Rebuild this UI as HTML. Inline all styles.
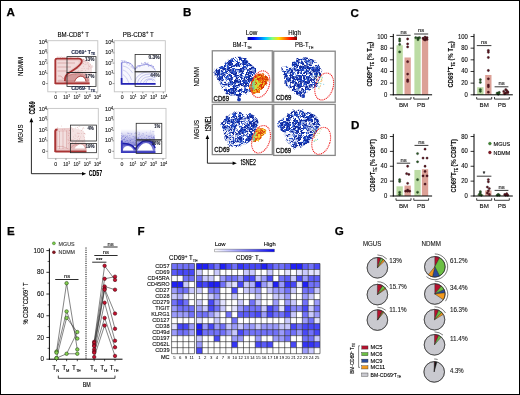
<!DOCTYPE html>
<html><head><meta charset="utf-8"><style>
html,body{margin:0;padding:0;background:#fff;}
svg{display:block;will-change:transform;}
text{font-family:"Liberation Sans", sans-serif;}
</style></head><body>
<svg width="520" height="395" viewBox="0 0 520 395" font-family='"Liberation Sans", sans-serif'>
<defs><linearGradient id="pbg" x1="0" x2="0" y1="0" y2="1"><stop offset="0" stop-color="#7070d0" stop-opacity="0"/><stop offset="1" stop-color="#6060c8" stop-opacity="0.75"/></linearGradient><linearGradient id="jet" x1="0" x2="1" y1="0" y2="0"><stop offset="0" stop-color="#000080"/><stop offset="0.12" stop-color="#0000ff"/><stop offset="0.37" stop-color="#00d0ff"/><stop offset="0.5" stop-color="#80ff80"/><stop offset="0.63" stop-color="#ffe000"/><stop offset="0.87" stop-color="#ff1000"/><stop offset="1" stop-color="#800000"/></linearGradient><filter id="fray1" x="-10%" y="-10%" width="120%" height="120%" color-interpolation-filters="sRGB">
  <feTurbulence type="fractalNoise" baseFrequency="0.25" numOctaves="2" seed="3" result="d"/>
  <feDisplacementMap in="SourceGraphic" in2="d" scale="4" xChannelSelector="R" yChannelSelector="G" result="dm"/><feGaussianBlur in="dm" stdDeviation="0.4"/></filter><filter id="fray2" x="-10%" y="-10%" width="120%" height="120%" color-interpolation-filters="sRGB">
  <feTurbulence type="fractalNoise" baseFrequency="0.25" numOctaves="2" seed="5" result="d"/>
  <feDisplacementMap in="SourceGraphic" in2="d" scale="4" xChannelSelector="R" yChannelSelector="G" result="dm"/><feGaussianBlur in="dm" stdDeviation="0.4"/></filter><filter id="fray3" x="-10%" y="-10%" width="120%" height="120%" color-interpolation-filters="sRGB">
  <feTurbulence type="fractalNoise" baseFrequency="0.25" numOctaves="2" seed="8" result="d"/>
  <feDisplacementMap in="SourceGraphic" in2="d" scale="4" xChannelSelector="R" yChannelSelector="G" result="dm"/><feGaussianBlur in="dm" stdDeviation="0.4"/></filter><filter id="fray4" x="-10%" y="-10%" width="120%" height="120%" color-interpolation-filters="sRGB">
  <feTurbulence type="fractalNoise" baseFrequency="0.25" numOctaves="2" seed="12" result="d"/>
  <feDisplacementMap in="SourceGraphic" in2="d" scale="4" xChannelSelector="R" yChannelSelector="G" result="dm"/><feGaussianBlur in="dm" stdDeviation="0.4"/></filter><filter id="h1" x="0" y="0" width="1" height="1" color-interpolation-filters="sRGB">
  <feTurbulence type="fractalNoise" baseFrequency="0.9" numOctaves="2" seed="4" result="t"/>
  <feColorMatrix in="t" type="matrix" values="0 0 0 0 0  0 0 0 0 0  0 0 0 0 0  10 0 0 0 -3.0" result="m"/>
  <feComposite in="SourceGraphic" in2="m" operator="in"/></filter>
<filter id="h2" x="0" y="0" width="1" height="1" color-interpolation-filters="sRGB">
  <feTurbulence type="fractalNoise" baseFrequency="0.4" numOctaves="2" seed="9" result="t"/>
  <feColorMatrix in="t" type="matrix" values="0 0 0 0 0  0 0 0 0 0  0 0 0 0 0  9 0 0 0 -3.9" result="m"/>
  <feComposite in="SourceGraphic" in2="m" operator="in"/></filter>
<filter id="h3" x="0" y="0" width="1" height="1" color-interpolation-filters="sRGB">
  <feTurbulence type="fractalNoise" baseFrequency="0.6" numOctaves="2" seed="13" result="t"/>
  <feColorMatrix in="t" type="matrix" values="0 0 0 0 0  0 0 0 0 0  0 0 0 0 0  12 0 0 0 -7.6" result="m"/>
  <feComposite in="SourceGraphic" in2="m" operator="in"/></filter>
<filter id="h5" x="0" y="0" width="1" height="1" color-interpolation-filters="sRGB">
  <feTurbulence type="fractalNoise" baseFrequency="0.55" numOctaves="2" seed="31" result="t"/>
  <feColorMatrix in="t" type="matrix" values="0 0 0 0 0  0 0 0 0 0  0 0 0 0 0  10 0 0 0 -4.9" result="m"/>
  <feComposite in="SourceGraphic" in2="m" operator="in"/></filter>
<filter id="h6" x="0" y="0" width="1" height="1" color-interpolation-filters="sRGB">
  <feTurbulence type="fractalNoise" baseFrequency="0.5" numOctaves="2" seed="41" result="t"/>
  <feColorMatrix in="t" type="matrix" values="0 0 0 0 0  0 0 0 0 0  0 0 0 0 0  12 0 0 0 -7.4" result="m"/>
  <feComposite in="SourceGraphic" in2="m" operator="in"/></filter>
<filter id="h7" x="0" y="0" width="1" height="1" color-interpolation-filters="sRGB">
  <feTurbulence type="fractalNoise" baseFrequency="0.3" numOctaves="3" seed="57" result="t"/>
  <feColorMatrix in="t" type="matrix" values="0 0 0 0 0  0 0 0 0 0  0 0 0 0 0  14 0 0 0 -8.1" result="m"/>
  <feComposite in="SourceGraphic" in2="m" operator="in"/></filter>
<filter id="h4" x="0" y="0" width="1" height="1" color-interpolation-filters="sRGB">
  <feTurbulence type="fractalNoise" baseFrequency="0.7" numOctaves="2" seed="21" result="t"/>
  <feColorMatrix in="t" type="matrix" values="0 0 0 0 0  0 0 0 0 0  0 0 0 0 0  10 0 0 0 -4.6" result="m"/>
  <feComposite in="SourceGraphic" in2="m" operator="in"/></filter><linearGradient id="wb" x1="0" x2="1"><stop offset="0" stop-color="#ffffff"/><stop offset="1" stop-color="#0505f2"/></linearGradient></defs>
<rect x="0" y="0" width="520" height="395" fill="#fff"/>
<text x="6.60" y="16.30" font-size="11.6" text-anchor="start" font-weight="bold" fill="#000" stroke="#000" stroke-width="0.25">A</text>
<text x="57.50" y="36.90" font-size="6.5" text-anchor="start" font-weight="normal" fill="#000" textLength="31.5" lengthAdjust="spacingAndGlyphs"  stroke="#000" stroke-width="0.12">BM-CD8<tspan dy="-2.7" font-size="5.0">+</tspan><tspan dy="2.7">​</tspan> T</text>
<text x="122.85" y="36.90" font-size="6.5" text-anchor="start" font-weight="normal" fill="#000" textLength="31" lengthAdjust="spacingAndGlyphs"  stroke="#000" stroke-width="0.12">PB-CD8<tspan dy="-2.7" font-size="5.0">+</tspan><tspan dy="2.7">​</tspan> T</text>
<text x="-9.50" y="0.00" font-size="6.4" text-anchor="start" font-weight="normal" fill="#000" transform="translate(23.1,66.4) rotate(-90)" textLength="19" lengthAdjust="spacingAndGlyphs"  stroke="#000" stroke-width="0.12">NDMM</text>
<text x="-9.10" y="0.00" font-size="6.4" text-anchor="start" font-weight="normal" fill="#000" transform="translate(23.3,133.6) rotate(-90)" textLength="18.2" lengthAdjust="spacingAndGlyphs"  stroke="#000" stroke-width="0.12">MGUS</text>
<rect x="47.80" y="40.70" width="50.00" height="51.10" fill="none" stroke="#c4c4c4" stroke-width="0.9" />
<rect x="114.30" y="40.70" width="51.00" height="51.10" fill="none" stroke="#c4c4c4" stroke-width="0.9" />
<rect x="47.80" y="108.40" width="50.50" height="50.00" fill="none" stroke="#c4c4c4" stroke-width="0.9" />
<rect x="114.00" y="108.40" width="52.00" height="50.00" fill="none" stroke="#c4c4c4" stroke-width="0.9" />
<path d="M78,58.5 Q90,60 92,66 L92,76 Q90,73 84,74 L72,73 Z" fill="#f3e0e0"/>
<path d="M55,58.2 L80,58.2 Q84,58.6 83.5,62 Q82,66 74,70.5 Q88,71.5 89.5,78 L90,84.8 L55,84.8 Z" fill="#ebcaca"/>
<path d="M57,61 L78,61 Q80,62 77,65 Q72,69 67,72 Q64.5,74 64.5,78 L57,80 Z" fill="#f2dada"/>
<path d="M65,76 Q70,73.2 78,73.4 Q86,74 88.6,79.5 L89,84 L64.6,84 Z" fill="#d49a9a"/>
<path d="M55.3,84 L55.3,59.8 Q55.5,58.7 57,58.7 L79,58.7 Q82.6,59.2 81.6,62.4 Q79.4,66.6 71.5,71.2 Q66,74.2 65.2,77.5 L64.9,81" fill="none" stroke="#a93434" stroke-width="1.8"/>
<path d="M55.4,83.3 L89.6,83.3" fill="none" stroke="#a93434" stroke-width="1.8"/>
<path d="M57.5,63 L75,63 M57.5,67 L71,67 M57.5,71 L67,71 M58,76 Q61,74.5 63.5,79 M66.5,77 Q72,73.2 80,73.6 Q87,74.3 88.8,81 M58,81 L88,81" fill="none" stroke="#a93434" stroke-width="0.5" opacity="0.55"/>
<path d="M74.8,81.6 Q76.5,77.2 80.5,76.7 Q84.8,76.6 85.6,81.6 Z" fill="#fff"/>
<path d="M74.6,81.4 Q76.5,76.6 80.5,76.1 Q85.2,76 86,81.4" fill="none" stroke="#a93434" stroke-width="0.9" opacity="0.9"/>
<circle cx="77.2" cy="68.5" r="0.4" fill="#a93434" opacity="0.4"/>
<circle cx="83.6" cy="59.6" r="0.4" fill="#a93434" opacity="0.4"/>
<circle cx="92.9" cy="66.3" r="0.4" fill="#a93434" opacity="0.4"/>
<circle cx="88.9" cy="66.4" r="0.4" fill="#a93434" opacity="0.4"/>
<circle cx="84.0" cy="61.0" r="0.4" fill="#a93434" opacity="0.4"/>
<circle cx="83.9" cy="72.8" r="0.4" fill="#a93434" opacity="0.4"/>
<circle cx="81.1" cy="70.7" r="0.4" fill="#a93434" opacity="0.4"/>
<circle cx="84.8" cy="59.6" r="0.4" fill="#a93434" opacity="0.4"/>
<circle cx="87.0" cy="68.3" r="0.4" fill="#a93434" opacity="0.4"/>
<circle cx="89.6" cy="66.3" r="0.4" fill="#a93434" opacity="0.4"/>
<circle cx="86.0" cy="73.0" r="0.4" fill="#a93434" opacity="0.4"/>
<circle cx="85.9" cy="73.7" r="0.4" fill="#a93434" opacity="0.4"/>
<circle cx="77.9" cy="71.7" r="0.4" fill="#a93434" opacity="0.4"/>
<circle cx="79.1" cy="73.9" r="0.4" fill="#a93434" opacity="0.4"/>
<circle cx="90.0" cy="60.1" r="0.4" fill="#a93434" opacity="0.4"/>
<circle cx="92.1" cy="65.7" r="0.4" fill="#a93434" opacity="0.4"/>
<circle cx="83.7" cy="63.5" r="0.4" fill="#a93434" opacity="0.4"/>
<circle cx="80.7" cy="64.9" r="0.4" fill="#a93434" opacity="0.4"/>
<circle cx="76.8" cy="68.2" r="0.4" fill="#a93434" opacity="0.4"/>
<circle cx="82.6" cy="73.4" r="0.4" fill="#a93434" opacity="0.4"/>
<circle cx="85.0" cy="73.8" r="0.4" fill="#a93434" opacity="0.4"/>
<circle cx="89.4" cy="74.9" r="0.4" fill="#a93434" opacity="0.4"/>
<circle cx="84.8" cy="61.2" r="0.4" fill="#a93434" opacity="0.4"/>
<circle cx="89.5" cy="74.4" r="0.4" fill="#a93434" opacity="0.4"/>
<circle cx="90.6" cy="67.9" r="0.4" fill="#a93434" opacity="0.4"/>
<circle cx="85.8" cy="62.0" r="0.4" fill="#a93434" opacity="0.4"/>
<circle cx="88.8" cy="68.0" r="0.4" fill="#a93434" opacity="0.4"/>
<circle cx="89.3" cy="74.8" r="0.4" fill="#a93434" opacity="0.4"/>
<circle cx="75.3" cy="71.2" r="0.4" fill="#a93434" opacity="0.4"/>
<circle cx="89.8" cy="59.2" r="0.4" fill="#a93434" opacity="0.4"/>
<circle cx="83.4" cy="59.2" r="0.4" fill="#a93434" opacity="0.4"/>
<circle cx="86.0" cy="64.0" r="0.4" fill="#a93434" opacity="0.4"/>
<circle cx="90.0" cy="74.7" r="0.4" fill="#a93434" opacity="0.4"/>
<circle cx="80.6" cy="75.0" r="0.4" fill="#a93434" opacity="0.4"/>
<circle cx="83.0" cy="59.0" r="0.4" fill="#a93434" opacity="0.4"/>
<circle cx="83.3" cy="61.1" r="0.4" fill="#a93434" opacity="0.4"/>
<circle cx="75.8" cy="74.3" r="0.4" fill="#a93434" opacity="0.4"/>
<circle cx="90.4" cy="64.7" r="0.4" fill="#a93434" opacity="0.4"/>
<circle cx="79.5" cy="67.1" r="0.4" fill="#a93434" opacity="0.4"/>
<circle cx="84.1" cy="68.3" r="0.4" fill="#a93434" opacity="0.4"/>
<circle cx="82.0" cy="68.7" r="0.4" fill="#a93434" opacity="0.4"/>
<circle cx="91.5" cy="66.9" r="0.4" fill="#a93434" opacity="0.4"/>
<circle cx="78.8" cy="70.4" r="0.4" fill="#a93434" opacity="0.4"/>
<circle cx="92.4" cy="67.1" r="0.4" fill="#a93434" opacity="0.4"/>
<circle cx="78.4" cy="68.1" r="0.4" fill="#a93434" opacity="0.4"/>
<circle cx="83.8" cy="59.5" r="0.4" fill="#a93434" opacity="0.4"/>
<circle cx="83.7" cy="66.2" r="0.4" fill="#a93434" opacity="0.4"/>
<circle cx="85.0" cy="64.3" r="0.4" fill="#a93434" opacity="0.4"/>
<circle cx="85.7" cy="70.7" r="0.4" fill="#a93434" opacity="0.4"/>
<circle cx="84.9" cy="74.4" r="0.4" fill="#a93434" opacity="0.4"/>
<circle cx="82.8" cy="63.8" r="0.4" fill="#a93434" opacity="0.4"/>
<circle cx="77.2" cy="68.3" r="0.4" fill="#a93434" opacity="0.4"/>
<circle cx="87.3" cy="58.9" r="0.4" fill="#a93434" opacity="0.4"/>
<circle cx="82.2" cy="70.6" r="0.4" fill="#a93434" opacity="0.4"/>
<circle cx="88.1" cy="62.4" r="0.4" fill="#a93434" opacity="0.4"/>
<circle cx="85.5" cy="60.2" r="0.4" fill="#a93434" opacity="0.4"/>
<circle cx="88.8" cy="65.7" r="0.4" fill="#a93434" opacity="0.4"/>
<circle cx="89.4" cy="61.3" r="0.4" fill="#a93434" opacity="0.4"/>
<circle cx="76.4" cy="69.2" r="0.4" fill="#a93434" opacity="0.4"/>
<circle cx="90.1" cy="65.9" r="0.4" fill="#a93434" opacity="0.4"/>
<circle cx="81.2" cy="61.6" r="0.4" fill="#a93434" opacity="0.4"/>
<circle cx="88.2" cy="72.3" r="0.4" fill="#a93434" opacity="0.4"/>
<circle cx="88.2" cy="69.1" r="0.4" fill="#a93434" opacity="0.4"/>
<circle cx="88.2" cy="64.2" r="0.4" fill="#a93434" opacity="0.4"/>
<circle cx="87.8" cy="63.0" r="0.4" fill="#a93434" opacity="0.4"/>
<circle cx="66.1" cy="57.3" r="0.35" fill="#a93434" opacity="0.35"/>
<circle cx="78.1" cy="56.8" r="0.35" fill="#a93434" opacity="0.35"/>
<circle cx="56.1" cy="58.4" r="0.35" fill="#a93434" opacity="0.35"/>
<circle cx="77.1" cy="58.5" r="0.35" fill="#a93434" opacity="0.35"/>
<circle cx="66.4" cy="58.4" r="0.35" fill="#a93434" opacity="0.35"/>
<circle cx="78.3" cy="56.9" r="0.35" fill="#a93434" opacity="0.35"/>
<circle cx="73.9" cy="58.2" r="0.35" fill="#a93434" opacity="0.35"/>
<circle cx="71.9" cy="57.5" r="0.35" fill="#a93434" opacity="0.35"/>
<circle cx="62.9" cy="57.2" r="0.35" fill="#a93434" opacity="0.35"/>
<circle cx="61.5" cy="56.6" r="0.35" fill="#a93434" opacity="0.35"/>
<circle cx="70.1" cy="57.1" r="0.35" fill="#a93434" opacity="0.35"/>
<circle cx="75.4" cy="56.6" r="0.35" fill="#a93434" opacity="0.35"/>
<circle cx="77.7" cy="57.9" r="0.35" fill="#a93434" opacity="0.35"/>
<circle cx="78.2" cy="58.3" r="0.35" fill="#a93434" opacity="0.35"/>
<circle cx="77.6" cy="57.7" r="0.35" fill="#a93434" opacity="0.35"/>
<circle cx="56.3" cy="58.0" r="0.35" fill="#a93434" opacity="0.35"/>
<circle cx="60.1" cy="57.1" r="0.35" fill="#a93434" opacity="0.35"/>
<circle cx="71.9" cy="57.5" r="0.35" fill="#a93434" opacity="0.35"/>
<circle cx="65.9" cy="58.4" r="0.35" fill="#a93434" opacity="0.35"/>
<circle cx="70.7" cy="57.2" r="0.35" fill="#a93434" opacity="0.35"/>
<circle cx="62.1" cy="58.2" r="0.35" fill="#a93434" opacity="0.35"/>
<circle cx="67.5" cy="58.1" r="0.35" fill="#a93434" opacity="0.35"/>
<circle cx="64.4" cy="56.9" r="0.35" fill="#a93434" opacity="0.35"/>
<circle cx="68.8" cy="58.1" r="0.35" fill="#a93434" opacity="0.35"/>
<circle cx="60.1" cy="58.1" r="0.35" fill="#a93434" opacity="0.35"/>
<circle cx="78.1" cy="58.1" r="0.35" fill="#a93434" opacity="0.35"/>
<circle cx="75.8" cy="56.5" r="0.35" fill="#a93434" opacity="0.35"/>
<circle cx="71.1" cy="58.2" r="0.35" fill="#a93434" opacity="0.35"/>
<circle cx="57.2" cy="57.0" r="0.35" fill="#a93434" opacity="0.35"/>
<circle cx="62.4" cy="57.6" r="0.35" fill="#a93434" opacity="0.35"/>
<circle cx="66.2" cy="57.4" r="0.35" fill="#a93434" opacity="0.35"/>
<circle cx="74.6" cy="56.5" r="0.35" fill="#a93434" opacity="0.35"/>
<circle cx="57.3" cy="56.8" r="0.35" fill="#a93434" opacity="0.35"/>
<circle cx="59.0" cy="56.6" r="0.35" fill="#a93434" opacity="0.35"/>
<circle cx="79.4" cy="58.2" r="0.35" fill="#a93434" opacity="0.35"/>
<circle cx="58.1" cy="57.5" r="0.35" fill="#a93434" opacity="0.35"/>
<circle cx="63.6" cy="57.1" r="0.35" fill="#a93434" opacity="0.35"/>
<circle cx="64.4" cy="57.8" r="0.35" fill="#a93434" opacity="0.35"/>
<circle cx="70.1" cy="57.2" r="0.35" fill="#a93434" opacity="0.35"/>
<circle cx="60.6" cy="57.2" r="0.35" fill="#a93434" opacity="0.35"/>
<path d="M69,127.5 Q78,128.5 84,131 L85.5,143 L69,143 Z" fill="#f4e2e2"/>
<path d="M54.5,130 Q55,128.5 58,128.3 L70,128 L70.5,152.6 L54.5,152.6 Z" fill="#ebcbcb"/>
<path d="M69.5,143 L86.4,143 L86.6,152.6 L69.5,152.6 Z" fill="#e4bcbc"/>
<path d="M58,132 L67,131.5 L67.5,148 L58,148 Z" fill="#f4e4e4" opacity="0.8"/>
<path d="M55.3,152 L55.3,131.2 Q55.5,129.6 57.5,129.6" fill="none" stroke="#a93434" stroke-width="2.0"/>
<path d="M55.3,151.5 L86.4,151.5" fill="none" stroke="#a93434" stroke-width="1.9"/>
<path d="M59.5,131 L59.5,149 M63,130.5 L63,149 M66.5,130.5 L66.5,148 M57.5,146.5 Q62,145 68.5,149 M69.5,149.5 Q73,144 79,143.6 Q85,143.8 86,149.5" fill="none" stroke="#a93434" stroke-width="0.5" opacity="0.45"/>
<path d="M74.6,148.4 Q77,144.6 80.6,144.6 Q84,144.8 84.8,148.4 Z" fill="#fff"/>
<circle cx="77.2" cy="133.3" r="0.4" fill="#a93434" opacity="0.38"/>
<circle cx="57.5" cy="129.2" r="0.4" fill="#a93434" opacity="0.38"/>
<circle cx="79.3" cy="133.3" r="0.4" fill="#a93434" opacity="0.38"/>
<circle cx="79.8" cy="138.3" r="0.4" fill="#a93434" opacity="0.38"/>
<circle cx="68.4" cy="133.1" r="0.4" fill="#a93434" opacity="0.38"/>
<circle cx="70.4" cy="139.9" r="0.4" fill="#a93434" opacity="0.38"/>
<circle cx="68.0" cy="139.7" r="0.4" fill="#a93434" opacity="0.38"/>
<circle cx="69.3" cy="130.5" r="0.4" fill="#a93434" opacity="0.38"/>
<circle cx="71.6" cy="139.8" r="0.4" fill="#a93434" opacity="0.38"/>
<circle cx="68.2" cy="143.5" r="0.4" fill="#a93434" opacity="0.38"/>
<circle cx="84.0" cy="133.2" r="0.4" fill="#a93434" opacity="0.38"/>
<circle cx="82.8" cy="141.7" r="0.4" fill="#a93434" opacity="0.38"/>
<circle cx="75.5" cy="143.7" r="0.4" fill="#a93434" opacity="0.38"/>
<circle cx="79.6" cy="139.2" r="0.4" fill="#a93434" opacity="0.38"/>
<circle cx="77.7" cy="137.1" r="0.4" fill="#a93434" opacity="0.38"/>
<circle cx="55.2" cy="128.4" r="0.4" fill="#a93434" opacity="0.38"/>
<circle cx="79.0" cy="126.4" r="0.4" fill="#a93434" opacity="0.38"/>
<circle cx="57.8" cy="127.5" r="0.4" fill="#a93434" opacity="0.38"/>
<circle cx="82.3" cy="129.2" r="0.4" fill="#a93434" opacity="0.38"/>
<circle cx="75.9" cy="142.6" r="0.4" fill="#a93434" opacity="0.38"/>
<circle cx="84.5" cy="137.4" r="0.4" fill="#a93434" opacity="0.38"/>
<circle cx="79.8" cy="126.2" r="0.4" fill="#a93434" opacity="0.38"/>
<circle cx="78.8" cy="136.0" r="0.4" fill="#a93434" opacity="0.38"/>
<circle cx="77.2" cy="127.7" r="0.4" fill="#a93434" opacity="0.38"/>
<circle cx="78.2" cy="144.7" r="0.4" fill="#a93434" opacity="0.38"/>
<circle cx="72.5" cy="142.5" r="0.4" fill="#a93434" opacity="0.38"/>
<circle cx="62.5" cy="129.2" r="0.4" fill="#a93434" opacity="0.38"/>
<circle cx="78.4" cy="133.6" r="0.4" fill="#a93434" opacity="0.38"/>
<circle cx="85.2" cy="134.0" r="0.4" fill="#a93434" opacity="0.38"/>
<circle cx="78.2" cy="128.8" r="0.4" fill="#a93434" opacity="0.38"/>
<circle cx="76.4" cy="141.0" r="0.4" fill="#a93434" opacity="0.38"/>
<circle cx="75.9" cy="136.1" r="0.4" fill="#a93434" opacity="0.38"/>
<circle cx="70.0" cy="138.7" r="0.4" fill="#a93434" opacity="0.38"/>
<circle cx="82.8" cy="128.6" r="0.4" fill="#a93434" opacity="0.38"/>
<circle cx="83.4" cy="136.1" r="0.4" fill="#a93434" opacity="0.38"/>
<circle cx="68.7" cy="140.2" r="0.4" fill="#a93434" opacity="0.38"/>
<circle cx="76.4" cy="145.0" r="0.4" fill="#a93434" opacity="0.38"/>
<circle cx="73.1" cy="131.0" r="0.4" fill="#a93434" opacity="0.38"/>
<circle cx="61.7" cy="126.0" r="0.4" fill="#a93434" opacity="0.38"/>
<circle cx="69.9" cy="133.3" r="0.4" fill="#a93434" opacity="0.38"/>
<circle cx="69.9" cy="137.8" r="0.4" fill="#a93434" opacity="0.38"/>
<circle cx="69.5" cy="142.6" r="0.4" fill="#a93434" opacity="0.38"/>
<circle cx="80.5" cy="136.9" r="0.4" fill="#a93434" opacity="0.38"/>
<circle cx="69.9" cy="140.3" r="0.4" fill="#a93434" opacity="0.38"/>
<circle cx="81.6" cy="133.7" r="0.4" fill="#a93434" opacity="0.38"/>
<circle cx="77.7" cy="145.2" r="0.4" fill="#a93434" opacity="0.38"/>
<circle cx="69.5" cy="130.2" r="0.4" fill="#a93434" opacity="0.38"/>
<circle cx="75.9" cy="145.2" r="0.4" fill="#a93434" opacity="0.38"/>
<circle cx="81.5" cy="130.5" r="0.4" fill="#a93434" opacity="0.38"/>
<circle cx="81.6" cy="143.9" r="0.4" fill="#a93434" opacity="0.38"/>
<circle cx="77.6" cy="127.3" r="0.4" fill="#a93434" opacity="0.38"/>
<circle cx="73.0" cy="139.3" r="0.4" fill="#a93434" opacity="0.38"/>
<circle cx="68.5" cy="135.5" r="0.4" fill="#a93434" opacity="0.38"/>
<circle cx="84.6" cy="133.5" r="0.4" fill="#a93434" opacity="0.38"/>
<circle cx="71.9" cy="127.9" r="0.4" fill="#a93434" opacity="0.38"/>
<circle cx="83.2" cy="127.5" r="0.4" fill="#a93434" opacity="0.38"/>
<circle cx="84.2" cy="133.2" r="0.4" fill="#a93434" opacity="0.38"/>
<circle cx="78.9" cy="141.0" r="0.4" fill="#a93434" opacity="0.38"/>
<circle cx="75.3" cy="142.0" r="0.4" fill="#a93434" opacity="0.38"/>
<circle cx="84.8" cy="139.3" r="0.4" fill="#a93434" opacity="0.38"/>
<circle cx="71.6" cy="127.8" r="0.4" fill="#a93434" opacity="0.38"/>
<circle cx="70.3" cy="132.7" r="0.4" fill="#a93434" opacity="0.38"/>
<circle cx="77.3" cy="139.4" r="0.4" fill="#a93434" opacity="0.38"/>
<circle cx="72.6" cy="129.2" r="0.4" fill="#a93434" opacity="0.38"/>
<circle cx="75.0" cy="138.4" r="0.4" fill="#a93434" opacity="0.38"/>
<circle cx="75.3" cy="128.0" r="0.4" fill="#a93434" opacity="0.38"/>
<circle cx="83.9" cy="128.4" r="0.4" fill="#a93434" opacity="0.38"/>
<circle cx="73.5" cy="136.9" r="0.4" fill="#a93434" opacity="0.38"/>
<circle cx="75.1" cy="134.9" r="0.4" fill="#a93434" opacity="0.38"/>
<circle cx="64.7" cy="129.1" r="0.4" fill="#a93434" opacity="0.38"/>
<circle cx="78.4" cy="136.6" r="0.4" fill="#a93434" opacity="0.38"/>
<circle cx="77.9" cy="132.9" r="0.4" fill="#a93434" opacity="0.38"/>
<path d="M121,62.4 Q127,61.4 131,63.6 Q133.5,66 134.6,69.2 Q138,65 145,64.3 Q152,64.3 155.4,70.4 L155.6,84.8 L121,84.8 Z" fill="#f7f7fd"/>
<circle cx="130.0" cy="64.5" r="0.4" fill="#5a5ad0" opacity="0.5"/>
<circle cx="151.1" cy="64.3" r="0.4" fill="#5a5ad0" opacity="0.5"/>
<circle cx="138.3" cy="65.4" r="0.4" fill="#5a5ad0" opacity="0.5"/>
<circle cx="147.5" cy="63.6" r="0.4" fill="#5a5ad0" opacity="0.5"/>
<circle cx="132.2" cy="66.3" r="0.4" fill="#5a5ad0" opacity="0.5"/>
<circle cx="139.6" cy="66.3" r="0.4" fill="#5a5ad0" opacity="0.5"/>
<circle cx="132.9" cy="68.4" r="0.4" fill="#5a5ad0" opacity="0.5"/>
<circle cx="124.8" cy="61.7" r="0.4" fill="#5a5ad0" opacity="0.5"/>
<circle cx="124.4" cy="61.0" r="0.4" fill="#5a5ad0" opacity="0.5"/>
<circle cx="147.9" cy="65.0" r="0.4" fill="#5a5ad0" opacity="0.5"/>
<circle cx="127.2" cy="62.3" r="0.4" fill="#5a5ad0" opacity="0.5"/>
<circle cx="135.2" cy="69.9" r="0.4" fill="#5a5ad0" opacity="0.5"/>
<circle cx="149.2" cy="65.6" r="0.4" fill="#5a5ad0" opacity="0.5"/>
<circle cx="141.3" cy="63.3" r="0.4" fill="#5a5ad0" opacity="0.5"/>
<circle cx="134.4" cy="67.6" r="0.4" fill="#5a5ad0" opacity="0.5"/>
<circle cx="139.1" cy="65.9" r="0.4" fill="#5a5ad0" opacity="0.5"/>
<circle cx="127.8" cy="62.8" r="0.4" fill="#5a5ad0" opacity="0.5"/>
<circle cx="148.0" cy="62.7" r="0.4" fill="#5a5ad0" opacity="0.5"/>
<circle cx="148.7" cy="65.9" r="0.4" fill="#5a5ad0" opacity="0.5"/>
<circle cx="153.8" cy="67.6" r="0.4" fill="#5a5ad0" opacity="0.5"/>
<circle cx="139.9" cy="65.5" r="0.4" fill="#5a5ad0" opacity="0.5"/>
<circle cx="142.8" cy="65.7" r="0.4" fill="#5a5ad0" opacity="0.5"/>
<circle cx="144.6" cy="63.1" r="0.4" fill="#5a5ad0" opacity="0.5"/>
<circle cx="150.7" cy="65.5" r="0.4" fill="#5a5ad0" opacity="0.5"/>
<circle cx="141.6" cy="65.2" r="0.4" fill="#5a5ad0" opacity="0.5"/>
<circle cx="121.1" cy="62.8" r="0.4" fill="#5a5ad0" opacity="0.5"/>
<circle cx="143.8" cy="63.9" r="0.4" fill="#5a5ad0" opacity="0.5"/>
<circle cx="138.9" cy="65.7" r="0.4" fill="#5a5ad0" opacity="0.5"/>
<circle cx="127.5" cy="63.6" r="0.4" fill="#5a5ad0" opacity="0.5"/>
<circle cx="122.3" cy="62.0" r="0.4" fill="#5a5ad0" opacity="0.5"/>
<circle cx="143.2" cy="63.8" r="0.4" fill="#5a5ad0" opacity="0.5"/>
<circle cx="140.4" cy="66.5" r="0.4" fill="#5a5ad0" opacity="0.5"/>
<circle cx="151.8" cy="65.1" r="0.4" fill="#5a5ad0" opacity="0.5"/>
<circle cx="148.3" cy="64.8" r="0.4" fill="#5a5ad0" opacity="0.5"/>
<circle cx="122.7" cy="61.5" r="0.4" fill="#5a5ad0" opacity="0.5"/>
<circle cx="128.9" cy="62.8" r="0.4" fill="#5a5ad0" opacity="0.5"/>
<circle cx="139.5" cy="66.9" r="0.4" fill="#5a5ad0" opacity="0.5"/>
<circle cx="131.9" cy="67.6" r="0.4" fill="#5a5ad0" opacity="0.5"/>
<circle cx="144.9" cy="62.6" r="0.4" fill="#5a5ad0" opacity="0.5"/>
<circle cx="150.6" cy="65.9" r="0.4" fill="#5a5ad0" opacity="0.5"/>
<circle cx="153.0" cy="68.1" r="0.4" fill="#5a5ad0" opacity="0.5"/>
<circle cx="146.5" cy="63.4" r="0.4" fill="#5a5ad0" opacity="0.5"/>
<circle cx="148.8" cy="66.1" r="0.4" fill="#5a5ad0" opacity="0.5"/>
<circle cx="150.8" cy="65.4" r="0.4" fill="#5a5ad0" opacity="0.5"/>
<circle cx="147.1" cy="64.0" r="0.4" fill="#5a5ad0" opacity="0.5"/>
<circle cx="124.7" cy="60.9" r="0.4" fill="#5a5ad0" opacity="0.5"/>
<circle cx="123.6" cy="61.1" r="0.4" fill="#5a5ad0" opacity="0.5"/>
<circle cx="126.4" cy="63.0" r="0.4" fill="#5a5ad0" opacity="0.5"/>
<circle cx="145.1" cy="63.9" r="0.4" fill="#5a5ad0" opacity="0.5"/>
<circle cx="135.4" cy="69.4" r="0.4" fill="#5a5ad0" opacity="0.5"/>
<circle cx="131.3" cy="65.7" r="0.4" fill="#5a5ad0" opacity="0.5"/>
<circle cx="147.1" cy="63.7" r="0.4" fill="#5a5ad0" opacity="0.5"/>
<circle cx="127.1" cy="64.6" r="0.4" fill="#5a5ad0" opacity="0.5"/>
<circle cx="145.8" cy="63.4" r="0.4" fill="#5a5ad0" opacity="0.5"/>
<circle cx="133.5" cy="67.9" r="0.4" fill="#5a5ad0" opacity="0.5"/>
<circle cx="141.5" cy="63.5" r="0.4" fill="#5a5ad0" opacity="0.5"/>
<circle cx="121.1" cy="60.9" r="0.4" fill="#5a5ad0" opacity="0.5"/>
<circle cx="148.0" cy="63.1" r="0.4" fill="#5a5ad0" opacity="0.5"/>
<circle cx="136.7" cy="66.5" r="0.4" fill="#5a5ad0" opacity="0.5"/>
<circle cx="128.1" cy="62.6" r="0.4" fill="#5a5ad0" opacity="0.5"/>
<circle cx="134.7" cy="68.4" r="0.4" fill="#5a5ad0" opacity="0.5"/>
<circle cx="121.9" cy="60.6" r="0.4" fill="#5a5ad0" opacity="0.5"/>
<circle cx="126.7" cy="63.1" r="0.4" fill="#5a5ad0" opacity="0.5"/>
<circle cx="123.0" cy="60.4" r="0.4" fill="#5a5ad0" opacity="0.5"/>
<circle cx="136.3" cy="67.6" r="0.4" fill="#5a5ad0" opacity="0.5"/>
<circle cx="145.2" cy="62.3" r="0.4" fill="#5a5ad0" opacity="0.5"/>
<circle cx="134.7" cy="69.2" r="0.4" fill="#5a5ad0" opacity="0.5"/>
<circle cx="121.9" cy="63.5" r="0.4" fill="#5a5ad0" opacity="0.5"/>
<circle cx="128.4" cy="62.6" r="0.4" fill="#5a5ad0" opacity="0.5"/>
<circle cx="137.2" cy="66.0" r="0.4" fill="#5a5ad0" opacity="0.5"/>
<circle cx="142.4" cy="63.6" r="0.4" fill="#5a5ad0" opacity="0.5"/>
<circle cx="125.2" cy="61.0" r="0.4" fill="#5a5ad0" opacity="0.5"/>
<circle cx="146.1" cy="63.1" r="0.4" fill="#5a5ad0" opacity="0.5"/>
<circle cx="148.2" cy="64.2" r="0.4" fill="#5a5ad0" opacity="0.5"/>
<circle cx="153.3" cy="66.8" r="0.4" fill="#5a5ad0" opacity="0.5"/>
<circle cx="129.4" cy="63.8" r="0.4" fill="#5a5ad0" opacity="0.5"/>
<circle cx="149.1" cy="65.2" r="0.4" fill="#5a5ad0" opacity="0.5"/>
<circle cx="132.6" cy="65.6" r="0.4" fill="#5a5ad0" opacity="0.5"/>
<circle cx="144.5" cy="65.4" r="0.4" fill="#5a5ad0" opacity="0.5"/>
<circle cx="141.3" cy="62.8" r="0.4" fill="#5a5ad0" opacity="0.5"/>
<circle cx="122.0" cy="60.5" r="0.4" fill="#5a5ad0" opacity="0.5"/>
<circle cx="126.7" cy="61.6" r="0.4" fill="#5a5ad0" opacity="0.5"/>
<circle cx="122.8" cy="62.5" r="0.4" fill="#5a5ad0" opacity="0.5"/>
<circle cx="152.1" cy="65.5" r="0.4" fill="#5a5ad0" opacity="0.5"/>
<circle cx="154.7" cy="68.8" r="0.4" fill="#5a5ad0" opacity="0.5"/>
<circle cx="148.7" cy="66.0" r="0.4" fill="#5a5ad0" opacity="0.5"/>
<circle cx="153.5" cy="66.2" r="0.4" fill="#5a5ad0" opacity="0.5"/>
<circle cx="131.3" cy="66.2" r="0.4" fill="#5a5ad0" opacity="0.5"/>
<circle cx="153.7" cy="66.5" r="0.4" fill="#5a5ad0" opacity="0.5"/>
<circle cx="130.9" cy="66.8" r="0.4" fill="#5a5ad0" opacity="0.5"/>
<circle cx="124.9" cy="62.1" r="0.4" fill="#5a5ad0" opacity="0.5"/>
<circle cx="132.3" cy="67.3" r="0.4" fill="#5a5ad0" opacity="0.5"/>
<circle cx="153.1" cy="66.3" r="0.4" fill="#5a5ad0" opacity="0.5"/>
<circle cx="146.5" cy="64.7" r="0.4" fill="#5a5ad0" opacity="0.5"/>
<circle cx="149.8" cy="65.3" r="0.4" fill="#5a5ad0" opacity="0.5"/>
<circle cx="152.9" cy="66.7" r="0.4" fill="#5a5ad0" opacity="0.5"/>
<circle cx="135.1" cy="68.2" r="0.4" fill="#5a5ad0" opacity="0.5"/>
<circle cx="147.9" cy="64.2" r="0.4" fill="#5a5ad0" opacity="0.5"/>
<circle cx="130.1" cy="63.9" r="0.4" fill="#5a5ad0" opacity="0.5"/>
<circle cx="145.8" cy="64.2" r="0.4" fill="#5a5ad0" opacity="0.5"/>
<circle cx="145.5" cy="63.4" r="0.4" fill="#5a5ad0" opacity="0.5"/>
<circle cx="137.6" cy="65.6" r="0.4" fill="#5a5ad0" opacity="0.5"/>
<circle cx="145.5" cy="62.2" r="0.4" fill="#5a5ad0" opacity="0.5"/>
<circle cx="136.9" cy="68.2" r="0.4" fill="#5a5ad0" opacity="0.5"/>
<circle cx="144.3" cy="62.5" r="0.4" fill="#5a5ad0" opacity="0.5"/>
<circle cx="129.0" cy="65.5" r="0.4" fill="#5a5ad0" opacity="0.5"/>
<circle cx="143.1" cy="65.3" r="0.4" fill="#5a5ad0" opacity="0.5"/>
<circle cx="151.1" cy="65.7" r="0.4" fill="#5a5ad0" opacity="0.5"/>
<circle cx="152.0" cy="67.3" r="0.4" fill="#5a5ad0" opacity="0.5"/>
<circle cx="132.3" cy="66.2" r="0.4" fill="#5a5ad0" opacity="0.5"/>
<path d="M121,62.4 Q127,61.4 131,63.6 Q133.5,66 134.6,69.2 Q138,65 145,64.3 Q152,64.3 155.4,70.4" fill="none" stroke="#7a7ad8" stroke-width="0.8" opacity="0.8"/>
<path d="M146.5,84 A3.5,2.8 0 0 1 153.5,81.2 M143.5,84 A6.5,5.2 0 0 1 155.5,81.2 M140.5,84 A9.5,7.6 0 0 1 155.5,77.8 M137.5,84 A12.5,10.0 0 0 1 155.5,75.0 M134.5,84 A15.5,12.4 0 0 1 155.5,72.4" fill="none" stroke="#9494e0" stroke-width="0.5"/>
<path d="M123,66 Q129,67 132.5,73 M123,70 Q129,72 131.5,80 M123,74.5 Q127,77 129,83" fill="none" stroke="#9494e0" stroke-width="0.5" opacity="0.8"/>
<path d="M121.6,63 L121.6,83.6" fill="none" stroke="#7070d4" stroke-width="1.4" opacity="0.85"/>
<path d="M121.6,78 L121.6,83.8 L155.6,83.8" fill="none" stroke="#2323b4" stroke-width="1.7"/>
<path d="M121,129 L154,129 L155,146 L121,146 Z" fill="url(#pbg)"/>
<circle cx="134.6" cy="133.3" r="0.4" fill="#3a3ac0" opacity="0.45"/>
<circle cx="124.6" cy="144.6" r="0.4" fill="#3a3ac0" opacity="0.45"/>
<circle cx="124.7" cy="141.1" r="0.4" fill="#3a3ac0" opacity="0.45"/>
<circle cx="143.1" cy="133.6" r="0.4" fill="#3a3ac0" opacity="0.45"/>
<circle cx="122.7" cy="136.8" r="0.4" fill="#3a3ac0" opacity="0.45"/>
<circle cx="142.9" cy="135.3" r="0.4" fill="#3a3ac0" opacity="0.45"/>
<circle cx="121.4" cy="141.2" r="0.4" fill="#3a3ac0" opacity="0.45"/>
<circle cx="153.9" cy="136.7" r="0.4" fill="#3a3ac0" opacity="0.45"/>
<circle cx="140.1" cy="136.5" r="0.4" fill="#3a3ac0" opacity="0.45"/>
<circle cx="147.6" cy="139.4" r="0.4" fill="#3a3ac0" opacity="0.45"/>
<circle cx="147.8" cy="141.4" r="0.4" fill="#3a3ac0" opacity="0.45"/>
<circle cx="127.4" cy="140.7" r="0.4" fill="#3a3ac0" opacity="0.45"/>
<circle cx="123.7" cy="135.7" r="0.4" fill="#3a3ac0" opacity="0.45"/>
<circle cx="124.8" cy="143.5" r="0.4" fill="#3a3ac0" opacity="0.45"/>
<circle cx="153.9" cy="131.5" r="0.4" fill="#3a3ac0" opacity="0.45"/>
<circle cx="151.4" cy="136.1" r="0.4" fill="#3a3ac0" opacity="0.45"/>
<circle cx="136.8" cy="133.7" r="0.4" fill="#3a3ac0" opacity="0.45"/>
<circle cx="149.2" cy="136.6" r="0.4" fill="#3a3ac0" opacity="0.45"/>
<circle cx="142.8" cy="141.6" r="0.4" fill="#3a3ac0" opacity="0.45"/>
<circle cx="150.6" cy="143.0" r="0.4" fill="#3a3ac0" opacity="0.45"/>
<circle cx="141.5" cy="138.4" r="0.4" fill="#3a3ac0" opacity="0.45"/>
<circle cx="124.8" cy="139.7" r="0.4" fill="#3a3ac0" opacity="0.45"/>
<circle cx="141.2" cy="143.6" r="0.4" fill="#3a3ac0" opacity="0.45"/>
<circle cx="128.0" cy="143.4" r="0.4" fill="#3a3ac0" opacity="0.45"/>
<circle cx="136.8" cy="140.7" r="0.4" fill="#3a3ac0" opacity="0.45"/>
<circle cx="123.6" cy="142.7" r="0.4" fill="#3a3ac0" opacity="0.45"/>
<circle cx="137.5" cy="138.4" r="0.4" fill="#3a3ac0" opacity="0.45"/>
<circle cx="139.8" cy="133.3" r="0.4" fill="#3a3ac0" opacity="0.45"/>
<circle cx="135.4" cy="142.7" r="0.4" fill="#3a3ac0" opacity="0.45"/>
<circle cx="141.6" cy="141.9" r="0.4" fill="#3a3ac0" opacity="0.45"/>
<circle cx="132.9" cy="136.4" r="0.4" fill="#3a3ac0" opacity="0.45"/>
<circle cx="132.4" cy="145.0" r="0.4" fill="#3a3ac0" opacity="0.45"/>
<circle cx="123.9" cy="139.5" r="0.4" fill="#3a3ac0" opacity="0.45"/>
<circle cx="126.6" cy="136.5" r="0.4" fill="#3a3ac0" opacity="0.45"/>
<circle cx="145.7" cy="144.4" r="0.4" fill="#3a3ac0" opacity="0.45"/>
<circle cx="154.5" cy="144.0" r="0.4" fill="#3a3ac0" opacity="0.45"/>
<circle cx="152.7" cy="141.5" r="0.4" fill="#3a3ac0" opacity="0.45"/>
<circle cx="135.2" cy="140.7" r="0.4" fill="#3a3ac0" opacity="0.45"/>
<circle cx="151.7" cy="144.6" r="0.4" fill="#3a3ac0" opacity="0.45"/>
<circle cx="137.5" cy="144.6" r="0.4" fill="#3a3ac0" opacity="0.45"/>
<circle cx="134.8" cy="143.1" r="0.4" fill="#3a3ac0" opacity="0.45"/>
<circle cx="152.3" cy="145.0" r="0.4" fill="#3a3ac0" opacity="0.45"/>
<circle cx="152.8" cy="137.6" r="0.4" fill="#3a3ac0" opacity="0.45"/>
<circle cx="124.3" cy="135.9" r="0.4" fill="#3a3ac0" opacity="0.45"/>
<circle cx="131.0" cy="142.6" r="0.4" fill="#3a3ac0" opacity="0.45"/>
<circle cx="142.7" cy="140.5" r="0.4" fill="#3a3ac0" opacity="0.45"/>
<circle cx="146.3" cy="132.2" r="0.4" fill="#3a3ac0" opacity="0.45"/>
<circle cx="135.7" cy="137.4" r="0.4" fill="#3a3ac0" opacity="0.45"/>
<circle cx="146.2" cy="138.4" r="0.4" fill="#3a3ac0" opacity="0.45"/>
<circle cx="130.8" cy="142.8" r="0.4" fill="#3a3ac0" opacity="0.45"/>
<circle cx="131.2" cy="134.1" r="0.4" fill="#3a3ac0" opacity="0.45"/>
<circle cx="123.6" cy="139.3" r="0.4" fill="#3a3ac0" opacity="0.45"/>
<circle cx="146.9" cy="135.3" r="0.4" fill="#3a3ac0" opacity="0.45"/>
<circle cx="154.2" cy="142.4" r="0.4" fill="#3a3ac0" opacity="0.45"/>
<circle cx="150.8" cy="144.8" r="0.4" fill="#3a3ac0" opacity="0.45"/>
<circle cx="126.5" cy="138.8" r="0.4" fill="#3a3ac0" opacity="0.45"/>
<circle cx="136.7" cy="137.9" r="0.4" fill="#3a3ac0" opacity="0.45"/>
<circle cx="139.4" cy="140.6" r="0.4" fill="#3a3ac0" opacity="0.45"/>
<circle cx="150.0" cy="138.6" r="0.4" fill="#3a3ac0" opacity="0.45"/>
<circle cx="136.7" cy="137.5" r="0.4" fill="#3a3ac0" opacity="0.45"/>
<circle cx="148.4" cy="144.1" r="0.4" fill="#3a3ac0" opacity="0.45"/>
<circle cx="129.2" cy="137.7" r="0.4" fill="#3a3ac0" opacity="0.45"/>
<circle cx="121.3" cy="143.4" r="0.4" fill="#3a3ac0" opacity="0.45"/>
<circle cx="139.0" cy="134.8" r="0.4" fill="#3a3ac0" opacity="0.45"/>
<circle cx="126.6" cy="140.7" r="0.4" fill="#3a3ac0" opacity="0.45"/>
<circle cx="127.9" cy="132.6" r="0.4" fill="#3a3ac0" opacity="0.45"/>
<circle cx="136.8" cy="143.0" r="0.4" fill="#3a3ac0" opacity="0.45"/>
<circle cx="147.7" cy="144.8" r="0.4" fill="#3a3ac0" opacity="0.45"/>
<circle cx="122.2" cy="144.8" r="0.4" fill="#3a3ac0" opacity="0.45"/>
<circle cx="121.4" cy="135.9" r="0.4" fill="#3a3ac0" opacity="0.45"/>
<circle cx="132.5" cy="139.5" r="0.4" fill="#3a3ac0" opacity="0.45"/>
<circle cx="139.6" cy="132.6" r="0.4" fill="#3a3ac0" opacity="0.45"/>
<circle cx="131.6" cy="133.9" r="0.4" fill="#3a3ac0" opacity="0.45"/>
<circle cx="148.3" cy="137.0" r="0.4" fill="#3a3ac0" opacity="0.45"/>
<circle cx="129.9" cy="139.3" r="0.4" fill="#3a3ac0" opacity="0.45"/>
<circle cx="135.6" cy="132.4" r="0.4" fill="#3a3ac0" opacity="0.45"/>
<circle cx="144.0" cy="141.7" r="0.4" fill="#3a3ac0" opacity="0.45"/>
<circle cx="148.5" cy="144.3" r="0.4" fill="#3a3ac0" opacity="0.45"/>
<circle cx="125.6" cy="137.0" r="0.4" fill="#3a3ac0" opacity="0.45"/>
<circle cx="147.8" cy="142.9" r="0.4" fill="#3a3ac0" opacity="0.45"/>
<circle cx="149.3" cy="140.4" r="0.4" fill="#3a3ac0" opacity="0.45"/>
<circle cx="130.5" cy="140.9" r="0.4" fill="#3a3ac0" opacity="0.45"/>
<circle cx="121.6" cy="135.6" r="0.4" fill="#3a3ac0" opacity="0.45"/>
<circle cx="151.5" cy="141.8" r="0.4" fill="#3a3ac0" opacity="0.45"/>
<circle cx="136.9" cy="144.2" r="0.4" fill="#3a3ac0" opacity="0.45"/>
<circle cx="152.6" cy="142.1" r="0.4" fill="#3a3ac0" opacity="0.45"/>
<circle cx="141.5" cy="143.4" r="0.4" fill="#3a3ac0" opacity="0.45"/>
<circle cx="138.6" cy="139.3" r="0.4" fill="#3a3ac0" opacity="0.45"/>
<circle cx="127.2" cy="135.6" r="0.4" fill="#3a3ac0" opacity="0.45"/>
<circle cx="154.7" cy="142.2" r="0.4" fill="#3a3ac0" opacity="0.45"/>
<circle cx="134.9" cy="140.8" r="0.4" fill="#3a3ac0" opacity="0.45"/>
<circle cx="136.5" cy="138.5" r="0.4" fill="#3a3ac0" opacity="0.45"/>
<circle cx="136.4" cy="143.3" r="0.4" fill="#3a3ac0" opacity="0.45"/>
<circle cx="126.3" cy="144.7" r="0.4" fill="#3a3ac0" opacity="0.45"/>
<circle cx="138.7" cy="138.0" r="0.4" fill="#3a3ac0" opacity="0.45"/>
<circle cx="149.9" cy="139.3" r="0.4" fill="#3a3ac0" opacity="0.45"/>
<circle cx="152.7" cy="143.6" r="0.4" fill="#3a3ac0" opacity="0.45"/>
<circle cx="122.0" cy="141.5" r="0.4" fill="#3a3ac0" opacity="0.45"/>
<circle cx="139.7" cy="141.1" r="0.4" fill="#3a3ac0" opacity="0.45"/>
<circle cx="130.5" cy="140.2" r="0.4" fill="#3a3ac0" opacity="0.45"/>
<circle cx="152.0" cy="142.5" r="0.4" fill="#3a3ac0" opacity="0.45"/>
<circle cx="143.7" cy="134.1" r="0.4" fill="#3a3ac0" opacity="0.45"/>
<circle cx="138.5" cy="138.7" r="0.4" fill="#3a3ac0" opacity="0.45"/>
<circle cx="153.7" cy="144.1" r="0.4" fill="#3a3ac0" opacity="0.45"/>
<circle cx="127.6" cy="141.8" r="0.4" fill="#3a3ac0" opacity="0.45"/>
<circle cx="127.2" cy="144.4" r="0.4" fill="#3a3ac0" opacity="0.45"/>
<circle cx="149.2" cy="138.9" r="0.4" fill="#3a3ac0" opacity="0.45"/>
<circle cx="130.2" cy="138.0" r="0.4" fill="#3a3ac0" opacity="0.45"/>
<circle cx="153.1" cy="144.6" r="0.4" fill="#3a3ac0" opacity="0.45"/>
<circle cx="134.3" cy="138.0" r="0.4" fill="#3a3ac0" opacity="0.45"/>
<circle cx="125.5" cy="137.5" r="0.4" fill="#3a3ac0" opacity="0.45"/>
<circle cx="154.3" cy="137.0" r="0.4" fill="#3a3ac0" opacity="0.45"/>
<circle cx="128.8" cy="133.5" r="0.4" fill="#3a3ac0" opacity="0.45"/>
<circle cx="123.7" cy="136.2" r="0.4" fill="#3a3ac0" opacity="0.45"/>
<circle cx="146.3" cy="140.6" r="0.4" fill="#3a3ac0" opacity="0.45"/>
<circle cx="142.5" cy="143.6" r="0.4" fill="#3a3ac0" opacity="0.45"/>
<circle cx="121.2" cy="143.5" r="0.4" fill="#3a3ac0" opacity="0.45"/>
<circle cx="153.7" cy="137.5" r="0.4" fill="#3a3ac0" opacity="0.45"/>
<circle cx="130.1" cy="133.2" r="0.4" fill="#3a3ac0" opacity="0.45"/>
<circle cx="130.1" cy="140.1" r="0.4" fill="#3a3ac0" opacity="0.45"/>
<circle cx="122.6" cy="140.8" r="0.4" fill="#3a3ac0" opacity="0.45"/>
<circle cx="153.6" cy="136.8" r="0.4" fill="#3a3ac0" opacity="0.45"/>
<circle cx="151.8" cy="135.1" r="0.4" fill="#3a3ac0" opacity="0.45"/>
<circle cx="154.8" cy="135.7" r="0.4" fill="#3a3ac0" opacity="0.45"/>
<circle cx="143.0" cy="142.1" r="0.4" fill="#3a3ac0" opacity="0.45"/>
<circle cx="122.9" cy="135.0" r="0.4" fill="#3a3ac0" opacity="0.45"/>
<circle cx="127.0" cy="142.9" r="0.4" fill="#3a3ac0" opacity="0.45"/>
<circle cx="149.0" cy="136.0" r="0.4" fill="#3a3ac0" opacity="0.45"/>
<circle cx="122.7" cy="144.0" r="0.4" fill="#3a3ac0" opacity="0.45"/>
<circle cx="139.2" cy="144.7" r="0.4" fill="#3a3ac0" opacity="0.45"/>
<circle cx="124.6" cy="138.9" r="0.4" fill="#3a3ac0" opacity="0.45"/>
<circle cx="154.6" cy="139.0" r="0.4" fill="#3a3ac0" opacity="0.45"/>
<circle cx="125.5" cy="137.5" r="0.4" fill="#3a3ac0" opacity="0.45"/>
<circle cx="125.3" cy="135.1" r="0.4" fill="#3a3ac0" opacity="0.45"/>
<circle cx="152.1" cy="138.5" r="0.4" fill="#3a3ac0" opacity="0.45"/>
<circle cx="127.5" cy="133.4" r="0.4" fill="#3a3ac0" opacity="0.45"/>
<circle cx="154.9" cy="144.5" r="0.4" fill="#3a3ac0" opacity="0.45"/>
<circle cx="129.4" cy="144.8" r="0.4" fill="#3a3ac0" opacity="0.45"/>
<circle cx="153.3" cy="138.5" r="0.4" fill="#3a3ac0" opacity="0.45"/>
<circle cx="144.9" cy="140.1" r="0.4" fill="#3a3ac0" opacity="0.45"/>
<circle cx="121.7" cy="138.0" r="0.4" fill="#3a3ac0" opacity="0.45"/>
<circle cx="146.4" cy="138.4" r="0.4" fill="#3a3ac0" opacity="0.45"/>
<circle cx="140.3" cy="143.1" r="0.4" fill="#3a3ac0" opacity="0.45"/>
<circle cx="139.3" cy="139.9" r="0.4" fill="#3a3ac0" opacity="0.45"/>
<circle cx="139.2" cy="139.6" r="0.4" fill="#3a3ac0" opacity="0.45"/>
<circle cx="127.8" cy="143.6" r="0.4" fill="#3a3ac0" opacity="0.45"/>
<circle cx="152.7" cy="141.3" r="0.4" fill="#3a3ac0" opacity="0.45"/>
<circle cx="127.1" cy="143.7" r="0.4" fill="#3a3ac0" opacity="0.45"/>
<circle cx="149.6" cy="144.7" r="0.4" fill="#3a3ac0" opacity="0.45"/>
<circle cx="130.0" cy="135.6" r="0.4" fill="#3a3ac0" opacity="0.45"/>
<circle cx="122.8" cy="136.2" r="0.4" fill="#3a3ac0" opacity="0.45"/>
<circle cx="134.9" cy="144.8" r="0.4" fill="#3a3ac0" opacity="0.45"/>
<circle cx="124.9" cy="143.9" r="0.4" fill="#3a3ac0" opacity="0.45"/>
<circle cx="150.6" cy="130.9" r="0.4" fill="#3a3ac0" opacity="0.45"/>
<circle cx="154.7" cy="143.3" r="0.4" fill="#3a3ac0" opacity="0.45"/>
<circle cx="138.9" cy="142.2" r="0.4" fill="#3a3ac0" opacity="0.45"/>
<circle cx="124.1" cy="143.0" r="0.4" fill="#3a3ac0" opacity="0.45"/>
<circle cx="136.0" cy="140.8" r="0.4" fill="#3a3ac0" opacity="0.45"/>
<circle cx="141.4" cy="135.1" r="0.4" fill="#3a3ac0" opacity="0.45"/>
<circle cx="138.2" cy="138.1" r="0.4" fill="#3a3ac0" opacity="0.45"/>
<circle cx="131.8" cy="138.8" r="0.4" fill="#3a3ac0" opacity="0.45"/>
<circle cx="141.4" cy="138.6" r="0.4" fill="#3a3ac0" opacity="0.45"/>
<circle cx="152.8" cy="144.8" r="0.4" fill="#3a3ac0" opacity="0.45"/>
<circle cx="149.4" cy="143.9" r="0.4" fill="#3a3ac0" opacity="0.45"/>
<circle cx="154.2" cy="137.6" r="0.4" fill="#3a3ac0" opacity="0.45"/>
<circle cx="125.2" cy="137.3" r="0.4" fill="#3a3ac0" opacity="0.45"/>
<circle cx="145.9" cy="140.3" r="0.4" fill="#3a3ac0" opacity="0.45"/>
<circle cx="142.9" cy="138.3" r="0.4" fill="#3a3ac0" opacity="0.45"/>
<circle cx="153.9" cy="137.5" r="0.4" fill="#3a3ac0" opacity="0.45"/>
<circle cx="137.2" cy="139.8" r="0.4" fill="#3a3ac0" opacity="0.45"/>
<circle cx="150.7" cy="140.7" r="0.4" fill="#3a3ac0" opacity="0.45"/>
<circle cx="139.0" cy="144.9" r="0.4" fill="#3a3ac0" opacity="0.45"/>
<circle cx="142.0" cy="139.6" r="0.4" fill="#3a3ac0" opacity="0.45"/>
<circle cx="135.5" cy="133.2" r="0.4" fill="#3a3ac0" opacity="0.45"/>
<circle cx="147.4" cy="143.7" r="0.4" fill="#3a3ac0" opacity="0.45"/>
<circle cx="150.1" cy="132.9" r="0.4" fill="#3a3ac0" opacity="0.45"/>
<circle cx="154.4" cy="138.9" r="0.4" fill="#3a3ac0" opacity="0.45"/>
<circle cx="128.3" cy="138.7" r="0.4" fill="#3a3ac0" opacity="0.45"/>
<circle cx="151.1" cy="140.9" r="0.4" fill="#3a3ac0" opacity="0.45"/>
<circle cx="150.5" cy="139.5" r="0.4" fill="#3a3ac0" opacity="0.45"/>
<circle cx="133.3" cy="142.5" r="0.4" fill="#3a3ac0" opacity="0.45"/>
<circle cx="138.2" cy="137.8" r="0.4" fill="#3a3ac0" opacity="0.45"/>
<circle cx="133.7" cy="139.1" r="0.4" fill="#3a3ac0" opacity="0.45"/>
<circle cx="150.8" cy="141.9" r="0.4" fill="#3a3ac0" opacity="0.45"/>
<circle cx="126.0" cy="141.2" r="0.4" fill="#3a3ac0" opacity="0.45"/>
<circle cx="133.6" cy="136.5" r="0.4" fill="#3a3ac0" opacity="0.45"/>
<circle cx="125.7" cy="141.5" r="0.4" fill="#3a3ac0" opacity="0.45"/>
<circle cx="131.9" cy="133.6" r="0.4" fill="#3a3ac0" opacity="0.45"/>
<circle cx="122.0" cy="137.5" r="0.4" fill="#3a3ac0" opacity="0.45"/>
<circle cx="152.3" cy="140.7" r="0.4" fill="#3a3ac0" opacity="0.45"/>
<circle cx="146.1" cy="140.7" r="0.4" fill="#3a3ac0" opacity="0.45"/>
<circle cx="149.5" cy="143.6" r="0.4" fill="#3a3ac0" opacity="0.45"/>
<circle cx="136.0" cy="144.3" r="0.4" fill="#3a3ac0" opacity="0.45"/>
<circle cx="125.1" cy="142.2" r="0.4" fill="#3a3ac0" opacity="0.45"/>
<circle cx="133.9" cy="144.0" r="0.4" fill="#3a3ac0" opacity="0.45"/>
<circle cx="151.3" cy="140.0" r="0.4" fill="#3a3ac0" opacity="0.45"/>
<circle cx="127.5" cy="137.6" r="0.4" fill="#3a3ac0" opacity="0.45"/>
<circle cx="141.4" cy="143.5" r="0.4" fill="#3a3ac0" opacity="0.45"/>
<circle cx="122.0" cy="133.7" r="0.4" fill="#3a3ac0" opacity="0.45"/>
<circle cx="121.3" cy="138.5" r="0.4" fill="#3a3ac0" opacity="0.45"/>
<circle cx="127.2" cy="143.6" r="0.4" fill="#3a3ac0" opacity="0.45"/>
<circle cx="134.2" cy="137.4" r="0.4" fill="#3a3ac0" opacity="0.45"/>
<circle cx="135.7" cy="140.4" r="0.4" fill="#3a3ac0" opacity="0.45"/>
<circle cx="143.4" cy="141.7" r="0.4" fill="#3a3ac0" opacity="0.45"/>
<circle cx="124.3" cy="139.6" r="0.4" fill="#3a3ac0" opacity="0.45"/>
<circle cx="144.5" cy="144.8" r="0.4" fill="#3a3ac0" opacity="0.45"/>
<circle cx="136.0" cy="133.6" r="0.4" fill="#3a3ac0" opacity="0.45"/>
<circle cx="154.7" cy="142.9" r="0.4" fill="#3a3ac0" opacity="0.45"/>
<circle cx="121.3" cy="133.1" r="0.4" fill="#3a3ac0" opacity="0.45"/>
<circle cx="135.4" cy="140.1" r="0.4" fill="#3a3ac0" opacity="0.45"/>
<circle cx="149.1" cy="144.1" r="0.4" fill="#3a3ac0" opacity="0.45"/>
<circle cx="135.2" cy="138.2" r="0.4" fill="#3a3ac0" opacity="0.45"/>
<circle cx="151.1" cy="141.2" r="0.4" fill="#3a3ac0" opacity="0.45"/>
<circle cx="134.3" cy="136.2" r="0.4" fill="#3a3ac0" opacity="0.45"/>
<circle cx="142.8" cy="133.8" r="0.4" fill="#3a3ac0" opacity="0.45"/>
<circle cx="152.8" cy="131.6" r="0.4" fill="#3a3ac0" opacity="0.45"/>
<circle cx="140.5" cy="140.6" r="0.4" fill="#3a3ac0" opacity="0.45"/>
<circle cx="128.9" cy="133.7" r="0.4" fill="#3a3ac0" opacity="0.45"/>
<circle cx="150.2" cy="140.0" r="0.4" fill="#3a3ac0" opacity="0.45"/>
<circle cx="130.7" cy="140.7" r="0.4" fill="#3a3ac0" opacity="0.45"/>
<circle cx="143.5" cy="144.9" r="0.4" fill="#3a3ac0" opacity="0.45"/>
<circle cx="127.9" cy="140.6" r="0.4" fill="#3a3ac0" opacity="0.45"/>
<circle cx="151.6" cy="137.7" r="0.4" fill="#3a3ac0" opacity="0.45"/>
<circle cx="139.1" cy="134.8" r="0.4" fill="#3a3ac0" opacity="0.45"/>
<circle cx="133.1" cy="141.6" r="0.4" fill="#3a3ac0" opacity="0.45"/>
<circle cx="151.9" cy="143.0" r="0.4" fill="#3a3ac0" opacity="0.45"/>
<circle cx="146.1" cy="143.8" r="0.4" fill="#3a3ac0" opacity="0.45"/>
<circle cx="123.0" cy="136.2" r="0.4" fill="#3a3ac0" opacity="0.45"/>
<circle cx="131.6" cy="139.5" r="0.4" fill="#3a3ac0" opacity="0.45"/>
<circle cx="150.6" cy="136.0" r="0.4" fill="#3a3ac0" opacity="0.45"/>
<circle cx="149.0" cy="136.4" r="0.4" fill="#3a3ac0" opacity="0.45"/>
<circle cx="125.1" cy="144.5" r="0.4" fill="#3a3ac0" opacity="0.45"/>
<circle cx="134.5" cy="144.3" r="0.4" fill="#3a3ac0" opacity="0.45"/>
<circle cx="127.3" cy="136.4" r="0.4" fill="#3a3ac0" opacity="0.45"/>
<circle cx="138.0" cy="132.1" r="0.4" fill="#3a3ac0" opacity="0.45"/>
<circle cx="149.9" cy="138.9" r="0.4" fill="#3a3ac0" opacity="0.45"/>
<circle cx="122.9" cy="143.6" r="0.4" fill="#3a3ac0" opacity="0.45"/>
<circle cx="134.2" cy="139.1" r="0.4" fill="#3a3ac0" opacity="0.45"/>
<circle cx="129.5" cy="135.7" r="0.4" fill="#3a3ac0" opacity="0.45"/>
<circle cx="144.6" cy="137.2" r="0.4" fill="#3a3ac0" opacity="0.45"/>
<circle cx="124.8" cy="138.3" r="0.4" fill="#3a3ac0" opacity="0.45"/>
<circle cx="136.0" cy="136.5" r="0.4" fill="#3a3ac0" opacity="0.45"/>
<circle cx="129.3" cy="141.0" r="0.4" fill="#3a3ac0" opacity="0.45"/>
<circle cx="128.3" cy="142.4" r="0.4" fill="#3a3ac0" opacity="0.45"/>
<circle cx="141.7" cy="142.1" r="0.4" fill="#3a3ac0" opacity="0.45"/>
<circle cx="146.5" cy="135.7" r="0.4" fill="#3a3ac0" opacity="0.45"/>
<circle cx="139.3" cy="139.0" r="0.4" fill="#3a3ac0" opacity="0.45"/>
<circle cx="142.4" cy="141.4" r="0.4" fill="#3a3ac0" opacity="0.45"/>
<circle cx="122.9" cy="139.6" r="0.4" fill="#3a3ac0" opacity="0.45"/>
<circle cx="150.2" cy="143.2" r="0.4" fill="#3a3ac0" opacity="0.45"/>
<circle cx="140.7" cy="140.2" r="0.4" fill="#3a3ac0" opacity="0.45"/>
<circle cx="151.6" cy="137.3" r="0.4" fill="#3a3ac0" opacity="0.45"/>
<circle cx="128.5" cy="142.2" r="0.4" fill="#3a3ac0" opacity="0.45"/>
<circle cx="154.5" cy="143.5" r="0.4" fill="#3a3ac0" opacity="0.45"/>
<circle cx="154.8" cy="138.4" r="0.4" fill="#3a3ac0" opacity="0.45"/>
<circle cx="127.1" cy="140.1" r="0.4" fill="#3a3ac0" opacity="0.45"/>
<circle cx="132.5" cy="142.5" r="0.4" fill="#3a3ac0" opacity="0.45"/>
<circle cx="140.8" cy="142.7" r="0.4" fill="#3a3ac0" opacity="0.45"/>
<circle cx="139.0" cy="134.2" r="0.4" fill="#3a3ac0" opacity="0.45"/>
<circle cx="137.2" cy="143.8" r="0.4" fill="#3a3ac0" opacity="0.45"/>
<path d="M121,143.5 Q129,143 133,146 L135.2,148.8 Q138,144 143,141 Q149,139.8 152.5,142.5 L155.3,148 L155.3,153 L121,153 Z" fill="#5656c6" opacity="0.8"/>
<path d="M122.8,150.6 Q123.5,146 128,146 Q132,146.5 133.6,150.6 Z M137.4,150.6 Q141,143.2 146,143 Q151.5,143.4 153,150.6 Z" fill="#fff"/>
<path d="M121.4,143.6 Q129,143 133,146.4 L135.2,149 Q138,144 143,141.2 Q149,140 152.5,142.6 L155.2,148" fill="none" stroke="#1e1eaa" stroke-width="1.5"/>
<path d="M121.8,140.5 L121.8,152.2 L155.4,152.2" fill="none" stroke="#3a3abc" stroke-width="1.8"/>
<line x1="46.0" y1="42.6" x2="47.8" y2="42.6" stroke="#444" stroke-width="0.55" />
<text x="38.70" y="44.20" font-size="5.5" text-anchor="start" font-weight="normal" fill="#222" textLength="8.2" lengthAdjust="spacingAndGlyphs"  stroke="#222" stroke-width="0.12">10<tspan dy="-2.2" font-size="3.7">4</tspan><tspan dy="2.2">​</tspan></text>
<line x1="46.0" y1="52.85" x2="47.8" y2="52.85" stroke="#444" stroke-width="0.55" />
<text x="38.70" y="54.45" font-size="5.5" text-anchor="start" font-weight="normal" fill="#222" textLength="8.2" lengthAdjust="spacingAndGlyphs"  stroke="#222" stroke-width="0.12">10<tspan dy="-2.2" font-size="3.7">3</tspan><tspan dy="2.2">​</tspan></text>
<line x1="46.0" y1="63.1" x2="47.8" y2="63.1" stroke="#444" stroke-width="0.55" />
<text x="38.70" y="64.70" font-size="5.5" text-anchor="start" font-weight="normal" fill="#222" textLength="8.2" lengthAdjust="spacingAndGlyphs"  stroke="#222" stroke-width="0.12">10<tspan dy="-2.2" font-size="3.7">2</tspan><tspan dy="2.2">​</tspan></text>
<line x1="46.0" y1="73.35" x2="47.8" y2="73.35" stroke="#444" stroke-width="0.55" />
<text x="38.70" y="74.95" font-size="5.5" text-anchor="start" font-weight="normal" fill="#222" textLength="8.2" lengthAdjust="spacingAndGlyphs"  stroke="#222" stroke-width="0.12">10<tspan dy="-2.2" font-size="3.7">1</tspan><tspan dy="2.2">​</tspan></text>
<line x1="46.0" y1="83.6" x2="47.8" y2="83.6" stroke="#444" stroke-width="0.55" />
<text x="45.20" y="85.20" font-size="5.5" text-anchor="end" font-weight="normal" fill="#222"  stroke="#222" stroke-width="0.12">0</text>
<line x1="55.8" y1="91.8" x2="55.8" y2="93.39999999999999" stroke="#444" stroke-width="0.55" />
<text x="55.80" y="99.40" font-size="5.2" text-anchor="middle" font-weight="normal" fill="#222"  stroke="#222" stroke-width="0.12">0</text>
<line x1="66.05" y1="91.8" x2="66.05" y2="93.39999999999999" stroke="#444" stroke-width="0.55" />
<text x="63.30" y="99.40" font-size="5.2" text-anchor="start" font-weight="normal" fill="#222" textLength="6.9" lengthAdjust="spacingAndGlyphs"  stroke="#222" stroke-width="0.12">10<tspan dy="-2.1" font-size="3.9">1</tspan><tspan dy="2.1">​</tspan></text>
<line x1="76.3" y1="91.8" x2="76.3" y2="93.39999999999999" stroke="#444" stroke-width="0.55" />
<text x="73.55" y="99.40" font-size="5.2" text-anchor="start" font-weight="normal" fill="#222" textLength="6.9" lengthAdjust="spacingAndGlyphs"  stroke="#222" stroke-width="0.12">10<tspan dy="-2.1" font-size="3.9">2</tspan><tspan dy="2.1">​</tspan></text>
<line x1="86.55" y1="91.8" x2="86.55" y2="93.39999999999999" stroke="#444" stroke-width="0.55" />
<text x="83.80" y="99.40" font-size="5.2" text-anchor="start" font-weight="normal" fill="#222" textLength="6.9" lengthAdjust="spacingAndGlyphs"  stroke="#222" stroke-width="0.12">10<tspan dy="-2.1" font-size="3.9">3</tspan><tspan dy="2.1">​</tspan></text>
<line x1="96.8" y1="91.8" x2="96.8" y2="93.39999999999999" stroke="#444" stroke-width="0.55" />
<text x="94.05" y="99.40" font-size="5.2" text-anchor="start" font-weight="normal" fill="#222" textLength="6.9" lengthAdjust="spacingAndGlyphs"  stroke="#222" stroke-width="0.12">10<tspan dy="-2.1" font-size="3.9">4</tspan><tspan dy="2.1">​</tspan></text>
<line x1="112.5" y1="42.6" x2="114.3" y2="42.6" stroke="#444" stroke-width="0.55" />
<text x="105.20" y="44.20" font-size="5.5" text-anchor="start" font-weight="normal" fill="#222" textLength="8.2" lengthAdjust="spacingAndGlyphs"  stroke="#222" stroke-width="0.12">10<tspan dy="-2.2" font-size="3.7">4</tspan><tspan dy="2.2">​</tspan></text>
<line x1="112.5" y1="52.85" x2="114.3" y2="52.85" stroke="#444" stroke-width="0.55" />
<text x="105.20" y="54.45" font-size="5.5" text-anchor="start" font-weight="normal" fill="#222" textLength="8.2" lengthAdjust="spacingAndGlyphs"  stroke="#222" stroke-width="0.12">10<tspan dy="-2.2" font-size="3.7">3</tspan><tspan dy="2.2">​</tspan></text>
<line x1="112.5" y1="63.1" x2="114.3" y2="63.1" stroke="#444" stroke-width="0.55" />
<text x="105.20" y="64.70" font-size="5.5" text-anchor="start" font-weight="normal" fill="#222" textLength="8.2" lengthAdjust="spacingAndGlyphs"  stroke="#222" stroke-width="0.12">10<tspan dy="-2.2" font-size="3.7">2</tspan><tspan dy="2.2">​</tspan></text>
<line x1="112.5" y1="73.35" x2="114.3" y2="73.35" stroke="#444" stroke-width="0.55" />
<text x="105.20" y="74.95" font-size="5.5" text-anchor="start" font-weight="normal" fill="#222" textLength="8.2" lengthAdjust="spacingAndGlyphs"  stroke="#222" stroke-width="0.12">10<tspan dy="-2.2" font-size="3.7">1</tspan><tspan dy="2.2">​</tspan></text>
<line x1="112.5" y1="83.6" x2="114.3" y2="83.6" stroke="#444" stroke-width="0.55" />
<text x="111.70" y="85.20" font-size="5.5" text-anchor="end" font-weight="normal" fill="#222"  stroke="#222" stroke-width="0.12">0</text>
<line x1="122.3" y1="91.8" x2="122.3" y2="93.39999999999999" stroke="#444" stroke-width="0.55" />
<text x="122.30" y="99.40" font-size="5.2" text-anchor="middle" font-weight="normal" fill="#222"  stroke="#222" stroke-width="0.12">0</text>
<line x1="132.55" y1="91.8" x2="132.55" y2="93.39999999999999" stroke="#444" stroke-width="0.55" />
<text x="129.80" y="99.40" font-size="5.2" text-anchor="start" font-weight="normal" fill="#222" textLength="6.9" lengthAdjust="spacingAndGlyphs"  stroke="#222" stroke-width="0.12">10<tspan dy="-2.1" font-size="3.9">1</tspan><tspan dy="2.1">​</tspan></text>
<line x1="142.8" y1="91.8" x2="142.8" y2="93.39999999999999" stroke="#444" stroke-width="0.55" />
<text x="140.05" y="99.40" font-size="5.2" text-anchor="start" font-weight="normal" fill="#222" textLength="6.9" lengthAdjust="spacingAndGlyphs"  stroke="#222" stroke-width="0.12">10<tspan dy="-2.1" font-size="3.9">2</tspan><tspan dy="2.1">​</tspan></text>
<line x1="153.05" y1="91.8" x2="153.05" y2="93.39999999999999" stroke="#444" stroke-width="0.55" />
<text x="150.30" y="99.40" font-size="5.2" text-anchor="start" font-weight="normal" fill="#222" textLength="6.9" lengthAdjust="spacingAndGlyphs"  stroke="#222" stroke-width="0.12">10<tspan dy="-2.1" font-size="3.9">3</tspan><tspan dy="2.1">​</tspan></text>
<line x1="163.3" y1="91.8" x2="163.3" y2="93.39999999999999" stroke="#444" stroke-width="0.55" />
<text x="160.55" y="99.40" font-size="5.2" text-anchor="start" font-weight="normal" fill="#222" textLength="6.9" lengthAdjust="spacingAndGlyphs"  stroke="#222" stroke-width="0.12">10<tspan dy="-2.1" font-size="3.9">4</tspan><tspan dy="2.1">​</tspan></text>
<line x1="46.0" y1="109.3" x2="47.8" y2="109.3" stroke="#444" stroke-width="0.55" />
<text x="38.70" y="110.90" font-size="5.5" text-anchor="start" font-weight="normal" fill="#222" textLength="8.2" lengthAdjust="spacingAndGlyphs"  stroke="#222" stroke-width="0.12">10<tspan dy="-2.2" font-size="3.7">4</tspan><tspan dy="2.2">​</tspan></text>
<line x1="46.0" y1="119.8" x2="47.8" y2="119.8" stroke="#444" stroke-width="0.55" />
<text x="38.70" y="121.40" font-size="5.5" text-anchor="start" font-weight="normal" fill="#222" textLength="8.2" lengthAdjust="spacingAndGlyphs"  stroke="#222" stroke-width="0.12">10<tspan dy="-2.2" font-size="3.7">3</tspan><tspan dy="2.2">​</tspan></text>
<line x1="46.0" y1="130.3" x2="47.8" y2="130.3" stroke="#444" stroke-width="0.55" />
<text x="38.70" y="131.90" font-size="5.5" text-anchor="start" font-weight="normal" fill="#222" textLength="8.2" lengthAdjust="spacingAndGlyphs"  stroke="#222" stroke-width="0.12">10<tspan dy="-2.2" font-size="3.7">2</tspan><tspan dy="2.2">​</tspan></text>
<line x1="46.0" y1="140.8" x2="47.8" y2="140.8" stroke="#444" stroke-width="0.55" />
<text x="38.70" y="142.40" font-size="5.5" text-anchor="start" font-weight="normal" fill="#222" textLength="8.2" lengthAdjust="spacingAndGlyphs"  stroke="#222" stroke-width="0.12">10<tspan dy="-2.2" font-size="3.7">1</tspan><tspan dy="2.2">​</tspan></text>
<line x1="46.0" y1="151.3" x2="47.8" y2="151.3" stroke="#444" stroke-width="0.55" />
<text x="45.20" y="152.90" font-size="5.5" text-anchor="end" font-weight="normal" fill="#222"  stroke="#222" stroke-width="0.12">0</text>
<line x1="55.8" y1="158.4" x2="55.8" y2="160.0" stroke="#444" stroke-width="0.55" />
<text x="55.80" y="166.00" font-size="5.2" text-anchor="middle" font-weight="normal" fill="#222"  stroke="#222" stroke-width="0.12">0</text>
<line x1="66.05" y1="158.4" x2="66.05" y2="160.0" stroke="#444" stroke-width="0.55" />
<text x="63.30" y="166.00" font-size="5.2" text-anchor="start" font-weight="normal" fill="#222" textLength="6.9" lengthAdjust="spacingAndGlyphs"  stroke="#222" stroke-width="0.12">10<tspan dy="-2.1" font-size="3.9">1</tspan><tspan dy="2.1">​</tspan></text>
<line x1="76.3" y1="158.4" x2="76.3" y2="160.0" stroke="#444" stroke-width="0.55" />
<text x="73.55" y="166.00" font-size="5.2" text-anchor="start" font-weight="normal" fill="#222" textLength="6.9" lengthAdjust="spacingAndGlyphs"  stroke="#222" stroke-width="0.12">10<tspan dy="-2.1" font-size="3.9">2</tspan><tspan dy="2.1">​</tspan></text>
<line x1="86.55" y1="158.4" x2="86.55" y2="160.0" stroke="#444" stroke-width="0.55" />
<text x="83.80" y="166.00" font-size="5.2" text-anchor="start" font-weight="normal" fill="#222" textLength="6.9" lengthAdjust="spacingAndGlyphs"  stroke="#222" stroke-width="0.12">10<tspan dy="-2.1" font-size="3.9">3</tspan><tspan dy="2.1">​</tspan></text>
<line x1="96.8" y1="158.4" x2="96.8" y2="160.0" stroke="#444" stroke-width="0.55" />
<text x="94.05" y="166.00" font-size="5.2" text-anchor="start" font-weight="normal" fill="#222" textLength="6.9" lengthAdjust="spacingAndGlyphs"  stroke="#222" stroke-width="0.12">10<tspan dy="-2.1" font-size="3.9">4</tspan><tspan dy="2.1">​</tspan></text>
<line x1="112.2" y1="109.3" x2="114" y2="109.3" stroke="#444" stroke-width="0.55" />
<text x="104.90" y="110.90" font-size="5.5" text-anchor="start" font-weight="normal" fill="#222" textLength="8.2" lengthAdjust="spacingAndGlyphs"  stroke="#222" stroke-width="0.12">10<tspan dy="-2.2" font-size="3.7">4</tspan><tspan dy="2.2">​</tspan></text>
<line x1="112.2" y1="119.8" x2="114" y2="119.8" stroke="#444" stroke-width="0.55" />
<text x="104.90" y="121.40" font-size="5.5" text-anchor="start" font-weight="normal" fill="#222" textLength="8.2" lengthAdjust="spacingAndGlyphs"  stroke="#222" stroke-width="0.12">10<tspan dy="-2.2" font-size="3.7">3</tspan><tspan dy="2.2">​</tspan></text>
<line x1="112.2" y1="130.3" x2="114" y2="130.3" stroke="#444" stroke-width="0.55" />
<text x="104.90" y="131.90" font-size="5.5" text-anchor="start" font-weight="normal" fill="#222" textLength="8.2" lengthAdjust="spacingAndGlyphs"  stroke="#222" stroke-width="0.12">10<tspan dy="-2.2" font-size="3.7">2</tspan><tspan dy="2.2">​</tspan></text>
<line x1="112.2" y1="140.8" x2="114" y2="140.8" stroke="#444" stroke-width="0.55" />
<text x="104.90" y="142.40" font-size="5.5" text-anchor="start" font-weight="normal" fill="#222" textLength="8.2" lengthAdjust="spacingAndGlyphs"  stroke="#222" stroke-width="0.12">10<tspan dy="-2.2" font-size="3.7">1</tspan><tspan dy="2.2">​</tspan></text>
<line x1="112.2" y1="151.3" x2="114" y2="151.3" stroke="#444" stroke-width="0.55" />
<text x="111.40" y="152.90" font-size="5.5" text-anchor="end" font-weight="normal" fill="#222"  stroke="#222" stroke-width="0.12">0</text>
<line x1="122.0" y1="158.4" x2="122.0" y2="160.0" stroke="#444" stroke-width="0.55" />
<text x="122.00" y="166.00" font-size="5.2" text-anchor="middle" font-weight="normal" fill="#222"  stroke="#222" stroke-width="0.12">0</text>
<line x1="132.25" y1="158.4" x2="132.25" y2="160.0" stroke="#444" stroke-width="0.55" />
<text x="129.50" y="166.00" font-size="5.2" text-anchor="start" font-weight="normal" fill="#222" textLength="6.9" lengthAdjust="spacingAndGlyphs"  stroke="#222" stroke-width="0.12">10<tspan dy="-2.1" font-size="3.9">1</tspan><tspan dy="2.1">​</tspan></text>
<line x1="142.5" y1="158.4" x2="142.5" y2="160.0" stroke="#444" stroke-width="0.55" />
<text x="139.75" y="166.00" font-size="5.2" text-anchor="start" font-weight="normal" fill="#222" textLength="6.9" lengthAdjust="spacingAndGlyphs"  stroke="#222" stroke-width="0.12">10<tspan dy="-2.1" font-size="3.9">2</tspan><tspan dy="2.1">​</tspan></text>
<line x1="152.75" y1="158.4" x2="152.75" y2="160.0" stroke="#444" stroke-width="0.55" />
<text x="150.00" y="166.00" font-size="5.2" text-anchor="start" font-weight="normal" fill="#222" textLength="6.9" lengthAdjust="spacingAndGlyphs"  stroke="#222" stroke-width="0.12">10<tspan dy="-2.1" font-size="3.9">3</tspan><tspan dy="2.1">​</tspan></text>
<line x1="163.0" y1="158.4" x2="163.0" y2="160.0" stroke="#444" stroke-width="0.55" />
<text x="160.25" y="166.00" font-size="5.2" text-anchor="start" font-weight="normal" fill="#222" textLength="6.9" lengthAdjust="spacingAndGlyphs"  stroke="#222" stroke-width="0.12">10<tspan dy="-2.1" font-size="3.9">4</tspan><tspan dy="2.1">​</tspan></text>
<rect x="67.00" y="56.60" width="29.00" height="16.00" fill="none" stroke="#2a2a2a" stroke-width="0.8" />
<rect x="67.00" y="72.60" width="29.00" height="13.80" fill="none" stroke="#2a2a2a" stroke-width="0.8" />
<rect x="135.10" y="54.40" width="25.50" height="17.40" fill="none" stroke="#2a2a2a" stroke-width="0.8" />
<rect x="135.10" y="71.80" width="25.50" height="14.60" fill="none" stroke="#2a2a2a" stroke-width="0.8" />
<rect x="70.40" y="125.10" width="26.00" height="15.90" fill="none" stroke="#2a2a2a" stroke-width="0.8" />
<rect x="70.40" y="143.40" width="26.00" height="9.30" fill="none" stroke="#2a2a2a" stroke-width="0.8" />
<rect x="136.20" y="123.30" width="25.60" height="16.10" fill="none" stroke="#2a2a2a" stroke-width="0.8" />
<rect x="136.20" y="140.80" width="25.60" height="12.70" fill="none" stroke="#2a2a2a" stroke-width="0.8" />
<text x="71.20" y="54.20" font-size="5.7" text-anchor="start" font-weight="bold" fill="#1d2748" textLength="24" lengthAdjust="spacingAndGlyphs"  stroke="#1d2748" stroke-width="0.12">CD69<tspan dy="-1.9" font-size="3.8">+</tspan><tspan dy="1.9">​</tspan> T<tspan dy="1.2" font-size="3.6">TE</tspan><tspan dy="-1.2">​</tspan></text>
<text x="71.20" y="90.40" font-size="5.7" text-anchor="start" font-weight="bold" fill="#1d2748" textLength="24" lengthAdjust="spacingAndGlyphs"  stroke="#1d2748" stroke-width="0.12">CD69<tspan dy="-1.9" font-size="3.8">-</tspan><tspan dy="1.9">​</tspan> T<tspan dy="1.2" font-size="3.6">TE</tspan><tspan dy="-1.2">​</tspan></text>
<text x="85.00" y="60.90" font-size="5.6" text-anchor="start" font-weight="bold" fill="#262a3a" textLength="9.4" lengthAdjust="spacingAndGlyphs"  stroke="#262a3a" stroke-width="0.12">13%</text>
<text x="85.00" y="77.50" font-size="5.6" text-anchor="start" font-weight="bold" fill="#262a3a" textLength="9.4" lengthAdjust="spacingAndGlyphs"  stroke="#262a3a" stroke-width="0.12">17%</text>
<text x="148.50" y="59.20" font-size="5.6" text-anchor="start" font-weight="bold" fill="#262a3a" textLength="11.2" lengthAdjust="spacingAndGlyphs"  stroke="#262a3a" stroke-width="0.12">0.3%</text>
<text x="150.30" y="76.90" font-size="5.6" text-anchor="start" font-weight="bold" fill="#262a3a" textLength="9.4" lengthAdjust="spacingAndGlyphs"  stroke="#262a3a" stroke-width="0.12">44%</text>
<text x="87.40" y="130.40" font-size="5.6" text-anchor="start" font-weight="bold" fill="#262a3a" textLength="6.4" lengthAdjust="spacingAndGlyphs"  stroke="#262a3a" stroke-width="0.12">4%</text>
<text x="85.60" y="148.30" font-size="5.6" text-anchor="start" font-weight="bold" fill="#262a3a" textLength="9" lengthAdjust="spacingAndGlyphs"  stroke="#262a3a" stroke-width="0.12">19%</text>
<text x="154.20" y="127.50" font-size="5.6" text-anchor="start" font-weight="bold" fill="#262a3a" textLength="6" lengthAdjust="spacingAndGlyphs"  stroke="#262a3a" stroke-width="0.12">1%</text>
<text x="151.70" y="145.40" font-size="5.6" text-anchor="start" font-weight="bold" fill="#262a3a" textLength="8.5" lengthAdjust="spacingAndGlyphs"  stroke="#262a3a" stroke-width="0.12">36%</text>
<text x="-6.50" y="0.00" font-size="8.4" text-anchor="start" font-weight="bold" fill="#000" transform="translate(34.8,108.0) rotate(-90)" textLength="13.0" lengthAdjust="spacingAndGlyphs"  stroke="#000" stroke-width="0.12">CD69</text>
<line x1="31.4" y1="121" x2="31.4" y2="173.7" stroke="#000" stroke-width="0.85" />
<line x1="31.4" y1="173.7" x2="83.5" y2="173.7" stroke="#000" stroke-width="0.85" />
<path d="M31.4,117.8 L29.5,122.3 L33.3,122.3 Z" fill="#000"/>
<path d="M86.2,173.7 L82,171.9 L82,175.5 Z" fill="#000"/>
<text x="88.80" y="176.40" font-size="8.4" text-anchor="start" font-weight="bold" fill="#000" textLength="13.4" lengthAdjust="spacingAndGlyphs"  stroke="#000" stroke-width="0.12">CD57</text>
<text x="182.90" y="16.10" font-size="11.6" text-anchor="start" font-weight="bold" fill="#000" stroke="#000" stroke-width="0.25">B</text>
<text x="245.80" y="34.80" font-size="6.3" text-anchor="start" font-weight="normal" fill="#000" textLength="11.6" lengthAdjust="spacingAndGlyphs"  stroke="#000" stroke-width="0.12">Low</text>
<text x="288.35" y="34.80" font-size="6.3" text-anchor="start" font-weight="normal" fill="#000" textLength="12.5" lengthAdjust="spacingAndGlyphs"  stroke="#000" stroke-width="0.12">High</text>
<rect x="247.60" y="37.00" width="49.40" height="3.00" fill="url(#jet)" stroke="none" stroke-width="0.8" />
<text x="232.70" y="46.90" font-size="6.6" text-anchor="start" font-weight="normal" fill="#000" textLength="19.2" lengthAdjust="spacingAndGlyphs"  stroke="#000" stroke-width="0.12">BM-T<tspan dy="1.9" font-size="4.3">TE</tspan><tspan dy="-1.9">​</tspan></text>
<text x="295.10" y="46.70" font-size="6.6" text-anchor="start" font-weight="normal" fill="#000" textLength="18.4" lengthAdjust="spacingAndGlyphs"  stroke="#000" stroke-width="0.12">PB-T<tspan dy="1.9" font-size="4.3">TE</tspan><tspan dy="-1.9">​</tspan></text>
<text x="-9.80" y="0.00" font-size="6.4" text-anchor="start" font-weight="normal" fill="#000" transform="translate(199.2,76.8) rotate(-90)" textLength="19.6" lengthAdjust="spacingAndGlyphs"  stroke="#000" stroke-width="0.12">NDMM</text>
<text x="-9.50" y="0.00" font-size="6.4" text-anchor="start" font-weight="normal" fill="#000" transform="translate(199.4,129.5) rotate(-90)" textLength="19" lengthAdjust="spacingAndGlyphs"  stroke="#000" stroke-width="0.12">MGUS</text>
<rect x="212.30" y="50.80" width="60.00" height="51.40" fill="#fff" stroke="#888" stroke-width="1.3" />
<rect x="273.70" y="51.20" width="61.50" height="51.00" fill="#fff" stroke="#888" stroke-width="1.3" />
<rect x="212.30" y="104.40" width="60.00" height="50.20" fill="#fff" stroke="#888" stroke-width="1.3" />
<rect x="273.70" y="104.40" width="61.50" height="51.00" fill="#fff" stroke="#888" stroke-width="1.3" />
<g filter="url(#fray1)">
<g filter="url(#h1)"><path d="M237.80,56.80 C240.60,56.48 242.58,57.35 244.30,58.10 C246.02,58.85 246.38,59.68 248.10,61.30 C249.82,62.92 253.28,66.02 254.60,67.80 C255.92,69.58 256.43,70.07 256.00,72.00 C255.57,73.93 252.67,76.45 252.00,79.40 C251.33,82.35 252.65,87.55 252.00,89.70 C251.35,91.85 249.77,91.42 248.10,92.30 C246.43,93.18 243.50,93.88 242.00,95.00 C240.50,96.12 239.80,98.80 239.10,99.00 C238.40,99.20 239.52,96.88 237.80,96.20 C236.08,95.52 231.17,95.98 228.80,94.90 C226.43,93.82 225.12,91.63 223.60,89.70 C222.08,87.77 220.77,85.45 219.70,83.30 C218.63,81.15 218.05,78.32 217.20,76.80 C216.35,75.28 214.82,75.48 214.60,74.20 C214.38,72.92 214.50,70.60 215.90,69.10 C217.30,67.60 221.07,66.72 223.00,65.20 C224.93,63.68 225.03,61.40 227.50,60.00 C229.97,58.60 235.00,57.12 237.80,56.80 Z" fill="#10289c"/></g>
<g filter="url(#h5)"><path d="M237.80,56.80 C240.60,56.48 242.58,57.35 244.30,58.10 C246.02,58.85 246.38,59.68 248.10,61.30 C249.82,62.92 253.28,66.02 254.60,67.80 C255.92,69.58 256.43,70.07 256.00,72.00 C255.57,73.93 252.67,76.45 252.00,79.40 C251.33,82.35 252.65,87.55 252.00,89.70 C251.35,91.85 249.77,91.42 248.10,92.30 C246.43,93.18 243.50,93.88 242.00,95.00 C240.50,96.12 239.80,98.80 239.10,99.00 C238.40,99.20 239.52,96.88 237.80,96.20 C236.08,95.52 231.17,95.98 228.80,94.90 C226.43,93.82 225.12,91.63 223.60,89.70 C222.08,87.77 220.77,85.45 219.70,83.30 C218.63,81.15 218.05,78.32 217.20,76.80 C216.35,75.28 214.82,75.48 214.60,74.20 C214.38,72.92 214.50,70.60 215.90,69.10 C217.30,67.60 221.07,66.72 223.00,65.20 C224.93,63.68 225.03,61.40 227.50,60.00 C229.97,58.60 235.00,57.12 237.80,56.80 Z" fill="#2450cc" transform="translate(235.9,77.9) scale(0.97) translate(-235.9,-77.9)"/></g>
<g filter="url(#h6)"><path d="M237.80,56.80 C240.60,56.48 242.58,57.35 244.30,58.10 C246.02,58.85 246.38,59.68 248.10,61.30 C249.82,62.92 253.28,66.02 254.60,67.80 C255.92,69.58 256.43,70.07 256.00,72.00 C255.57,73.93 252.67,76.45 252.00,79.40 C251.33,82.35 252.65,87.55 252.00,89.70 C251.35,91.85 249.77,91.42 248.10,92.30 C246.43,93.18 243.50,93.88 242.00,95.00 C240.50,96.12 239.80,98.80 239.10,99.00 C238.40,99.20 239.52,96.88 237.80,96.20 C236.08,95.52 231.17,95.98 228.80,94.90 C226.43,93.82 225.12,91.63 223.60,89.70 C222.08,87.77 220.77,85.45 219.70,83.30 C218.63,81.15 218.05,78.32 217.20,76.80 C216.35,75.28 214.82,75.48 214.60,74.20 C214.38,72.92 214.50,70.60 215.90,69.10 C217.30,67.60 221.07,66.72 223.00,65.20 C224.93,63.68 225.03,61.40 227.50,60.00 C229.97,58.60 235.00,57.12 237.80,56.80 Z" fill="#8aa6e6"/></g>
<g filter="url(#h7)"><path d="M237.80,56.80 C240.60,56.48 242.58,57.35 244.30,58.10 C246.02,58.85 246.38,59.68 248.10,61.30 C249.82,62.92 253.28,66.02 254.60,67.80 C255.92,69.58 256.43,70.07 256.00,72.00 C255.57,73.93 252.67,76.45 252.00,79.40 C251.33,82.35 252.65,87.55 252.00,89.70 C251.35,91.85 249.77,91.42 248.10,92.30 C246.43,93.18 243.50,93.88 242.00,95.00 C240.50,96.12 239.80,98.80 239.10,99.00 C238.40,99.20 239.52,96.88 237.80,96.20 C236.08,95.52 231.17,95.98 228.80,94.90 C226.43,93.82 225.12,91.63 223.60,89.70 C222.08,87.77 220.77,85.45 219.70,83.30 C218.63,81.15 218.05,78.32 217.20,76.80 C216.35,75.28 214.82,75.48 214.60,74.20 C214.38,72.92 214.50,70.60 215.90,69.10 C217.30,67.60 221.07,66.72 223.00,65.20 C224.93,63.68 225.03,61.40 227.50,60.00 C229.97,58.60 235.00,57.12 237.80,56.80 Z" fill="#ffffff"/></g>
<g filter="url(#h3)"><path d="M237.80,56.80 C240.60,56.48 242.58,57.35 244.30,58.10 C246.02,58.85 246.38,59.68 248.10,61.30 C249.82,62.92 253.28,66.02 254.60,67.80 C255.92,69.58 256.43,70.07 256.00,72.00 C255.57,73.93 252.67,76.45 252.00,79.40 C251.33,82.35 252.65,87.55 252.00,89.70 C251.35,91.85 249.77,91.42 248.10,92.30 C246.43,93.18 243.50,93.88 242.00,95.00 C240.50,96.12 239.80,98.80 239.10,99.00 C238.40,99.20 239.52,96.88 237.80,96.20 C236.08,95.52 231.17,95.98 228.80,94.90 C226.43,93.82 225.12,91.63 223.60,89.70 C222.08,87.77 220.77,85.45 219.70,83.30 C218.63,81.15 218.05,78.32 217.20,76.80 C216.35,75.28 214.82,75.48 214.60,74.20 C214.38,72.92 214.50,70.60 215.90,69.10 C217.30,67.60 221.07,66.72 223.00,65.20 C224.93,63.68 225.03,61.40 227.50,60.00 C229.97,58.60 235.00,57.12 237.80,56.80 Z" fill="#ffffff" opacity="0.85"/></g>
</g>
<g filter="url(#fray2)">
<g filter="url(#h1)"><path d="M302.40,57.50 C304.97,56.97 306.65,57.47 308.80,58.10 C310.95,58.73 313.35,59.68 315.30,61.30 C317.25,62.92 319.43,65.65 320.50,67.80 C321.57,69.95 322.35,71.42 321.70,74.20 C321.05,76.98 318.10,81.92 316.60,84.50 C315.10,87.08 314.63,88.18 312.70,89.70 C310.77,91.22 306.62,92.48 305.00,93.60 C303.38,94.72 304.73,96.40 303.00,96.40 C301.27,96.40 296.85,94.93 294.60,93.60 C292.35,92.27 291.22,90.33 289.50,88.40 C287.78,86.47 285.17,84.37 284.30,82.00 C283.43,79.63 284.73,75.93 284.30,74.20 C283.87,72.47 281.92,72.78 281.70,71.60 C281.48,70.42 281.48,67.95 283.00,67.10 C284.52,66.25 289.07,67.47 290.80,66.50 C292.53,65.53 291.47,62.80 293.40,61.30 C295.33,59.80 299.83,58.03 302.40,57.50 Z" fill="#10289c"/></g>
<g filter="url(#h5)"><path d="M302.40,57.50 C304.97,56.97 306.65,57.47 308.80,58.10 C310.95,58.73 313.35,59.68 315.30,61.30 C317.25,62.92 319.43,65.65 320.50,67.80 C321.57,69.95 322.35,71.42 321.70,74.20 C321.05,76.98 318.10,81.92 316.60,84.50 C315.10,87.08 314.63,88.18 312.70,89.70 C310.77,91.22 306.62,92.48 305.00,93.60 C303.38,94.72 304.73,96.40 303.00,96.40 C301.27,96.40 296.85,94.93 294.60,93.60 C292.35,92.27 291.22,90.33 289.50,88.40 C287.78,86.47 285.17,84.37 284.30,82.00 C283.43,79.63 284.73,75.93 284.30,74.20 C283.87,72.47 281.92,72.78 281.70,71.60 C281.48,70.42 281.48,67.95 283.00,67.10 C284.52,66.25 289.07,67.47 290.80,66.50 C292.53,65.53 291.47,62.80 293.40,61.30 C295.33,59.80 299.83,58.03 302.40,57.50 Z" fill="#2450cc" transform="translate(300.4,75.8) scale(0.97) translate(-300.4,-75.8)"/></g>
<g filter="url(#h6)"><path d="M302.40,57.50 C304.97,56.97 306.65,57.47 308.80,58.10 C310.95,58.73 313.35,59.68 315.30,61.30 C317.25,62.92 319.43,65.65 320.50,67.80 C321.57,69.95 322.35,71.42 321.70,74.20 C321.05,76.98 318.10,81.92 316.60,84.50 C315.10,87.08 314.63,88.18 312.70,89.70 C310.77,91.22 306.62,92.48 305.00,93.60 C303.38,94.72 304.73,96.40 303.00,96.40 C301.27,96.40 296.85,94.93 294.60,93.60 C292.35,92.27 291.22,90.33 289.50,88.40 C287.78,86.47 285.17,84.37 284.30,82.00 C283.43,79.63 284.73,75.93 284.30,74.20 C283.87,72.47 281.92,72.78 281.70,71.60 C281.48,70.42 281.48,67.95 283.00,67.10 C284.52,66.25 289.07,67.47 290.80,66.50 C292.53,65.53 291.47,62.80 293.40,61.30 C295.33,59.80 299.83,58.03 302.40,57.50 Z" fill="#8aa6e6"/></g>
<g filter="url(#h7)"><path d="M302.40,57.50 C304.97,56.97 306.65,57.47 308.80,58.10 C310.95,58.73 313.35,59.68 315.30,61.30 C317.25,62.92 319.43,65.65 320.50,67.80 C321.57,69.95 322.35,71.42 321.70,74.20 C321.05,76.98 318.10,81.92 316.60,84.50 C315.10,87.08 314.63,88.18 312.70,89.70 C310.77,91.22 306.62,92.48 305.00,93.60 C303.38,94.72 304.73,96.40 303.00,96.40 C301.27,96.40 296.85,94.93 294.60,93.60 C292.35,92.27 291.22,90.33 289.50,88.40 C287.78,86.47 285.17,84.37 284.30,82.00 C283.43,79.63 284.73,75.93 284.30,74.20 C283.87,72.47 281.92,72.78 281.70,71.60 C281.48,70.42 281.48,67.95 283.00,67.10 C284.52,66.25 289.07,67.47 290.80,66.50 C292.53,65.53 291.47,62.80 293.40,61.30 C295.33,59.80 299.83,58.03 302.40,57.50 Z" fill="#ffffff"/></g>
<g filter="url(#h3)"><path d="M302.40,57.50 C304.97,56.97 306.65,57.47 308.80,58.10 C310.95,58.73 313.35,59.68 315.30,61.30 C317.25,62.92 319.43,65.65 320.50,67.80 C321.57,69.95 322.35,71.42 321.70,74.20 C321.05,76.98 318.10,81.92 316.60,84.50 C315.10,87.08 314.63,88.18 312.70,89.70 C310.77,91.22 306.62,92.48 305.00,93.60 C303.38,94.72 304.73,96.40 303.00,96.40 C301.27,96.40 296.85,94.93 294.60,93.60 C292.35,92.27 291.22,90.33 289.50,88.40 C287.78,86.47 285.17,84.37 284.30,82.00 C283.43,79.63 284.73,75.93 284.30,74.20 C283.87,72.47 281.92,72.78 281.70,71.60 C281.48,70.42 281.48,67.95 283.00,67.10 C284.52,66.25 289.07,67.47 290.80,66.50 C292.53,65.53 291.47,62.80 293.40,61.30 C295.33,59.80 299.83,58.03 302.40,57.50 Z" fill="#ffffff" opacity="0.85"/></g>
</g>
<g filter="url(#fray3)">
<g filter="url(#h1)"><path d="M237.80,111.70 C240.38,111.70 243.35,113.87 245.50,114.30 C247.65,114.73 248.97,113.87 250.70,114.30 C252.43,114.73 254.60,115.38 255.90,116.90 C257.20,118.42 258.57,121.05 258.50,123.40 C258.43,125.75 256.37,128.65 255.50,131.00 C254.63,133.35 254.53,135.55 253.30,137.50 C252.07,139.45 250.03,141.40 248.10,142.70 C246.17,144.00 243.85,144.55 241.70,145.30 C239.55,146.05 237.15,147.20 235.20,147.20 C233.25,147.20 231.72,146.92 230.00,145.30 C228.28,143.68 226.18,140.08 224.90,137.50 C223.62,134.92 223.05,131.95 222.30,129.80 C221.55,127.65 220.40,126.10 220.40,124.60 C220.40,123.10 220.70,122.52 222.30,120.80 C223.90,119.08 227.42,115.82 230.00,114.30 C232.58,112.78 235.22,111.70 237.80,111.70 Z" fill="#10289c"/></g>
<g filter="url(#h5)"><path d="M237.80,111.70 C240.38,111.70 243.35,113.87 245.50,114.30 C247.65,114.73 248.97,113.87 250.70,114.30 C252.43,114.73 254.60,115.38 255.90,116.90 C257.20,118.42 258.57,121.05 258.50,123.40 C258.43,125.75 256.37,128.65 255.50,131.00 C254.63,133.35 254.53,135.55 253.30,137.50 C252.07,139.45 250.03,141.40 248.10,142.70 C246.17,144.00 243.85,144.55 241.70,145.30 C239.55,146.05 237.15,147.20 235.20,147.20 C233.25,147.20 231.72,146.92 230.00,145.30 C228.28,143.68 226.18,140.08 224.90,137.50 C223.62,134.92 223.05,131.95 222.30,129.80 C221.55,127.65 220.40,126.10 220.40,124.60 C220.40,123.10 220.70,122.52 222.30,120.80 C223.90,119.08 227.42,115.82 230.00,114.30 C232.58,112.78 235.22,111.70 237.80,111.70 Z" fill="#2450cc" transform="translate(239.5,128.5) scale(0.97) translate(-239.5,-128.5)"/></g>
<g filter="url(#h6)"><path d="M237.80,111.70 C240.38,111.70 243.35,113.87 245.50,114.30 C247.65,114.73 248.97,113.87 250.70,114.30 C252.43,114.73 254.60,115.38 255.90,116.90 C257.20,118.42 258.57,121.05 258.50,123.40 C258.43,125.75 256.37,128.65 255.50,131.00 C254.63,133.35 254.53,135.55 253.30,137.50 C252.07,139.45 250.03,141.40 248.10,142.70 C246.17,144.00 243.85,144.55 241.70,145.30 C239.55,146.05 237.15,147.20 235.20,147.20 C233.25,147.20 231.72,146.92 230.00,145.30 C228.28,143.68 226.18,140.08 224.90,137.50 C223.62,134.92 223.05,131.95 222.30,129.80 C221.55,127.65 220.40,126.10 220.40,124.60 C220.40,123.10 220.70,122.52 222.30,120.80 C223.90,119.08 227.42,115.82 230.00,114.30 C232.58,112.78 235.22,111.70 237.80,111.70 Z" fill="#8aa6e6"/></g>
<g filter="url(#h7)"><path d="M237.80,111.70 C240.38,111.70 243.35,113.87 245.50,114.30 C247.65,114.73 248.97,113.87 250.70,114.30 C252.43,114.73 254.60,115.38 255.90,116.90 C257.20,118.42 258.57,121.05 258.50,123.40 C258.43,125.75 256.37,128.65 255.50,131.00 C254.63,133.35 254.53,135.55 253.30,137.50 C252.07,139.45 250.03,141.40 248.10,142.70 C246.17,144.00 243.85,144.55 241.70,145.30 C239.55,146.05 237.15,147.20 235.20,147.20 C233.25,147.20 231.72,146.92 230.00,145.30 C228.28,143.68 226.18,140.08 224.90,137.50 C223.62,134.92 223.05,131.95 222.30,129.80 C221.55,127.65 220.40,126.10 220.40,124.60 C220.40,123.10 220.70,122.52 222.30,120.80 C223.90,119.08 227.42,115.82 230.00,114.30 C232.58,112.78 235.22,111.70 237.80,111.70 Z" fill="#ffffff"/></g>
<g filter="url(#h3)"><path d="M237.80,111.70 C240.38,111.70 243.35,113.87 245.50,114.30 C247.65,114.73 248.97,113.87 250.70,114.30 C252.43,114.73 254.60,115.38 255.90,116.90 C257.20,118.42 258.57,121.05 258.50,123.40 C258.43,125.75 256.37,128.65 255.50,131.00 C254.63,133.35 254.53,135.55 253.30,137.50 C252.07,139.45 250.03,141.40 248.10,142.70 C246.17,144.00 243.85,144.55 241.70,145.30 C239.55,146.05 237.15,147.20 235.20,147.20 C233.25,147.20 231.72,146.92 230.00,145.30 C228.28,143.68 226.18,140.08 224.90,137.50 C223.62,134.92 223.05,131.95 222.30,129.80 C221.55,127.65 220.40,126.10 220.40,124.60 C220.40,123.10 220.70,122.52 222.30,120.80 C223.90,119.08 227.42,115.82 230.00,114.30 C232.58,112.78 235.22,111.70 237.80,111.70 Z" fill="#ffffff" opacity="0.85"/></g>
<g filter="url(#h4)"><ellipse cx="230" cy="136" rx="9" ry="9" fill="#ffffff" opacity="0.8"/><ellipse cx="246" cy="120" rx="5" ry="4" fill="#ffffff" opacity="0.6"/></g>
</g>
<g filter="url(#fray4)">
<g filter="url(#h1)"><path d="M297.20,109.80 C299.78,109.58 302.85,111.27 305.00,111.70 C307.15,112.13 308.38,111.75 310.10,112.40 C311.82,113.05 313.78,113.98 315.30,115.60 C316.82,117.22 318.77,119.73 319.20,122.10 C319.63,124.47 318.98,127.23 317.90,129.80 C316.82,132.37 314.63,135.13 312.70,137.50 C310.77,139.87 308.45,142.48 306.30,144.00 C304.15,145.52 301.95,145.95 299.80,146.60 C297.65,147.25 295.55,148.77 293.40,147.90 C291.25,147.03 288.63,143.98 286.90,141.40 C285.17,138.82 284.28,134.77 283.00,132.40 C281.72,130.03 280.05,128.70 279.20,127.20 C278.35,125.70 277.48,124.68 277.90,123.40 C278.32,122.12 279.77,121.23 281.70,119.50 C283.63,117.77 286.92,114.62 289.50,113.00 C292.08,111.38 294.62,110.02 297.20,109.80 Z" fill="#10289c"/></g>
<g filter="url(#h5)"><path d="M297.20,109.80 C299.78,109.58 302.85,111.27 305.00,111.70 C307.15,112.13 308.38,111.75 310.10,112.40 C311.82,113.05 313.78,113.98 315.30,115.60 C316.82,117.22 318.77,119.73 319.20,122.10 C319.63,124.47 318.98,127.23 317.90,129.80 C316.82,132.37 314.63,135.13 312.70,137.50 C310.77,139.87 308.45,142.48 306.30,144.00 C304.15,145.52 301.95,145.95 299.80,146.60 C297.65,147.25 295.55,148.77 293.40,147.90 C291.25,147.03 288.63,143.98 286.90,141.40 C285.17,138.82 284.28,134.77 283.00,132.40 C281.72,130.03 280.05,128.70 279.20,127.20 C278.35,125.70 277.48,124.68 277.90,123.40 C278.32,122.12 279.77,121.23 281.70,119.50 C283.63,117.77 286.92,114.62 289.50,113.00 C292.08,111.38 294.62,110.02 297.20,109.80 Z" fill="#2450cc" transform="translate(298.4,127.1) scale(0.97) translate(-298.4,-127.1)"/></g>
<g filter="url(#h6)"><path d="M297.20,109.80 C299.78,109.58 302.85,111.27 305.00,111.70 C307.15,112.13 308.38,111.75 310.10,112.40 C311.82,113.05 313.78,113.98 315.30,115.60 C316.82,117.22 318.77,119.73 319.20,122.10 C319.63,124.47 318.98,127.23 317.90,129.80 C316.82,132.37 314.63,135.13 312.70,137.50 C310.77,139.87 308.45,142.48 306.30,144.00 C304.15,145.52 301.95,145.95 299.80,146.60 C297.65,147.25 295.55,148.77 293.40,147.90 C291.25,147.03 288.63,143.98 286.90,141.40 C285.17,138.82 284.28,134.77 283.00,132.40 C281.72,130.03 280.05,128.70 279.20,127.20 C278.35,125.70 277.48,124.68 277.90,123.40 C278.32,122.12 279.77,121.23 281.70,119.50 C283.63,117.77 286.92,114.62 289.50,113.00 C292.08,111.38 294.62,110.02 297.20,109.80 Z" fill="#8aa6e6"/></g>
<g filter="url(#h7)"><path d="M297.20,109.80 C299.78,109.58 302.85,111.27 305.00,111.70 C307.15,112.13 308.38,111.75 310.10,112.40 C311.82,113.05 313.78,113.98 315.30,115.60 C316.82,117.22 318.77,119.73 319.20,122.10 C319.63,124.47 318.98,127.23 317.90,129.80 C316.82,132.37 314.63,135.13 312.70,137.50 C310.77,139.87 308.45,142.48 306.30,144.00 C304.15,145.52 301.95,145.95 299.80,146.60 C297.65,147.25 295.55,148.77 293.40,147.90 C291.25,147.03 288.63,143.98 286.90,141.40 C285.17,138.82 284.28,134.77 283.00,132.40 C281.72,130.03 280.05,128.70 279.20,127.20 C278.35,125.70 277.48,124.68 277.90,123.40 C278.32,122.12 279.77,121.23 281.70,119.50 C283.63,117.77 286.92,114.62 289.50,113.00 C292.08,111.38 294.62,110.02 297.20,109.80 Z" fill="#ffffff"/></g>
<g filter="url(#h3)"><path d="M297.20,109.80 C299.78,109.58 302.85,111.27 305.00,111.70 C307.15,112.13 308.38,111.75 310.10,112.40 C311.82,113.05 313.78,113.98 315.30,115.60 C316.82,117.22 318.77,119.73 319.20,122.10 C319.63,124.47 318.98,127.23 317.90,129.80 C316.82,132.37 314.63,135.13 312.70,137.50 C310.77,139.87 308.45,142.48 306.30,144.00 C304.15,145.52 301.95,145.95 299.80,146.60 C297.65,147.25 295.55,148.77 293.40,147.90 C291.25,147.03 288.63,143.98 286.90,141.40 C285.17,138.82 284.28,134.77 283.00,132.40 C281.72,130.03 280.05,128.70 279.20,127.20 C278.35,125.70 277.48,124.68 277.90,123.40 C278.32,122.12 279.77,121.23 281.70,119.50 C283.63,117.77 286.92,114.62 289.50,113.00 C292.08,111.38 294.62,110.02 297.20,109.80 Z" fill="#ffffff" opacity="0.85"/></g>
<g filter="url(#h4)"><ellipse cx="290" cy="138" rx="8" ry="8" fill="#ffffff" opacity="0.8"/><ellipse cx="310" cy="128" rx="5" ry="6" fill="#ffffff" opacity="0.6"/></g>
</g>
<g filter="url(#h1)"><circle cx="239" cy="99.5" r="1.9" fill="#1a3ab0"/><circle cx="303.2" cy="96" r="1.9" fill="#1a3ab0"/></g>
<g filter="url(#fray1)"><path d="M258.60,73.80 C260.00,73.73 262.17,74.33 263.60,74.80 C265.03,75.27 266.37,75.60 267.20,76.60 C268.03,77.60 268.72,79.50 268.60,80.80 C268.48,82.10 267.43,83.03 266.50,84.40 C265.57,85.77 264.25,87.63 263.00,89.00 C261.75,90.37 260.27,91.73 259.00,92.60 C257.73,93.47 256.60,94.20 255.40,94.20 C254.20,94.20 252.67,93.63 251.80,92.60 C250.93,91.57 250.33,89.60 250.20,88.00 C250.07,86.40 250.63,84.57 251.00,83.00 C251.37,81.43 251.70,79.90 252.40,78.60 C253.10,77.30 254.17,76.00 255.20,75.20 C256.23,74.40 257.20,73.87 258.60,73.80 Z" fill="#ee7414"/>
<g filter="url(#h2)"><path d="M258.60,73.80 C260.00,73.73 262.17,74.33 263.60,74.80 C265.03,75.27 266.37,75.60 267.20,76.60 C268.03,77.60 268.72,79.50 268.60,80.80 C268.48,82.10 267.43,83.03 266.50,84.40 C265.57,85.77 264.25,87.63 263.00,89.00 C261.75,90.37 260.27,91.73 259.00,92.60 C257.73,93.47 256.60,94.20 255.40,94.20 C254.20,94.20 252.67,93.63 251.80,92.60 C250.93,91.57 250.33,89.60 250.20,88.00 C250.07,86.40 250.63,84.57 251.00,83.00 C251.37,81.43 251.70,79.90 252.40,78.60 C253.10,77.30 254.17,76.00 255.20,75.20 C256.23,74.40 257.20,73.87 258.60,73.80 Z" fill="#d83208"/></g>
<g filter="url(#h5)"><path d="M258.60,73.80 C260.00,73.73 262.17,74.33 263.60,74.80 C265.03,75.27 266.37,75.60 267.20,76.60 C268.03,77.60 268.72,79.50 268.60,80.80 C268.48,82.10 267.43,83.03 266.50,84.40 C265.57,85.77 264.25,87.63 263.00,89.00 C261.75,90.37 260.27,91.73 259.00,92.60 C257.73,93.47 256.60,94.20 255.40,94.20 C254.20,94.20 252.67,93.63 251.80,92.60 C250.93,91.57 250.33,89.60 250.20,88.00 C250.07,86.40 250.63,84.57 251.00,83.00 C251.37,81.43 251.70,79.90 252.40,78.60 C253.10,77.30 254.17,76.00 255.20,75.20 C256.23,74.40 257.20,73.87 258.60,73.80 Z" fill="#f6c41c" transform="translate(258,85) scale(0.85) translate(-258,-85)"/></g>
<g filter="url(#h4)"><path d="M253.00,80.00 C253.83,78.17 256.83,77.33 258.00,78.00 C259.17,78.67 260.17,82.00 260.00,84.00 C259.83,86.00 258.17,89.17 257.00,90.00 C255.83,90.83 253.67,90.67 253.00,89.00 C252.33,87.33 252.17,81.83 253.00,80.00 Z" fill="#c8e040"/></g>
<path d="M252.60,80.50 C252.97,78.90 254.17,77.98 254.60,78.40 C255.03,78.82 255.27,81.32 255.20,83.00 C255.13,84.68 254.67,87.67 254.20,88.50 C253.73,89.33 252.67,89.33 252.40,88.00 C252.13,86.67 252.23,82.10 252.60,80.50 Z" fill="#8cd878" opacity="0.85"/>
<path d="M251.40,85.00 C251.53,83.67 252.33,81.50 252.60,82.00 C252.87,82.50 253.13,86.67 253.00,88.00 C252.87,89.33 252.07,90.50 251.80,90.00 C251.53,89.50 251.27,86.33 251.40,85.00 Z" fill="#48c8d8" opacity="0.8"/>
</g>
<g filter="url(#fray3)"><path d="M260.20,128.30 C261.33,128.12 262.90,128.32 263.90,128.70 C264.90,129.08 266.07,129.78 266.20,130.60 C266.33,131.42 265.45,132.47 264.70,133.60 C263.95,134.73 262.58,136.38 261.70,137.40 C260.82,138.42 260.28,138.93 259.40,139.70 C258.52,140.47 257.42,141.75 256.40,142.00 C255.38,142.25 253.93,141.83 253.30,141.20 C252.67,140.57 252.47,139.47 252.60,138.20 C252.73,136.93 253.35,135.00 254.10,133.60 C254.85,132.20 256.08,130.68 257.10,129.80 C258.12,128.92 259.07,128.48 260.20,128.30 Z" fill="#f08020"/>
<g filter="url(#h2)"><path d="M260.20,128.30 C261.33,128.12 262.90,128.32 263.90,128.70 C264.90,129.08 266.07,129.78 266.20,130.60 C266.33,131.42 265.45,132.47 264.70,133.60 C263.95,134.73 262.58,136.38 261.70,137.40 C260.82,138.42 260.28,138.93 259.40,139.70 C258.52,140.47 257.42,141.75 256.40,142.00 C255.38,142.25 253.93,141.83 253.30,141.20 C252.67,140.57 252.47,139.47 252.60,138.20 C252.73,136.93 253.35,135.00 254.10,133.60 C254.85,132.20 256.08,130.68 257.10,129.80 C258.12,128.92 259.07,128.48 260.20,128.30 Z" fill="#dc4a10"/></g>
<g filter="url(#h5)"><path d="M260.20,128.30 C261.33,128.12 262.90,128.32 263.90,128.70 C264.90,129.08 266.07,129.78 266.20,130.60 C266.33,131.42 265.45,132.47 264.70,133.60 C263.95,134.73 262.58,136.38 261.70,137.40 C260.82,138.42 260.28,138.93 259.40,139.70 C258.52,140.47 257.42,141.75 256.40,142.00 C255.38,142.25 253.93,141.83 253.30,141.20 C252.67,140.57 252.47,139.47 252.60,138.20 C252.73,136.93 253.35,135.00 254.10,133.60 C254.85,132.20 256.08,130.68 257.10,129.80 C258.12,128.92 259.07,128.48 260.20,128.30 Z" fill="#f6d030"/></g>
<path d="M253.00,139.00 C252.97,138.00 253.70,135.75 254.20,134.50 C254.70,133.25 255.77,131.33 256.00,131.50 C256.23,131.67 255.87,134.00 255.60,135.50 C255.33,137.00 254.83,139.92 254.40,140.50 C253.97,141.08 253.03,140.00 253.00,139.00 Z" fill="#70d4b0" opacity="0.85"/>
</g>
<circle cx="319.1" cy="82.8" r="0.55" fill="#c0e080" opacity="0.9"/>
<circle cx="319.1" cy="87.0" r="0.55" fill="#8ad0a0" opacity="0.9"/>
<circle cx="316.7" cy="82.2" r="0.55" fill="#f0d890" opacity="0.9"/>
<circle cx="320.5" cy="77.6" r="0.55" fill="#c0e080" opacity="0.9"/>
<circle cx="317.7" cy="76.3" r="0.55" fill="#f0d890" opacity="0.9"/>
<circle cx="320.7" cy="83.3" r="0.55" fill="#c0e080" opacity="0.9"/>
<circle cx="323.7" cy="84.2" r="0.55" fill="#60c0e0" opacity="0.9"/>
<circle cx="320.9" cy="83.7" r="0.55" fill="#60c0e0" opacity="0.9"/>
<circle cx="315.6" cy="75.5" r="0.55" fill="#8ad0a0" opacity="0.9"/>
<circle cx="320.4" cy="85.9" r="0.55" fill="#f0a030" opacity="0.9"/>
<circle cx="319.0" cy="86.8" r="0.55" fill="#60c0e0" opacity="0.9"/>
<circle cx="317.1" cy="79.1" r="0.55" fill="#e8c840" opacity="0.9"/>
<circle cx="321.0" cy="81.4" r="0.55" fill="#f0a030" opacity="0.9"/>
<circle cx="318.7" cy="82.7" r="0.55" fill="#e8c840" opacity="0.9"/>
<circle cx="321.4" cy="79.4" r="0.55" fill="#8ad0a0" opacity="0.9"/>
<circle cx="319.6" cy="75.4" r="0.55" fill="#60c0e0" opacity="0.9"/>
<circle cx="321.9" cy="80.6" r="0.55" fill="#f0a030" opacity="0.9"/>
<circle cx="318.5" cy="88.4" r="0.55" fill="#f0d890" opacity="0.9"/>
<circle cx="315.0" cy="77.9" r="0.55" fill="#e8c840" opacity="0.9"/>
<circle cx="319.2" cy="88.7" r="0.55" fill="#c0e080" opacity="0.9"/>
<circle cx="318.8" cy="82.9" r="0.55" fill="#8ad0a0" opacity="0.9"/>
<circle cx="322.0" cy="78.8" r="0.55" fill="#e8c840" opacity="0.9"/>
<circle cx="317.8" cy="75.2" r="0.55" fill="#c0e080" opacity="0.9"/>
<circle cx="321.8" cy="76.7" r="0.55" fill="#8ad0a0" opacity="0.9"/>
<circle cx="321.4" cy="75.2" r="0.55" fill="#c0e080" opacity="0.9"/>
<circle cx="322.2" cy="77.5" r="0.55" fill="#60c0e0" opacity="0.9"/>
<circle cx="314.2" cy="134.6" r="0.55" fill="#f0d890" opacity="0.9"/>
<circle cx="319.4" cy="133.4" r="0.55" fill="#c0e080" opacity="0.9"/>
<circle cx="313.5" cy="133.4" r="0.55" fill="#8ad0a0" opacity="0.9"/>
<circle cx="312.5" cy="139.6" r="0.55" fill="#60c0e0" opacity="0.9"/>
<circle cx="315.2" cy="139.9" r="0.55" fill="#8ad0a0" opacity="0.9"/>
<circle cx="314.2" cy="141.4" r="0.55" fill="#60c0e0" opacity="0.9"/>
<circle cx="318.3" cy="128.9" r="0.55" fill="#8ad0a0" opacity="0.9"/>
<circle cx="314.4" cy="131.1" r="0.55" fill="#60c0e0" opacity="0.9"/>
<circle cx="315.5" cy="131.6" r="0.55" fill="#e8c840" opacity="0.9"/>
<circle cx="313.2" cy="130.4" r="0.55" fill="#f0d890" opacity="0.9"/>
<circle cx="314.7" cy="135.9" r="0.55" fill="#f0a030" opacity="0.9"/>
<circle cx="318.1" cy="129.3" r="0.55" fill="#60c0e0" opacity="0.9"/>
<circle cx="316.9" cy="135.5" r="0.55" fill="#c0e080" opacity="0.9"/>
<circle cx="314.1" cy="129.7" r="0.55" fill="#8ad0a0" opacity="0.9"/>
<circle cx="319.9" cy="131.0" r="0.55" fill="#8ad0a0" opacity="0.9"/>
<circle cx="313.9" cy="136.3" r="0.55" fill="#60c0e0" opacity="0.9"/>
<circle cx="314.3" cy="140.8" r="0.55" fill="#c0e080" opacity="0.9"/>
<circle cx="317.9" cy="133.4" r="0.55" fill="#e8c840" opacity="0.9"/>
<circle cx="313.5" cy="134.7" r="0.55" fill="#f0a030" opacity="0.9"/>
<circle cx="314.6" cy="137.4" r="0.55" fill="#f0a030" opacity="0.9"/>
<circle cx="316.3" cy="140.2" r="0.55" fill="#c0e080" opacity="0.9"/>
<circle cx="315.1" cy="130.0" r="0.55" fill="#f0d890" opacity="0.9"/>
<circle cx="321.3" cy="129.3" r="0.55" fill="#c0e080" opacity="0.9"/>
<circle cx="317.5" cy="139.4" r="0.55" fill="#60c0e0" opacity="0.9"/>
<circle cx="313.2" cy="130.5" r="0.55" fill="#8ad0a0" opacity="0.9"/>
<circle cx="319.2" cy="128.5" r="0.55" fill="#c0e080" opacity="0.9"/>
<text x="213.60" y="101.20" font-size="6.8" text-anchor="start" font-weight="normal" fill="#111" textLength="15.4" lengthAdjust="spacingAndGlyphs" stroke="#111" stroke-width="0.3">CD69</text>
<text x="276.00" y="100.40" font-size="6.8" text-anchor="start" font-weight="normal" fill="#111" textLength="15.4" lengthAdjust="spacingAndGlyphs" stroke="#111" stroke-width="0.3">CD69</text>
<text x="214.20" y="152.20" font-size="6.8" text-anchor="start" font-weight="normal" fill="#111" textLength="15.4" lengthAdjust="spacingAndGlyphs" stroke="#111" stroke-width="0.3">CD69</text>
<text x="275.80" y="152.80" font-size="6.8" text-anchor="start" font-weight="normal" fill="#111" textLength="15.4" lengthAdjust="spacingAndGlyphs" stroke="#111" stroke-width="0.3">CD69</text>
<ellipse cx="260.5" cy="84.1" rx="8.8" ry="13.7" transform="rotate(18 260.5 84.1)" fill="none" stroke="#f02828" stroke-width="1.25" stroke-dasharray="0.01,1.85" stroke-linecap="round"/>
<ellipse cx="324.2" cy="86.5" rx="8.8" ry="13.9" transform="rotate(18 324.2 86.5)" fill="none" stroke="#f02828" stroke-width="1.25" stroke-dasharray="0.01,1.85" stroke-linecap="round"/>
<ellipse cx="261" cy="139.3" rx="8.8" ry="14.2" transform="rotate(18 261 139.3)" fill="none" stroke="#f02828" stroke-width="1.25" stroke-dasharray="0.01,1.85" stroke-linecap="round"/>
<ellipse cx="321.2" cy="140.8" rx="8.8" ry="13.9" transform="rotate(18 321.2 140.8)" fill="none" stroke="#f02828" stroke-width="1.25" stroke-dasharray="0.01,1.85" stroke-linecap="round"/>
<text x="-7.50" y="0.00" font-size="8.3" text-anchor="start" font-weight="normal" fill="#000" transform="translate(210.6,123.5) rotate(-90)" textLength="15.0" lengthAdjust="spacingAndGlyphs" stroke="#000" stroke-width="0.25">tSNE1</text>
<line x1="207.4" y1="138.5" x2="207.4" y2="163.2" stroke="#000" stroke-width="0.85" />
<line x1="207.4" y1="163.2" x2="233.4" y2="163.2" stroke="#000" stroke-width="0.85" />
<path d="M207.4,134.8 L205.6,139 L209.2,139 Z" fill="#000"/>
<path d="M236.8,163.2 L232.6,161.4 L232.6,165 Z" fill="#000"/>
<text x="240.80" y="165.30" font-size="8.3" text-anchor="start" font-weight="normal" fill="#000" textLength="15.0" lengthAdjust="spacingAndGlyphs" stroke="#000" stroke-width="0.25">tSNE2</text>
<text x="350.50" y="16.60" font-size="11.6" text-anchor="start" font-weight="bold" fill="#000" stroke="#000" stroke-width="0.25">C</text>
<rect x="396.50" y="45.24" width="6.30" height="49.55" fill="#bcdca4" stroke="none" stroke-width="0.8" />
<rect x="404.50" y="57.49" width="6.30" height="37.31" fill="#dca096" stroke="none" stroke-width="0.8" />
<rect x="414.40" y="37.67" width="6.30" height="57.13" fill="#bcdca4" stroke="none" stroke-width="0.8" />
<rect x="421.90" y="38.83" width="6.30" height="55.97" fill="#dca096" stroke="none" stroke-width="0.8" />
<circle cx="399.65" cy="39.01" r="1.15" fill="#235a1f" stroke="#111" stroke-width="0.3"/>
<circle cx="399.65" cy="40.99" r="1.15" fill="#235a1f" stroke="#111" stroke-width="0.3"/>
<circle cx="399.65" cy="44.43" r="1.15" fill="#235a1f" stroke="#111" stroke-width="0.3"/>
<circle cx="399.65" cy="51.95" r="1.15" fill="#235a1f" stroke="#111" stroke-width="0.3"/>
<circle cx="407.65" cy="39.01" r="1.15" fill="#5e0f1c" stroke="#111" stroke-width="0.3"/>
<circle cx="407.65" cy="43.90" r="1.15" fill="#5e0f1c" stroke="#111" stroke-width="0.3"/>
<circle cx="407.65" cy="46.94" r="1.15" fill="#5e0f1c" stroke="#111" stroke-width="0.3"/>
<circle cx="407.65" cy="61.69" r="1.15" fill="#5e0f1c" stroke="#111" stroke-width="0.3"/>
<circle cx="407.65" cy="74.10" r="1.15" fill="#5e0f1c" stroke="#111" stroke-width="0.3"/>
<circle cx="407.65" cy="79.93" r="1.15" fill="#5e0f1c" stroke="#111" stroke-width="0.3"/>
<circle cx="407.65" cy="81.45" r="1.15" fill="#5e0f1c" stroke="#111" stroke-width="0.3"/>
<circle cx="415.75" cy="37.67" r="1.15" fill="#235a1f" stroke="#111" stroke-width="0.3"/>
<circle cx="418.05" cy="37.96" r="1.15" fill="#235a1f" stroke="#111" stroke-width="0.3"/>
<circle cx="419.55" cy="37.67" r="1.15" fill="#235a1f" stroke="#111" stroke-width="0.3"/>
<circle cx="417.95" cy="39.65" r="1.15" fill="#235a1f" stroke="#111" stroke-width="0.3"/>
<circle cx="423.05" cy="38.25" r="1.15" fill="#5e0f1c" stroke="#111" stroke-width="0.3"/>
<circle cx="425.05" cy="37.08" r="1.15" fill="#5e0f1c" stroke="#111" stroke-width="0.3"/>
<circle cx="427.05" cy="37.67" r="1.15" fill="#5e0f1c" stroke="#111" stroke-width="0.3"/>
<circle cx="424.05" cy="39.41" r="1.15" fill="#5e0f1c" stroke="#111" stroke-width="0.3"/>
<circle cx="426.05" cy="38.83" r="1.15" fill="#5e0f1c" stroke="#111" stroke-width="0.3"/>
<circle cx="425.05" cy="40.00" r="1.15" fill="#5e0f1c" stroke="#111" stroke-width="0.3"/>
<circle cx="427.05" cy="39.41" r="1.15" fill="#5e0f1c" stroke="#111" stroke-width="0.3"/>
<line x1="393.3" y1="33.9" x2="393.3" y2="95.25" stroke="#000" stroke-width="1.0" />
<line x1="392.8" y1="94.8" x2="432.1" y2="94.8" stroke="#000" stroke-width="1.0" />
<line x1="389.90000000000003" y1="94.8" x2="393.3" y2="94.8" stroke="#000" stroke-width="0.8" />
<text x="383.90" y="96.80" font-size="6.5" text-anchor="start" font-weight="normal" fill="#111" textLength="3.3" lengthAdjust="spacingAndGlyphs"  stroke="#111" stroke-width="0.12">0</text>
<line x1="389.90000000000003" y1="83.14" x2="393.3" y2="83.14" stroke="#000" stroke-width="0.8" />
<text x="380.60" y="85.14" font-size="6.5" text-anchor="start" font-weight="normal" fill="#111" textLength="6.6" lengthAdjust="spacingAndGlyphs"  stroke="#111" stroke-width="0.12">20</text>
<line x1="389.90000000000003" y1="71.47999999999999" x2="393.3" y2="71.47999999999999" stroke="#000" stroke-width="0.8" />
<text x="380.60" y="73.48" font-size="6.5" text-anchor="start" font-weight="normal" fill="#111" textLength="6.6" lengthAdjust="spacingAndGlyphs"  stroke="#111" stroke-width="0.12">40</text>
<line x1="389.90000000000003" y1="59.82" x2="393.3" y2="59.82" stroke="#000" stroke-width="0.8" />
<text x="380.60" y="61.82" font-size="6.5" text-anchor="start" font-weight="normal" fill="#111" textLength="6.6" lengthAdjust="spacingAndGlyphs"  stroke="#111" stroke-width="0.12">60</text>
<line x1="389.90000000000003" y1="48.16" x2="393.3" y2="48.16" stroke="#000" stroke-width="0.8" />
<text x="380.60" y="50.16" font-size="6.5" text-anchor="start" font-weight="normal" fill="#111" textLength="6.6" lengthAdjust="spacingAndGlyphs"  stroke="#111" stroke-width="0.12">80</text>
<line x1="389.90000000000003" y1="36.5" x2="393.3" y2="36.5" stroke="#000" stroke-width="0.8" />
<text x="377.30" y="38.50" font-size="6.5" text-anchor="start" font-weight="normal" fill="#111" textLength="9.899999999999999" lengthAdjust="spacingAndGlyphs"  stroke="#111" stroke-width="0.12">100</text>
<path d="M396.00,97.0 L396.00,99.1 L411.00,99.1 L411.00,97.0" fill="none" stroke="#000" stroke-width="0.75"/>
<text x="398.90" y="107.10" font-size="6.0" text-anchor="start" font-weight="normal" fill="#111" textLength="9.2" lengthAdjust="spacingAndGlyphs"  stroke="#111" stroke-width="0.12">BM</text>
<path d="M413.80,97.0 L413.80,99.1 L428.60,99.1 L428.60,97.0" fill="none" stroke="#000" stroke-width="0.75"/>
<text x="417.10" y="107.10" font-size="6.0" text-anchor="start" font-weight="normal" fill="#111" textLength="8.2" lengthAdjust="spacingAndGlyphs"  stroke="#111" stroke-width="0.12">PB</text>
<line x1="396.4" y1="35.3" x2="410.6" y2="35.3" stroke="#222" stroke-width="0.9" />
<text x="400.40" y="33.70" font-size="5.8" text-anchor="start" font-weight="normal" fill="#333" textLength="6.2" lengthAdjust="spacingAndGlyphs" stroke="#333" stroke-width="0.2">ns</text>
<line x1="414.2" y1="34.0" x2="428.2" y2="34.0" stroke="#222" stroke-width="0.9" />
<text x="418.10" y="32.40" font-size="5.8" text-anchor="start" font-weight="normal" fill="#333" textLength="6.2" lengthAdjust="spacingAndGlyphs" stroke="#333" stroke-width="0.2">ns</text>
<text x="-22.40" y="0.00" font-size="7.6" text-anchor="start" font-weight="bold" fill="#111" transform="translate(371.9,64.2) rotate(-90)" textLength="44.8" lengthAdjust="spacingAndGlyphs"  stroke="#111" stroke-width="0.12">CD69<tspan dy="-2.4" font-size="4.6">+</tspan><tspan dy="2.4">​</tspan>T<tspan dy="2.0" font-size="4.7">TE</tspan><tspan dy="-2.0">​</tspan> (% T<tspan dy="2.0" font-size="4.7">TE</tspan><tspan dy="-2.0">​</tspan>)</text>
<rect x="477.20" y="87.22" width="6.30" height="7.58" fill="#bcdca4" stroke="none" stroke-width="0.8" />
<rect x="485.20" y="74.98" width="6.30" height="19.82" fill="#dca096" stroke="none" stroke-width="0.8" />
<rect x="495.10" y="93.63" width="6.30" height="1.17" fill="#bcdca4" stroke="none" stroke-width="0.8" />
<rect x="502.60" y="91.88" width="6.30" height="2.92" fill="#dca096" stroke="none" stroke-width="0.8" />
<circle cx="480.35" cy="79.76" r="1.15" fill="#235a1f" stroke="#111" stroke-width="0.3"/>
<circle cx="480.35" cy="82.38" r="1.15" fill="#235a1f" stroke="#111" stroke-width="0.3"/>
<circle cx="480.35" cy="89.55" r="1.15" fill="#235a1f" stroke="#111" stroke-width="0.3"/>
<circle cx="480.35" cy="91.30" r="1.15" fill="#235a1f" stroke="#111" stroke-width="0.3"/>
<circle cx="488.35" cy="50.49" r="1.15" fill="#5e0f1c" stroke="#111" stroke-width="0.3"/>
<circle cx="488.35" cy="52.24" r="1.15" fill="#5e0f1c" stroke="#111" stroke-width="0.3"/>
<circle cx="488.35" cy="57.49" r="1.15" fill="#5e0f1c" stroke="#111" stroke-width="0.3"/>
<circle cx="488.35" cy="70.49" r="1.15" fill="#5e0f1c" stroke="#111" stroke-width="0.3"/>
<circle cx="488.35" cy="78.83" r="1.15" fill="#5e0f1c" stroke="#111" stroke-width="0.3"/>
<circle cx="488.35" cy="85.06" r="1.15" fill="#5e0f1c" stroke="#111" stroke-width="0.3"/>
<circle cx="488.35" cy="86.75" r="1.15" fill="#5e0f1c" stroke="#111" stroke-width="0.3"/>
<circle cx="488.35" cy="92.18" r="1.15" fill="#5e0f1c" stroke="#111" stroke-width="0.3"/>
<circle cx="497.25" cy="93.05" r="1.15" fill="#235a1f" stroke="#111" stroke-width="0.3"/>
<circle cx="498.25" cy="94.22" r="1.15" fill="#235a1f" stroke="#111" stroke-width="0.3"/>
<circle cx="499.25" cy="92.47" r="1.15" fill="#235a1f" stroke="#111" stroke-width="0.3"/>
<circle cx="498.25" cy="93.63" r="1.15" fill="#235a1f" stroke="#111" stroke-width="0.3"/>
<circle cx="503.75" cy="91.30" r="1.15" fill="#5e0f1c" stroke="#111" stroke-width="0.3"/>
<circle cx="505.75" cy="89.55" r="1.15" fill="#5e0f1c" stroke="#111" stroke-width="0.3"/>
<circle cx="507.75" cy="92.47" r="1.15" fill="#5e0f1c" stroke="#111" stroke-width="0.3"/>
<circle cx="504.75" cy="93.63" r="1.15" fill="#5e0f1c" stroke="#111" stroke-width="0.3"/>
<circle cx="506.75" cy="90.72" r="1.15" fill="#5e0f1c" stroke="#111" stroke-width="0.3"/>
<circle cx="505.75" cy="93.05" r="1.15" fill="#5e0f1c" stroke="#111" stroke-width="0.3"/>
<circle cx="507.75" cy="91.88" r="1.15" fill="#5e0f1c" stroke="#111" stroke-width="0.3"/>
<line x1="474.0" y1="33.9" x2="474.0" y2="95.25" stroke="#000" stroke-width="1.0" />
<line x1="473.5" y1="94.8" x2="512.8" y2="94.8" stroke="#000" stroke-width="1.0" />
<line x1="470.6" y1="94.8" x2="474.0" y2="94.8" stroke="#000" stroke-width="0.8" />
<text x="464.60" y="96.80" font-size="6.5" text-anchor="start" font-weight="normal" fill="#111" textLength="3.3" lengthAdjust="spacingAndGlyphs"  stroke="#111" stroke-width="0.12">0</text>
<line x1="470.6" y1="83.14" x2="474.0" y2="83.14" stroke="#000" stroke-width="0.8" />
<text x="461.30" y="85.14" font-size="6.5" text-anchor="start" font-weight="normal" fill="#111" textLength="6.6" lengthAdjust="spacingAndGlyphs"  stroke="#111" stroke-width="0.12">20</text>
<line x1="470.6" y1="71.47999999999999" x2="474.0" y2="71.47999999999999" stroke="#000" stroke-width="0.8" />
<text x="461.30" y="73.48" font-size="6.5" text-anchor="start" font-weight="normal" fill="#111" textLength="6.6" lengthAdjust="spacingAndGlyphs"  stroke="#111" stroke-width="0.12">40</text>
<line x1="470.6" y1="59.82" x2="474.0" y2="59.82" stroke="#000" stroke-width="0.8" />
<text x="461.30" y="61.82" font-size="6.5" text-anchor="start" font-weight="normal" fill="#111" textLength="6.6" lengthAdjust="spacingAndGlyphs"  stroke="#111" stroke-width="0.12">60</text>
<line x1="470.6" y1="48.16" x2="474.0" y2="48.16" stroke="#000" stroke-width="0.8" />
<text x="461.30" y="50.16" font-size="6.5" text-anchor="start" font-weight="normal" fill="#111" textLength="6.6" lengthAdjust="spacingAndGlyphs"  stroke="#111" stroke-width="0.12">80</text>
<line x1="470.6" y1="36.5" x2="474.0" y2="36.5" stroke="#000" stroke-width="0.8" />
<text x="458.00" y="38.50" font-size="6.5" text-anchor="start" font-weight="normal" fill="#111" textLength="9.899999999999999" lengthAdjust="spacingAndGlyphs"  stroke="#111" stroke-width="0.12">100</text>
<path d="M476.70,97.0 L476.70,99.1 L491.70,99.1 L491.70,97.0" fill="none" stroke="#000" stroke-width="0.75"/>
<text x="479.60" y="107.10" font-size="6.0" text-anchor="start" font-weight="normal" fill="#111" textLength="9.2" lengthAdjust="spacingAndGlyphs"  stroke="#111" stroke-width="0.12">BM</text>
<path d="M494.50,97.0 L494.50,99.1 L509.30,99.1 L509.30,97.0" fill="none" stroke="#000" stroke-width="0.75"/>
<text x="497.80" y="107.10" font-size="6.0" text-anchor="start" font-weight="normal" fill="#111" textLength="8.2" lengthAdjust="spacingAndGlyphs"  stroke="#111" stroke-width="0.12">PB</text>
<line x1="476.8" y1="45.6" x2="491.4" y2="45.6" stroke="#222" stroke-width="0.9" />
<text x="481.00" y="44.00" font-size="5.8" text-anchor="start" font-weight="normal" fill="#333" textLength="6.2" lengthAdjust="spacingAndGlyphs" stroke="#333" stroke-width="0.2">ns</text>
<line x1="494.6" y1="86.8" x2="508.4" y2="86.8" stroke="#222" stroke-width="0.9" />
<text x="498.40" y="85.20" font-size="5.8" text-anchor="start" font-weight="normal" fill="#333" textLength="6.2" lengthAdjust="spacingAndGlyphs" stroke="#333" stroke-width="0.2">ns</text>
<text x="-23.00" y="0.00" font-size="7.6" text-anchor="start" font-weight="bold" fill="#111" transform="translate(452.6,64.4) rotate(-90)" textLength="46" lengthAdjust="spacingAndGlyphs"  stroke="#111" stroke-width="0.12">CD69<tspan dy="-2.4" font-size="4.6">+</tspan><tspan dy="2.4">​</tspan>T<tspan dy="2.0" font-size="4.7">TE</tspan><tspan dy="-2.0">​</tspan> (% T<tspan dy="2.0" font-size="4.7">TE</tspan><tspan dy="-2.0">​</tspan>)</text>
<text x="350.90" y="128.70" font-size="11.6" text-anchor="start" font-weight="bold" fill="#000" stroke="#000" stroke-width="0.25">D</text>
<rect x="396.50" y="186.33" width="6.30" height="9.67" fill="#bcdca4" stroke="none" stroke-width="0.8" />
<rect x="404.50" y="185.59" width="6.30" height="10.41" fill="#dca096" stroke="none" stroke-width="0.8" />
<rect x="414.40" y="169.97" width="6.30" height="26.03" fill="#bcdca4" stroke="none" stroke-width="0.8" />
<rect x="421.90" y="169.22" width="6.30" height="26.78" fill="#dca096" stroke="none" stroke-width="0.8" />
<circle cx="399.65" cy="179.64" r="1.15" fill="#235a1f" stroke="#111" stroke-width="0.3"/>
<circle cx="399.65" cy="181.50" r="1.15" fill="#235a1f" stroke="#111" stroke-width="0.3"/>
<circle cx="399.65" cy="192.28" r="1.15" fill="#235a1f" stroke="#111" stroke-width="0.3"/>
<circle cx="399.65" cy="194.51" r="1.15" fill="#235a1f" stroke="#111" stroke-width="0.3"/>
<circle cx="407.65" cy="166.25" r="1.15" fill="#5e0f1c" stroke="#111" stroke-width="0.3"/>
<circle cx="406.65" cy="173.69" r="1.15" fill="#5e0f1c" stroke="#111" stroke-width="0.3"/>
<circle cx="408.85" cy="174.43" r="1.15" fill="#5e0f1c" stroke="#111" stroke-width="0.3"/>
<circle cx="407.65" cy="183.36" r="1.15" fill="#5e0f1c" stroke="#111" stroke-width="0.3"/>
<circle cx="407.65" cy="190.05" r="1.15" fill="#5e0f1c" stroke="#111" stroke-width="0.3"/>
<circle cx="405.65" cy="191.17" r="1.15" fill="#5e0f1c" stroke="#111" stroke-width="0.3"/>
<circle cx="407.65" cy="191.17" r="1.15" fill="#5e0f1c" stroke="#111" stroke-width="0.3"/>
<circle cx="409.65" cy="191.17" r="1.15" fill="#5e0f1c" stroke="#111" stroke-width="0.3"/>
<circle cx="417.55" cy="153.61" r="1.15" fill="#235a1f" stroke="#111" stroke-width="0.3"/>
<circle cx="417.55" cy="161.79" r="1.15" fill="#235a1f" stroke="#111" stroke-width="0.3"/>
<circle cx="417.55" cy="179.64" r="1.15" fill="#235a1f" stroke="#111" stroke-width="0.3"/>
<circle cx="417.55" cy="192.28" r="1.15" fill="#235a1f" stroke="#111" stroke-width="0.3"/>
<circle cx="425.05" cy="149.14" r="1.15" fill="#5e0f1c" stroke="#111" stroke-width="0.3"/>
<circle cx="423.05" cy="158.07" r="1.15" fill="#5e0f1c" stroke="#111" stroke-width="0.3"/>
<circle cx="427.05" cy="158.07" r="1.15" fill="#5e0f1c" stroke="#111" stroke-width="0.3"/>
<circle cx="425.05" cy="166.25" r="1.15" fill="#5e0f1c" stroke="#111" stroke-width="0.3"/>
<circle cx="425.05" cy="171.46" r="1.15" fill="#5e0f1c" stroke="#111" stroke-width="0.3"/>
<circle cx="423.05" cy="175.92" r="1.15" fill="#5e0f1c" stroke="#111" stroke-width="0.3"/>
<circle cx="427.05" cy="175.92" r="1.15" fill="#5e0f1c" stroke="#111" stroke-width="0.3"/>
<circle cx="425.05" cy="184.10" r="1.15" fill="#5e0f1c" stroke="#111" stroke-width="0.3"/>
<line x1="393.3" y1="133.9" x2="393.3" y2="196.45" stroke="#000" stroke-width="1.0" />
<line x1="392.8" y1="196" x2="432.1" y2="196" stroke="#000" stroke-width="1.0" />
<line x1="389.90000000000003" y1="196.0" x2="393.3" y2="196.0" stroke="#000" stroke-width="0.8" />
<text x="383.90" y="198.00" font-size="6.5" text-anchor="start" font-weight="normal" fill="#111" textLength="3.3" lengthAdjust="spacingAndGlyphs"  stroke="#111" stroke-width="0.12">0</text>
<line x1="389.90000000000003" y1="181.125" x2="393.3" y2="181.125" stroke="#000" stroke-width="0.8" />
<text x="380.60" y="183.12" font-size="6.5" text-anchor="start" font-weight="normal" fill="#111" textLength="6.6" lengthAdjust="spacingAndGlyphs"  stroke="#111" stroke-width="0.12">20</text>
<line x1="389.90000000000003" y1="166.25" x2="393.3" y2="166.25" stroke="#000" stroke-width="0.8" />
<text x="380.60" y="168.25" font-size="6.5" text-anchor="start" font-weight="normal" fill="#111" textLength="6.6" lengthAdjust="spacingAndGlyphs"  stroke="#111" stroke-width="0.12">40</text>
<line x1="389.90000000000003" y1="151.375" x2="393.3" y2="151.375" stroke="#000" stroke-width="0.8" />
<text x="380.60" y="153.38" font-size="6.5" text-anchor="start" font-weight="normal" fill="#111" textLength="6.6" lengthAdjust="spacingAndGlyphs"  stroke="#111" stroke-width="0.12">60</text>
<line x1="389.90000000000003" y1="136.5" x2="393.3" y2="136.5" stroke="#000" stroke-width="0.8" />
<text x="380.60" y="138.50" font-size="6.5" text-anchor="start" font-weight="normal" fill="#111" textLength="6.6" lengthAdjust="spacingAndGlyphs"  stroke="#111" stroke-width="0.12">80</text>
<path d="M396.00,198.2 L396.00,200.3 L411.00,200.3 L411.00,198.2" fill="none" stroke="#000" stroke-width="0.75"/>
<text x="398.90" y="208.30" font-size="6.0" text-anchor="start" font-weight="normal" fill="#111" textLength="9.2" lengthAdjust="spacingAndGlyphs"  stroke="#111" stroke-width="0.12">BM</text>
<path d="M413.80,198.2 L413.80,200.3 L428.60,200.3 L428.60,198.2" fill="none" stroke="#000" stroke-width="0.75"/>
<text x="417.10" y="208.30" font-size="6.0" text-anchor="start" font-weight="normal" fill="#111" textLength="8.2" lengthAdjust="spacingAndGlyphs"  stroke="#111" stroke-width="0.12">PB</text>
<line x1="396.8" y1="163.2" x2="410.2" y2="163.2" stroke="#222" stroke-width="0.9" />
<text x="400.40" y="161.60" font-size="5.8" text-anchor="start" font-weight="normal" fill="#333" textLength="6.2" lengthAdjust="spacingAndGlyphs" stroke="#333" stroke-width="0.2">ns</text>
<line x1="414.5" y1="145.4" x2="428.4" y2="145.4" stroke="#222" stroke-width="0.9" />
<text x="418.35" y="143.80" font-size="5.8" text-anchor="start" font-weight="normal" fill="#333" textLength="6.2" lengthAdjust="spacingAndGlyphs" stroke="#333" stroke-width="0.2">ns</text>
<text x="-26.25" y="0.00" font-size="7.6" text-anchor="start" font-weight="bold" fill="#111" transform="translate(375.1,165.4) rotate(-90)" textLength="52.5" lengthAdjust="spacingAndGlyphs"  stroke="#111" stroke-width="0.12">CD69<tspan dy="-2.4" font-size="4.6">+</tspan><tspan dy="2.4">​</tspan>T<tspan dy="2.0" font-size="4.7">TE</tspan><tspan dy="-2.0">​</tspan> (% CD8<tspan dy="-2.4" font-size="4.6">+</tspan><tspan dy="2.4">​</tspan>T)</text>
<rect x="477.20" y="194.51" width="6.30" height="1.49" fill="#bcdca4" stroke="none" stroke-width="0.8" />
<rect x="485.20" y="190.42" width="6.30" height="5.58" fill="#dca096" stroke="none" stroke-width="0.8" />
<rect x="495.10" y="195.26" width="6.30" height="0.74" fill="#bcdca4" stroke="none" stroke-width="0.8" />
<rect x="502.60" y="195.26" width="6.30" height="0.74" fill="#dca096" stroke="none" stroke-width="0.8" />
<circle cx="479.35" cy="194.51" r="1.15" fill="#235a1f" stroke="#111" stroke-width="0.3"/>
<circle cx="480.35" cy="193.03" r="1.15" fill="#235a1f" stroke="#111" stroke-width="0.3"/>
<circle cx="481.35" cy="195.26" r="1.15" fill="#235a1f" stroke="#111" stroke-width="0.3"/>
<circle cx="480.35" cy="191.54" r="1.15" fill="#235a1f" stroke="#111" stroke-width="0.3"/>
<circle cx="488.35" cy="179.64" r="1.15" fill="#5e0f1c" stroke="#111" stroke-width="0.3"/>
<circle cx="488.35" cy="181.87" r="1.15" fill="#5e0f1c" stroke="#111" stroke-width="0.3"/>
<circle cx="487.35" cy="187.07" r="1.15" fill="#5e0f1c" stroke="#111" stroke-width="0.3"/>
<circle cx="489.35" cy="188.56" r="1.15" fill="#5e0f1c" stroke="#111" stroke-width="0.3"/>
<circle cx="488.35" cy="190.79" r="1.15" fill="#5e0f1c" stroke="#111" stroke-width="0.3"/>
<circle cx="487.35" cy="193.03" r="1.15" fill="#5e0f1c" stroke="#111" stroke-width="0.3"/>
<circle cx="489.35" cy="194.51" r="1.15" fill="#5e0f1c" stroke="#111" stroke-width="0.3"/>
<circle cx="497.25" cy="195.26" r="1.15" fill="#235a1f" stroke="#111" stroke-width="0.3"/>
<circle cx="498.25" cy="194.51" r="1.15" fill="#235a1f" stroke="#111" stroke-width="0.3"/>
<circle cx="499.25" cy="195.26" r="1.15" fill="#235a1f" stroke="#111" stroke-width="0.3"/>
<circle cx="504.75" cy="194.51" r="1.15" fill="#5e0f1c" stroke="#111" stroke-width="0.3"/>
<circle cx="505.75" cy="195.26" r="1.15" fill="#5e0f1c" stroke="#111" stroke-width="0.3"/>
<circle cx="506.75" cy="193.77" r="1.15" fill="#5e0f1c" stroke="#111" stroke-width="0.3"/>
<circle cx="507.75" cy="195.26" r="1.15" fill="#5e0f1c" stroke="#111" stroke-width="0.3"/>
<line x1="474.0" y1="133.9" x2="474.0" y2="196.45" stroke="#000" stroke-width="1.0" />
<line x1="473.5" y1="196" x2="512.8" y2="196" stroke="#000" stroke-width="1.0" />
<line x1="470.6" y1="196.0" x2="474.0" y2="196.0" stroke="#000" stroke-width="0.8" />
<text x="464.60" y="198.00" font-size="6.5" text-anchor="start" font-weight="normal" fill="#111" textLength="3.3" lengthAdjust="spacingAndGlyphs"  stroke="#111" stroke-width="0.12">0</text>
<line x1="470.6" y1="181.125" x2="474.0" y2="181.125" stroke="#000" stroke-width="0.8" />
<text x="461.30" y="183.12" font-size="6.5" text-anchor="start" font-weight="normal" fill="#111" textLength="6.6" lengthAdjust="spacingAndGlyphs"  stroke="#111" stroke-width="0.12">20</text>
<line x1="470.6" y1="166.25" x2="474.0" y2="166.25" stroke="#000" stroke-width="0.8" />
<text x="461.30" y="168.25" font-size="6.5" text-anchor="start" font-weight="normal" fill="#111" textLength="6.6" lengthAdjust="spacingAndGlyphs"  stroke="#111" stroke-width="0.12">40</text>
<line x1="470.6" y1="151.375" x2="474.0" y2="151.375" stroke="#000" stroke-width="0.8" />
<text x="461.30" y="153.38" font-size="6.5" text-anchor="start" font-weight="normal" fill="#111" textLength="6.6" lengthAdjust="spacingAndGlyphs"  stroke="#111" stroke-width="0.12">60</text>
<line x1="470.6" y1="136.5" x2="474.0" y2="136.5" stroke="#000" stroke-width="0.8" />
<text x="461.30" y="138.50" font-size="6.5" text-anchor="start" font-weight="normal" fill="#111" textLength="6.6" lengthAdjust="spacingAndGlyphs"  stroke="#111" stroke-width="0.12">80</text>
<path d="M476.70,198.2 L476.70,200.3 L491.70,200.3 L491.70,198.2" fill="none" stroke="#000" stroke-width="0.75"/>
<text x="479.60" y="208.30" font-size="6.0" text-anchor="start" font-weight="normal" fill="#111" textLength="9.2" lengthAdjust="spacingAndGlyphs"  stroke="#111" stroke-width="0.12">BM</text>
<path d="M494.50,198.2 L494.50,200.3 L509.30,200.3 L509.30,198.2" fill="none" stroke="#000" stroke-width="0.75"/>
<text x="497.80" y="208.30" font-size="6.0" text-anchor="start" font-weight="normal" fill="#111" textLength="8.2" lengthAdjust="spacingAndGlyphs"  stroke="#111" stroke-width="0.12">PB</text>
<line x1="476.8" y1="176.2" x2="491.4" y2="176.2" stroke="#222" stroke-width="0.9" />
<text x="484.10" y="176.00" font-size="6.5" text-anchor="middle" font-weight="normal" fill="#000"  stroke="#000" stroke-width="0.12">*</text>
<line x1="494.6" y1="190.4" x2="508.4" y2="190.4" stroke="#222" stroke-width="0.9" />
<text x="498.40" y="188.80" font-size="5.8" text-anchor="start" font-weight="normal" fill="#333" textLength="6.2" lengthAdjust="spacingAndGlyphs" stroke="#333" stroke-width="0.2">ns</text>
<text x="-26.65" y="0.00" font-size="7.6" text-anchor="start" font-weight="bold" fill="#111" transform="translate(455.6,165.8) rotate(-90)" textLength="53.3" lengthAdjust="spacingAndGlyphs"  stroke="#111" stroke-width="0.12">CD69<tspan dy="-2.4" font-size="4.6">+</tspan><tspan dy="2.4">​</tspan>T<tspan dy="2.0" font-size="4.7">TE</tspan><tspan dy="-2.0">​</tspan> (% CD8<tspan dy="-2.4" font-size="4.6">+</tspan><tspan dy="2.4">​</tspan>T)</text>
<circle cx="489.90" cy="143.60" r="1.4" fill="#3d8a2e" stroke="#1e4d16" stroke-width="0.4"/>
<circle cx="489.90" cy="152.50" r="1.4" fill="#8a1420" stroke="#4a0a10" stroke-width="0.4"/>
<text x="493.60" y="145.60" font-size="5.6" text-anchor="start" font-weight="normal" fill="#000" textLength="16.6" lengthAdjust="spacingAndGlyphs"  stroke="#000" stroke-width="0.12">MGUS</text>
<text x="493.60" y="154.50" font-size="5.6" text-anchor="start" font-weight="normal" fill="#000" textLength="16.6" lengthAdjust="spacingAndGlyphs"  stroke="#000" stroke-width="0.12">NDMM</text>
<text x="6.90" y="234.70" font-size="11.6" text-anchor="start" font-weight="bold" fill="#000" stroke="#000" stroke-width="0.25">E</text>
<line x1="49.4" y1="248.4" x2="49.4" y2="359.65" stroke="#000" stroke-width="1.0" />
<line x1="48.9" y1="359.2" x2="122.5" y2="359.2" stroke="#000" stroke-width="1.0" />
<line x1="46.4" y1="359.2" x2="49.4" y2="359.2" stroke="#000" stroke-width="0.8" />
<text x="40.60" y="361.30" font-size="6.4" text-anchor="start" font-weight="normal" fill="#111" textLength="3.5" lengthAdjust="spacingAndGlyphs"  stroke="#111" stroke-width="0.12">0</text>
<line x1="46.4" y1="337.48" x2="49.4" y2="337.48" stroke="#000" stroke-width="0.8" />
<text x="37.10" y="339.58" font-size="6.4" text-anchor="start" font-weight="normal" fill="#111" textLength="7.0" lengthAdjust="spacingAndGlyphs"  stroke="#111" stroke-width="0.12">20</text>
<line x1="46.4" y1="315.76" x2="49.4" y2="315.76" stroke="#000" stroke-width="0.8" />
<text x="37.10" y="317.86" font-size="6.4" text-anchor="start" font-weight="normal" fill="#111" textLength="7.0" lengthAdjust="spacingAndGlyphs"  stroke="#111" stroke-width="0.12">40</text>
<line x1="46.4" y1="294.03999999999996" x2="49.4" y2="294.03999999999996" stroke="#000" stroke-width="0.8" />
<text x="37.10" y="296.14" font-size="6.4" text-anchor="start" font-weight="normal" fill="#111" textLength="7.0" lengthAdjust="spacingAndGlyphs"  stroke="#111" stroke-width="0.12">60</text>
<line x1="46.4" y1="272.32" x2="49.4" y2="272.32" stroke="#000" stroke-width="0.8" />
<text x="37.10" y="274.42" font-size="6.4" text-anchor="start" font-weight="normal" fill="#111" textLength="7.0" lengthAdjust="spacingAndGlyphs"  stroke="#111" stroke-width="0.12">80</text>
<line x1="46.4" y1="250.60000000000002" x2="49.4" y2="250.60000000000002" stroke="#000" stroke-width="0.8" />
<text x="33.60" y="252.70" font-size="6.4" text-anchor="start" font-weight="normal" fill="#111" textLength="10.5" lengthAdjust="spacingAndGlyphs"  stroke="#111" stroke-width="0.12">100</text>
<line x1="47.6" y1="348.34" x2="49.4" y2="348.34" stroke="#000" stroke-width="0.6" />
<line x1="47.6" y1="326.62" x2="49.4" y2="326.62" stroke="#000" stroke-width="0.6" />
<line x1="47.6" y1="304.9" x2="49.4" y2="304.9" stroke="#000" stroke-width="0.6" />
<line x1="47.6" y1="283.18" x2="49.4" y2="283.18" stroke="#000" stroke-width="0.6" />
<line x1="47.6" y1="261.46000000000004" x2="49.4" y2="261.46000000000004" stroke="#000" stroke-width="0.6" />
<line x1="56.5" y1="359.2" x2="56.5" y2="361.2" stroke="#000" stroke-width="0.7" />
<line x1="66.6" y1="359.2" x2="66.6" y2="361.2" stroke="#000" stroke-width="0.7" />
<line x1="77.3" y1="359.2" x2="77.3" y2="361.2" stroke="#000" stroke-width="0.7" />
<line x1="94.2" y1="359.2" x2="94.2" y2="361.2" stroke="#000" stroke-width="0.7" />
<line x1="104.6" y1="359.2" x2="104.6" y2="361.2" stroke="#000" stroke-width="0.7" />
<line x1="115" y1="359.2" x2="115" y2="361.2" stroke="#000" stroke-width="0.7" />
<text x="55.70" y="370.40" font-size="6.4" text-anchor="middle" font-weight="normal" fill="#000"  stroke="#000" stroke-width="0.12">T<tspan dy="1.6" font-size="4.0">N</tspan><tspan dy="-1.6">​</tspan></text>
<text x="65.80" y="370.40" font-size="6.4" text-anchor="middle" font-weight="normal" fill="#000"  stroke="#000" stroke-width="0.12">T<tspan dy="1.6" font-size="4.0">M</tspan><tspan dy="-1.6">​</tspan></text>
<text x="76.50" y="370.40" font-size="6.4" text-anchor="middle" font-weight="normal" fill="#000"  stroke="#000" stroke-width="0.12">T<tspan dy="1.6" font-size="4.0">TE</tspan><tspan dy="-1.6">​</tspan></text>
<text x="93.40" y="370.40" font-size="6.4" text-anchor="middle" font-weight="normal" fill="#000"  stroke="#000" stroke-width="0.12">T<tspan dy="1.6" font-size="4.0">N</tspan><tspan dy="-1.6">​</tspan></text>
<text x="103.80" y="370.40" font-size="6.4" text-anchor="middle" font-weight="normal" fill="#000"  stroke="#000" stroke-width="0.12">T<tspan dy="1.6" font-size="4.0">M</tspan><tspan dy="-1.6">​</tspan></text>
<text x="114.20" y="370.40" font-size="6.4" text-anchor="middle" font-weight="normal" fill="#000"  stroke="#000" stroke-width="0.12">T<tspan dy="1.6" font-size="4.0">TE</tspan><tspan dy="-1.6">​</tspan></text>
<path d="M58.3,375.6 L58.3,378.3 L115,378.3 L115,375.6" fill="none" stroke="#000" stroke-width="0.75"/>
<text x="82.70" y="387.00" font-size="6.3" text-anchor="start" font-weight="normal" fill="#000" textLength="8" lengthAdjust="spacingAndGlyphs"  stroke="#000" stroke-width="0.12">BM</text>
<text x="-21.00" y="0.00" font-size="7.0" text-anchor="start" font-weight="normal" fill="#000" transform="translate(27.5,303.6) rotate(-90)" textLength="42" lengthAdjust="spacingAndGlyphs" stroke="#000" stroke-width="0.12">% CD8<tspan dy="-2.3" font-size="4.6">+</tspan><tspan dy="2.3">​</tspan>CD69<tspan dy="-2.3" font-size="4.6">+</tspan><tspan dy="2.3">​</tspan> T</text>
<line x1="86" y1="247.5" x2="86" y2="359" stroke="#000" stroke-width="1.0" stroke-dasharray="1.1,1.1"/>
<polyline points="56.5,351.60 66.6,283.18 77.3,349.43" fill="none" stroke="#333" stroke-width="0.6"/>
<polyline points="56.5,352.68 66.6,311.42 77.3,338.57" fill="none" stroke="#333" stroke-width="0.6"/>
<polyline points="56.5,358.11 66.6,317.93 77.3,332.05" fill="none" stroke="#333" stroke-width="0.6"/>
<polyline points="56.5,358.11 66.6,353.77 77.3,353.77" fill="none" stroke="#333" stroke-width="0.6"/>
<polyline points="66.6,353.77 77.3,332.05" fill="none" stroke="#333" stroke-width="0.6"/>
<circle cx="56.50" cy="351.60" r="1.75" fill="#86d050" stroke="#1e3d12" stroke-width="0.55"/>
<circle cx="66.60" cy="283.18" r="1.75" fill="#86d050" stroke="#1e3d12" stroke-width="0.55"/>
<circle cx="77.30" cy="349.43" r="1.75" fill="#86d050" stroke="#1e3d12" stroke-width="0.55"/>
<circle cx="56.50" cy="352.68" r="1.75" fill="#86d050" stroke="#1e3d12" stroke-width="0.55"/>
<circle cx="66.60" cy="311.42" r="1.75" fill="#86d050" stroke="#1e3d12" stroke-width="0.55"/>
<circle cx="77.30" cy="338.57" r="1.75" fill="#86d050" stroke="#1e3d12" stroke-width="0.55"/>
<circle cx="56.50" cy="358.11" r="1.75" fill="#86d050" stroke="#1e3d12" stroke-width="0.55"/>
<circle cx="66.60" cy="317.93" r="1.75" fill="#86d050" stroke="#1e3d12" stroke-width="0.55"/>
<circle cx="77.30" cy="332.05" r="1.75" fill="#86d050" stroke="#1e3d12" stroke-width="0.55"/>
<circle cx="56.50" cy="358.11" r="1.75" fill="#86d050" stroke="#1e3d12" stroke-width="0.55"/>
<circle cx="66.60" cy="353.77" r="1.75" fill="#86d050" stroke="#1e3d12" stroke-width="0.55"/>
<circle cx="77.30" cy="353.77" r="1.75" fill="#86d050" stroke="#1e3d12" stroke-width="0.55"/>
<polyline points="94.2,341.82 104.6,265.80 115,279.92" fill="none" stroke="#333" stroke-width="0.6"/>
<polyline points="94.2,342.91 104.6,278.84 115,276.66" fill="none" stroke="#333" stroke-width="0.6"/>
<polyline points="94.2,345.08 104.6,286.44 115,289.70" fill="none" stroke="#333" stroke-width="0.6"/>
<polyline points="94.2,346.17 104.6,288.61 115,313.59" fill="none" stroke="#333" stroke-width="0.6"/>
<polyline points="94.2,349.43 104.6,289.70 115,328.79" fill="none" stroke="#333" stroke-width="0.6"/>
<polyline points="94.2,351.60 104.6,302.73 115,340.74" fill="none" stroke="#333" stroke-width="0.6"/>
<polyline points="94.2,352.68 104.6,317.93 115,347.25" fill="none" stroke="#333" stroke-width="0.6"/>
<polyline points="94.2,357.03 104.6,325.53 115,355.94" fill="none" stroke="#333" stroke-width="0.6"/>
<circle cx="94.20" cy="341.82" r="1.75" fill="#c8102e" stroke="#3a060c" stroke-width="0.55"/>
<circle cx="104.60" cy="265.80" r="1.75" fill="#c8102e" stroke="#3a060c" stroke-width="0.55"/>
<circle cx="115.00" cy="279.92" r="1.75" fill="#c8102e" stroke="#3a060c" stroke-width="0.55"/>
<circle cx="94.20" cy="342.91" r="1.75" fill="#c8102e" stroke="#3a060c" stroke-width="0.55"/>
<circle cx="104.60" cy="278.84" r="1.75" fill="#c8102e" stroke="#3a060c" stroke-width="0.55"/>
<circle cx="115.00" cy="276.66" r="1.75" fill="#c8102e" stroke="#3a060c" stroke-width="0.55"/>
<circle cx="94.20" cy="345.08" r="1.75" fill="#c8102e" stroke="#3a060c" stroke-width="0.55"/>
<circle cx="104.60" cy="286.44" r="1.75" fill="#c8102e" stroke="#3a060c" stroke-width="0.55"/>
<circle cx="115.00" cy="289.70" r="1.75" fill="#c8102e" stroke="#3a060c" stroke-width="0.55"/>
<circle cx="94.20" cy="346.17" r="1.75" fill="#c8102e" stroke="#3a060c" stroke-width="0.55"/>
<circle cx="104.60" cy="288.61" r="1.75" fill="#c8102e" stroke="#3a060c" stroke-width="0.55"/>
<circle cx="115.00" cy="313.59" r="1.75" fill="#c8102e" stroke="#3a060c" stroke-width="0.55"/>
<circle cx="94.20" cy="349.43" r="1.75" fill="#c8102e" stroke="#3a060c" stroke-width="0.55"/>
<circle cx="104.60" cy="289.70" r="1.75" fill="#c8102e" stroke="#3a060c" stroke-width="0.55"/>
<circle cx="115.00" cy="328.79" r="1.75" fill="#c8102e" stroke="#3a060c" stroke-width="0.55"/>
<circle cx="94.20" cy="351.60" r="1.75" fill="#c8102e" stroke="#3a060c" stroke-width="0.55"/>
<circle cx="104.60" cy="302.73" r="1.75" fill="#c8102e" stroke="#3a060c" stroke-width="0.55"/>
<circle cx="115.00" cy="340.74" r="1.75" fill="#c8102e" stroke="#3a060c" stroke-width="0.55"/>
<circle cx="94.20" cy="352.68" r="1.75" fill="#c8102e" stroke="#3a060c" stroke-width="0.55"/>
<circle cx="104.60" cy="317.93" r="1.75" fill="#c8102e" stroke="#3a060c" stroke-width="0.55"/>
<circle cx="115.00" cy="347.25" r="1.75" fill="#c8102e" stroke="#3a060c" stroke-width="0.55"/>
<circle cx="94.20" cy="357.03" r="1.75" fill="#c8102e" stroke="#3a060c" stroke-width="0.55"/>
<circle cx="104.60" cy="325.53" r="1.75" fill="#c8102e" stroke="#3a060c" stroke-width="0.55"/>
<circle cx="115.00" cy="355.94" r="1.75" fill="#c8102e" stroke="#3a060c" stroke-width="0.55"/>
<line x1="55.2" y1="279.5" x2="78.5" y2="279.5" stroke="#222" stroke-width="0.95" />
<text x="63.90" y="278.20" font-size="5.8" text-anchor="start" font-weight="normal" fill="#333" textLength="6.2" lengthAdjust="spacingAndGlyphs" stroke="#333" stroke-width="0.2">ns</text>
<line x1="103.4" y1="247" x2="117.6" y2="247" stroke="#222" stroke-width="0.95" />
<text x="107.40" y="245.70" font-size="5.8" text-anchor="start" font-weight="normal" fill="#333" textLength="6.2" lengthAdjust="spacingAndGlyphs" stroke="#333" stroke-width="0.2">ns</text>
<line x1="94.3" y1="255.5" x2="117.6" y2="255.5" stroke="#222" stroke-width="0.95" />
<text x="102.70" y="254.20" font-size="5.8" text-anchor="start" font-weight="normal" fill="#333" textLength="6.2" lengthAdjust="spacingAndGlyphs" stroke="#333" stroke-width="0.2">ns</text>
<line x1="92.2" y1="262.2" x2="106.4" y2="262.2" stroke="#222" stroke-width="0.95" />
<text x="96.10" y="262.00" font-size="5.8" text-anchor="start" font-weight="normal" fill="#000" textLength="6.4" lengthAdjust="spacingAndGlyphs" stroke="#000" stroke-width="0.15">***</text>
<circle cx="53.90" cy="243.30" r="1.5" fill="#7ed04a" stroke="#1e4d16" stroke-width="0.4"/>
<circle cx="53.90" cy="252.20" r="1.5" fill="#8a1420" stroke="#4a0a10" stroke-width="0.4"/>
<text x="58.60" y="245.50" font-size="6.0" text-anchor="start" font-weight="normal" fill="#333" textLength="16" lengthAdjust="spacingAndGlyphs"  stroke="#333" stroke-width="0.12">MGUS</text>
<text x="58.60" y="254.40" font-size="6.0" text-anchor="start" font-weight="normal" fill="#333" textLength="16.4" lengthAdjust="spacingAndGlyphs"  stroke="#333" stroke-width="0.12">NDMM</text>
<text x="137.50" y="234.60" font-size="11.6" text-anchor="start" font-weight="bold" fill="#000" stroke="#000" stroke-width="0.25">F</text>
<text x="169.60" y="268.10" font-size="5.6" text-anchor="end" font-weight="normal" fill="#111"  stroke="#111" stroke-width="0.12">CD57</text>
<rect x="171.60" y="263.50" width="5.72" height="6.01" fill="#7171f9" stroke="none" stroke-width="0.8" />
<rect x="177.32" y="263.50" width="5.72" height="6.01" fill="#7171f9" stroke="none" stroke-width="0.8" />
<rect x="183.04" y="263.50" width="5.72" height="6.01" fill="#7171f9" stroke="none" stroke-width="0.8" />
<rect x="188.76" y="263.50" width="5.72" height="6.01" fill="#7171f9" stroke="none" stroke-width="0.8" />
<rect x="196.40" y="263.50" width="5.89" height="6.01" fill="#2020f5" stroke="none" stroke-width="0.8" />
<rect x="202.29" y="263.50" width="5.89" height="6.01" fill="#2020f5" stroke="none" stroke-width="0.8" />
<rect x="208.17" y="263.50" width="5.89" height="6.01" fill="#4848f7" stroke="none" stroke-width="0.8" />
<rect x="214.06" y="263.50" width="5.89" height="6.01" fill="#7171f9" stroke="none" stroke-width="0.8" />
<rect x="219.94" y="263.50" width="5.89" height="6.01" fill="#2020f5" stroke="none" stroke-width="0.8" />
<rect x="225.83" y="263.50" width="5.89" height="6.01" fill="#4848f7" stroke="none" stroke-width="0.8" />
<rect x="231.72" y="263.50" width="5.89" height="6.01" fill="#7171f9" stroke="none" stroke-width="0.8" />
<rect x="237.60" y="263.50" width="5.89" height="6.01" fill="#3434f6" stroke="none" stroke-width="0.8" />
<rect x="243.49" y="263.50" width="5.89" height="6.01" fill="#4848f7" stroke="none" stroke-width="0.8" />
<rect x="249.37" y="263.50" width="5.89" height="6.01" fill="#4848f7" stroke="none" stroke-width="0.8" />
<rect x="255.26" y="263.50" width="5.89" height="6.01" fill="#4848f7" stroke="none" stroke-width="0.8" />
<rect x="261.15" y="263.50" width="5.89" height="6.01" fill="#2020f5" stroke="none" stroke-width="0.8" />
<rect x="267.03" y="263.50" width="5.89" height="6.01" fill="#4848f7" stroke="none" stroke-width="0.8" />
<rect x="272.92" y="263.50" width="5.89" height="6.01" fill="#7171f9" stroke="none" stroke-width="0.8" />
<rect x="278.80" y="263.50" width="5.89" height="6.01" fill="#7171f9" stroke="none" stroke-width="0.8" />
<rect x="284.69" y="263.50" width="5.89" height="6.01" fill="#5c5cf8" stroke="none" stroke-width="0.8" />
<rect x="290.58" y="263.50" width="5.89" height="6.01" fill="#2020f5" stroke="none" stroke-width="0.8" />
<rect x="296.46" y="263.50" width="5.89" height="6.01" fill="#2020f5" stroke="none" stroke-width="0.8" />
<rect x="302.35" y="263.50" width="5.89" height="6.01" fill="#5c5cf8" stroke="none" stroke-width="0.8" />
<rect x="308.23" y="263.50" width="5.89" height="6.01" fill="#7171f9" stroke="none" stroke-width="0.8" />
<rect x="314.12" y="263.50" width="5.89" height="6.01" fill="#4848f7" stroke="none" stroke-width="0.8" />
<text x="169.60" y="274.11" font-size="5.6" text-anchor="end" font-weight="normal" fill="#111"  stroke="#111" stroke-width="0.12">CD69</text>
<rect x="171.60" y="269.51" width="5.72" height="6.01" fill="#5c5cf8" stroke="none" stroke-width="0.8" />
<rect x="177.32" y="269.51" width="5.72" height="6.01" fill="#4848f7" stroke="none" stroke-width="0.8" />
<rect x="183.04" y="269.51" width="5.72" height="6.01" fill="#4848f7" stroke="none" stroke-width="0.8" />
<rect x="188.76" y="269.51" width="5.72" height="6.01" fill="#4848f7" stroke="none" stroke-width="0.8" />
<rect x="196.40" y="269.51" width="5.89" height="6.01" fill="#c9c9fd" stroke="none" stroke-width="0.8" />
<rect x="202.29" y="269.51" width="5.89" height="6.01" fill="#ffffff" stroke="none" stroke-width="0.8" />
<rect x="208.17" y="269.51" width="5.89" height="6.01" fill="#ffffff" stroke="none" stroke-width="0.8" />
<rect x="214.06" y="269.51" width="5.89" height="6.01" fill="#c9c9fd" stroke="none" stroke-width="0.8" />
<rect x="219.94" y="269.51" width="5.89" height="6.01" fill="#ffffff" stroke="none" stroke-width="0.8" />
<rect x="225.83" y="269.51" width="5.89" height="6.01" fill="#ffffff" stroke="none" stroke-width="0.8" />
<rect x="231.72" y="269.51" width="5.89" height="6.01" fill="#ffffff" stroke="none" stroke-width="0.8" />
<rect x="237.60" y="269.51" width="5.89" height="6.01" fill="#ffffff" stroke="none" stroke-width="0.8" />
<rect x="243.49" y="269.51" width="5.89" height="6.01" fill="#c9c9fd" stroke="none" stroke-width="0.8" />
<rect x="249.37" y="269.51" width="5.89" height="6.01" fill="#c9c9fd" stroke="none" stroke-width="0.8" />
<rect x="255.26" y="269.51" width="5.89" height="6.01" fill="#ffffff" stroke="none" stroke-width="0.8" />
<rect x="261.15" y="269.51" width="5.89" height="6.01" fill="#ffffff" stroke="none" stroke-width="0.8" />
<rect x="267.03" y="269.51" width="5.89" height="6.01" fill="#c9c9fd" stroke="none" stroke-width="0.8" />
<rect x="272.92" y="269.51" width="5.89" height="6.01" fill="#ffffff" stroke="none" stroke-width="0.8" />
<rect x="278.80" y="269.51" width="5.89" height="6.01" fill="#ffffff" stroke="none" stroke-width="0.8" />
<rect x="284.69" y="269.51" width="5.89" height="6.01" fill="#e2e2fe" stroke="none" stroke-width="0.8" />
<rect x="290.58" y="269.51" width="5.89" height="6.01" fill="#ffffff" stroke="none" stroke-width="0.8" />
<rect x="296.46" y="269.51" width="5.89" height="6.01" fill="#e2e2fe" stroke="none" stroke-width="0.8" />
<rect x="302.35" y="269.51" width="5.89" height="6.01" fill="#c9c9fd" stroke="none" stroke-width="0.8" />
<rect x="308.23" y="269.51" width="5.89" height="6.01" fill="#e2e2fe" stroke="none" stroke-width="0.8" />
<rect x="314.12" y="269.51" width="5.89" height="6.01" fill="#e2e2fe" stroke="none" stroke-width="0.8" />
<text x="169.60" y="280.13" font-size="5.6" text-anchor="end" font-weight="normal" fill="#111"  stroke="#111" stroke-width="0.12">CD45RA</text>
<rect x="171.60" y="275.53" width="5.72" height="6.01" fill="#ffffff" stroke="none" stroke-width="0.8" />
<rect x="177.32" y="275.53" width="5.72" height="6.01" fill="#ffffff" stroke="none" stroke-width="0.8" />
<rect x="183.04" y="275.53" width="5.72" height="6.01" fill="#7171f9" stroke="none" stroke-width="0.8" />
<rect x="188.76" y="275.53" width="5.72" height="6.01" fill="#7171f9" stroke="none" stroke-width="0.8" />
<rect x="196.40" y="275.53" width="5.89" height="6.01" fill="#7171f9" stroke="none" stroke-width="0.8" />
<rect x="202.29" y="275.53" width="5.89" height="6.01" fill="#c9c9fd" stroke="none" stroke-width="0.8" />
<rect x="208.17" y="275.53" width="5.89" height="6.01" fill="#c9c9fd" stroke="none" stroke-width="0.8" />
<rect x="214.06" y="275.53" width="5.89" height="6.01" fill="#ffffff" stroke="none" stroke-width="0.8" />
<rect x="219.94" y="275.53" width="5.89" height="6.01" fill="#9b9bfb" stroke="none" stroke-width="0.8" />
<rect x="225.83" y="275.53" width="5.89" height="6.01" fill="#7171f9" stroke="none" stroke-width="0.8" />
<rect x="231.72" y="275.53" width="5.89" height="6.01" fill="#7171f9" stroke="none" stroke-width="0.8" />
<rect x="237.60" y="275.53" width="5.89" height="6.01" fill="#9b9bfb" stroke="none" stroke-width="0.8" />
<rect x="243.49" y="275.53" width="5.89" height="6.01" fill="#4848f7" stroke="none" stroke-width="0.8" />
<rect x="249.37" y="275.53" width="5.89" height="6.01" fill="#4848f7" stroke="none" stroke-width="0.8" />
<rect x="255.26" y="275.53" width="5.89" height="6.01" fill="#c9c9fd" stroke="none" stroke-width="0.8" />
<rect x="261.15" y="275.53" width="5.89" height="6.01" fill="#9b9bfb" stroke="none" stroke-width="0.8" />
<rect x="267.03" y="275.53" width="5.89" height="6.01" fill="#4848f7" stroke="none" stroke-width="0.8" />
<rect x="272.92" y="275.53" width="5.89" height="6.01" fill="#ffffff" stroke="none" stroke-width="0.8" />
<rect x="278.80" y="275.53" width="5.89" height="6.01" fill="#7171f9" stroke="none" stroke-width="0.8" />
<rect x="284.69" y="275.53" width="5.89" height="6.01" fill="#5c5cf8" stroke="none" stroke-width="0.8" />
<rect x="290.58" y="275.53" width="5.89" height="6.01" fill="#c9c9fd" stroke="none" stroke-width="0.8" />
<rect x="296.46" y="275.53" width="5.89" height="6.01" fill="#4848f7" stroke="none" stroke-width="0.8" />
<rect x="302.35" y="275.53" width="5.89" height="6.01" fill="#9b9bfb" stroke="none" stroke-width="0.8" />
<rect x="308.23" y="275.53" width="5.89" height="6.01" fill="#5c5cf8" stroke="none" stroke-width="0.8" />
<rect x="314.12" y="275.53" width="5.89" height="6.01" fill="#5c5cf8" stroke="none" stroke-width="0.8" />
<text x="169.60" y="286.14" font-size="5.6" text-anchor="end" font-weight="normal" fill="#111"  stroke="#111" stroke-width="0.12">CD45RO</text>
<rect x="171.60" y="281.54" width="5.72" height="6.01" fill="#2020f5" stroke="none" stroke-width="0.8" />
<rect x="177.32" y="281.54" width="5.72" height="6.01" fill="#2020f5" stroke="none" stroke-width="0.8" />
<rect x="183.04" y="281.54" width="5.72" height="6.01" fill="#c9c9fd" stroke="none" stroke-width="0.8" />
<rect x="188.76" y="281.54" width="5.72" height="6.01" fill="#ffffff" stroke="none" stroke-width="0.8" />
<rect x="196.40" y="281.54" width="5.89" height="6.01" fill="#3434f6" stroke="none" stroke-width="0.8" />
<rect x="202.29" y="281.54" width="5.89" height="6.01" fill="#4848f7" stroke="none" stroke-width="0.8" />
<rect x="208.17" y="281.54" width="5.89" height="6.01" fill="#2020f5" stroke="none" stroke-width="0.8" />
<rect x="214.06" y="281.54" width="5.89" height="6.01" fill="#2020f5" stroke="none" stroke-width="0.8" />
<rect x="219.94" y="281.54" width="5.89" height="6.01" fill="#7171f9" stroke="none" stroke-width="0.8" />
<rect x="225.83" y="281.54" width="5.89" height="6.01" fill="#c9c9fd" stroke="none" stroke-width="0.8" />
<rect x="231.72" y="281.54" width="5.89" height="6.01" fill="#e2e2fe" stroke="none" stroke-width="0.8" />
<rect x="237.60" y="281.54" width="5.89" height="6.01" fill="#4848f7" stroke="none" stroke-width="0.8" />
<rect x="243.49" y="281.54" width="5.89" height="6.01" fill="#c9c9fd" stroke="none" stroke-width="0.8" />
<rect x="249.37" y="281.54" width="5.89" height="6.01" fill="#b2b2fc" stroke="none" stroke-width="0.8" />
<rect x="255.26" y="281.54" width="5.89" height="6.01" fill="#2020f5" stroke="none" stroke-width="0.8" />
<rect x="261.15" y="281.54" width="5.89" height="6.01" fill="#9b9bfb" stroke="none" stroke-width="0.8" />
<rect x="267.03" y="281.54" width="5.89" height="6.01" fill="#c9c9fd" stroke="none" stroke-width="0.8" />
<rect x="272.92" y="281.54" width="5.89" height="6.01" fill="#2020f5" stroke="none" stroke-width="0.8" />
<rect x="278.80" y="281.54" width="5.89" height="6.01" fill="#9b9bfb" stroke="none" stroke-width="0.8" />
<rect x="284.69" y="281.54" width="5.89" height="6.01" fill="#3434f6" stroke="none" stroke-width="0.8" />
<rect x="290.58" y="281.54" width="5.89" height="6.01" fill="#4848f7" stroke="none" stroke-width="0.8" />
<rect x="296.46" y="281.54" width="5.89" height="6.01" fill="#e2e2fe" stroke="none" stroke-width="0.8" />
<rect x="302.35" y="281.54" width="5.89" height="6.01" fill="#2020f5" stroke="none" stroke-width="0.8" />
<rect x="308.23" y="281.54" width="5.89" height="6.01" fill="#7171f9" stroke="none" stroke-width="0.8" />
<rect x="314.12" y="281.54" width="5.89" height="6.01" fill="#7171f9" stroke="none" stroke-width="0.8" />
<text x="169.60" y="292.15" font-size="5.6" text-anchor="end" font-weight="normal" fill="#111"  stroke="#111" stroke-width="0.12">CD27</text>
<rect x="171.60" y="287.55" width="5.72" height="6.01" fill="#9b9bfb" stroke="none" stroke-width="0.8" />
<rect x="177.32" y="287.55" width="5.72" height="6.01" fill="#7171f9" stroke="none" stroke-width="0.8" />
<rect x="183.04" y="287.55" width="5.72" height="6.01" fill="#7171f9" stroke="none" stroke-width="0.8" />
<rect x="188.76" y="287.55" width="5.72" height="6.01" fill="#c9c9fd" stroke="none" stroke-width="0.8" />
<rect x="196.40" y="287.55" width="5.89" height="6.01" fill="#c9c9fd" stroke="none" stroke-width="0.8" />
<rect x="202.29" y="287.55" width="5.89" height="6.01" fill="#ffffff" stroke="none" stroke-width="0.8" />
<rect x="208.17" y="287.55" width="5.89" height="6.01" fill="#7171f9" stroke="none" stroke-width="0.8" />
<rect x="214.06" y="287.55" width="5.89" height="6.01" fill="#7171f9" stroke="none" stroke-width="0.8" />
<rect x="219.94" y="287.55" width="5.89" height="6.01" fill="#ffffff" stroke="none" stroke-width="0.8" />
<rect x="225.83" y="287.55" width="5.89" height="6.01" fill="#ffffff" stroke="none" stroke-width="0.8" />
<rect x="231.72" y="287.55" width="5.89" height="6.01" fill="#4848f7" stroke="none" stroke-width="0.8" />
<rect x="237.60" y="287.55" width="5.89" height="6.01" fill="#ffffff" stroke="none" stroke-width="0.8" />
<rect x="243.49" y="287.55" width="5.89" height="6.01" fill="#c9c9fd" stroke="none" stroke-width="0.8" />
<rect x="249.37" y="287.55" width="5.89" height="6.01" fill="#b2b2fc" stroke="none" stroke-width="0.8" />
<rect x="255.26" y="287.55" width="5.89" height="6.01" fill="#9b9bfb" stroke="none" stroke-width="0.8" />
<rect x="261.15" y="287.55" width="5.89" height="6.01" fill="#ffffff" stroke="none" stroke-width="0.8" />
<rect x="267.03" y="287.55" width="5.89" height="6.01" fill="#c9c9fd" stroke="none" stroke-width="0.8" />
<rect x="272.92" y="287.55" width="5.89" height="6.01" fill="#9b9bfb" stroke="none" stroke-width="0.8" />
<rect x="278.80" y="287.55" width="5.89" height="6.01" fill="#9b9bfb" stroke="none" stroke-width="0.8" />
<rect x="284.69" y="287.55" width="5.89" height="6.01" fill="#7171f9" stroke="none" stroke-width="0.8" />
<rect x="290.58" y="287.55" width="5.89" height="6.01" fill="#c9c9fd" stroke="none" stroke-width="0.8" />
<rect x="296.46" y="287.55" width="5.89" height="6.01" fill="#ffffff" stroke="none" stroke-width="0.8" />
<rect x="302.35" y="287.55" width="5.89" height="6.01" fill="#7171f9" stroke="none" stroke-width="0.8" />
<rect x="308.23" y="287.55" width="5.89" height="6.01" fill="#7171f9" stroke="none" stroke-width="0.8" />
<rect x="314.12" y="287.55" width="5.89" height="6.01" fill="#c9c9fd" stroke="none" stroke-width="0.8" />
<text x="169.60" y="298.17" font-size="5.6" text-anchor="end" font-weight="normal" fill="#111"  stroke="#111" stroke-width="0.12">CD28</text>
<rect x="171.60" y="293.56" width="5.72" height="6.01" fill="#c9c9fd" stroke="none" stroke-width="0.8" />
<rect x="177.32" y="293.56" width="5.72" height="6.01" fill="#b2b2fc" stroke="none" stroke-width="0.8" />
<rect x="183.04" y="293.56" width="5.72" height="6.01" fill="#ececfe" stroke="none" stroke-width="0.8" />
<rect x="188.76" y="293.56" width="5.72" height="6.01" fill="#ffffff" stroke="none" stroke-width="0.8" />
<rect x="196.40" y="293.56" width="5.89" height="6.01" fill="#ffffff" stroke="none" stroke-width="0.8" />
<rect x="202.29" y="293.56" width="5.89" height="6.01" fill="#ffffff" stroke="none" stroke-width="0.8" />
<rect x="208.17" y="293.56" width="5.89" height="6.01" fill="#c9c9fd" stroke="none" stroke-width="0.8" />
<rect x="214.06" y="293.56" width="5.89" height="6.01" fill="#9b9bfb" stroke="none" stroke-width="0.8" />
<rect x="219.94" y="293.56" width="5.89" height="6.01" fill="#ffffff" stroke="none" stroke-width="0.8" />
<rect x="225.83" y="293.56" width="5.89" height="6.01" fill="#ffffff" stroke="none" stroke-width="0.8" />
<rect x="231.72" y="293.56" width="5.89" height="6.01" fill="#c9c9fd" stroke="none" stroke-width="0.8" />
<rect x="237.60" y="293.56" width="5.89" height="6.01" fill="#ffffff" stroke="none" stroke-width="0.8" />
<rect x="243.49" y="293.56" width="5.89" height="6.01" fill="#ffffff" stroke="none" stroke-width="0.8" />
<rect x="249.37" y="293.56" width="5.89" height="6.01" fill="#ffffff" stroke="none" stroke-width="0.8" />
<rect x="255.26" y="293.56" width="5.89" height="6.01" fill="#c9c9fd" stroke="none" stroke-width="0.8" />
<rect x="261.15" y="293.56" width="5.89" height="6.01" fill="#ffffff" stroke="none" stroke-width="0.8" />
<rect x="267.03" y="293.56" width="5.89" height="6.01" fill="#ffffff" stroke="none" stroke-width="0.8" />
<rect x="272.92" y="293.56" width="5.89" height="6.01" fill="#c9c9fd" stroke="none" stroke-width="0.8" />
<rect x="278.80" y="293.56" width="5.89" height="6.01" fill="#c9c9fd" stroke="none" stroke-width="0.8" />
<rect x="284.69" y="293.56" width="5.89" height="6.01" fill="#9b9bfb" stroke="none" stroke-width="0.8" />
<rect x="290.58" y="293.56" width="5.89" height="6.01" fill="#ffffff" stroke="none" stroke-width="0.8" />
<rect x="296.46" y="293.56" width="5.89" height="6.01" fill="#ffffff" stroke="none" stroke-width="0.8" />
<rect x="302.35" y="293.56" width="5.89" height="6.01" fill="#9b9bfb" stroke="none" stroke-width="0.8" />
<rect x="308.23" y="293.56" width="5.89" height="6.01" fill="#c9c9fd" stroke="none" stroke-width="0.8" />
<rect x="314.12" y="293.56" width="5.89" height="6.01" fill="#ffffff" stroke="none" stroke-width="0.8" />
<text x="169.60" y="304.18" font-size="5.6" text-anchor="end" font-weight="normal" fill="#111"  stroke="#111" stroke-width="0.12">CD279</text>
<rect x="171.60" y="299.58" width="5.72" height="6.01" fill="#7171f9" stroke="none" stroke-width="0.8" />
<rect x="177.32" y="299.58" width="5.72" height="6.01" fill="#4848f7" stroke="none" stroke-width="0.8" />
<rect x="183.04" y="299.58" width="5.72" height="6.01" fill="#7171f9" stroke="none" stroke-width="0.8" />
<rect x="188.76" y="299.58" width="5.72" height="6.01" fill="#ffffff" stroke="none" stroke-width="0.8" />
<rect x="196.40" y="299.58" width="5.89" height="6.01" fill="#c9c9fd" stroke="none" stroke-width="0.8" />
<rect x="202.29" y="299.58" width="5.89" height="6.01" fill="#ffffff" stroke="none" stroke-width="0.8" />
<rect x="208.17" y="299.58" width="5.89" height="6.01" fill="#4848f7" stroke="none" stroke-width="0.8" />
<rect x="214.06" y="299.58" width="5.89" height="6.01" fill="#9b9bfb" stroke="none" stroke-width="0.8" />
<rect x="219.94" y="299.58" width="5.89" height="6.01" fill="#e2e2fe" stroke="none" stroke-width="0.8" />
<rect x="225.83" y="299.58" width="5.89" height="6.01" fill="#ffffff" stroke="none" stroke-width="0.8" />
<rect x="231.72" y="299.58" width="5.89" height="6.01" fill="#ffffff" stroke="none" stroke-width="0.8" />
<rect x="237.60" y="299.58" width="5.89" height="6.01" fill="#c9c9fd" stroke="none" stroke-width="0.8" />
<rect x="243.49" y="299.58" width="5.89" height="6.01" fill="#ffffff" stroke="none" stroke-width="0.8" />
<rect x="249.37" y="299.58" width="5.89" height="6.01" fill="#7171f9" stroke="none" stroke-width="0.8" />
<rect x="255.26" y="299.58" width="5.89" height="6.01" fill="#c9c9fd" stroke="none" stroke-width="0.8" />
<rect x="261.15" y="299.58" width="5.89" height="6.01" fill="#ffffff" stroke="none" stroke-width="0.8" />
<rect x="267.03" y="299.58" width="5.89" height="6.01" fill="#ffffff" stroke="none" stroke-width="0.8" />
<rect x="272.92" y="299.58" width="5.89" height="6.01" fill="#9b9bfb" stroke="none" stroke-width="0.8" />
<rect x="278.80" y="299.58" width="5.89" height="6.01" fill="#ffffff" stroke="none" stroke-width="0.8" />
<rect x="284.69" y="299.58" width="5.89" height="6.01" fill="#9b9bfb" stroke="none" stroke-width="0.8" />
<rect x="290.58" y="299.58" width="5.89" height="6.01" fill="#c9c9fd" stroke="none" stroke-width="0.8" />
<rect x="296.46" y="299.58" width="5.89" height="6.01" fill="#ffffff" stroke="none" stroke-width="0.8" />
<rect x="302.35" y="299.58" width="5.89" height="6.01" fill="#7171f9" stroke="none" stroke-width="0.8" />
<rect x="308.23" y="299.58" width="5.89" height="6.01" fill="#ffffff" stroke="none" stroke-width="0.8" />
<rect x="314.12" y="299.58" width="5.89" height="6.01" fill="#9b9bfb" stroke="none" stroke-width="0.8" />
<text x="169.60" y="310.19" font-size="5.6" text-anchor="end" font-weight="normal" fill="#111"  stroke="#111" stroke-width="0.12">TIGIT</text>
<rect x="171.60" y="305.59" width="5.72" height="6.01" fill="#9b9bfb" stroke="none" stroke-width="0.8" />
<rect x="177.32" y="305.59" width="5.72" height="6.01" fill="#7171f9" stroke="none" stroke-width="0.8" />
<rect x="183.04" y="305.59" width="5.72" height="6.01" fill="#7171f9" stroke="none" stroke-width="0.8" />
<rect x="188.76" y="305.59" width="5.72" height="6.01" fill="#7171f9" stroke="none" stroke-width="0.8" />
<rect x="196.40" y="305.59" width="5.89" height="6.01" fill="#9b9bfb" stroke="none" stroke-width="0.8" />
<rect x="202.29" y="305.59" width="5.89" height="6.01" fill="#c9c9fd" stroke="none" stroke-width="0.8" />
<rect x="208.17" y="305.59" width="5.89" height="6.01" fill="#4848f7" stroke="none" stroke-width="0.8" />
<rect x="214.06" y="305.59" width="5.89" height="6.01" fill="#7171f9" stroke="none" stroke-width="0.8" />
<rect x="219.94" y="305.59" width="5.89" height="6.01" fill="#c9c9fd" stroke="none" stroke-width="0.8" />
<rect x="225.83" y="305.59" width="5.89" height="6.01" fill="#ffffff" stroke="none" stroke-width="0.8" />
<rect x="231.72" y="305.59" width="5.89" height="6.01" fill="#e2e2fe" stroke="none" stroke-width="0.8" />
<rect x="237.60" y="305.59" width="5.89" height="6.01" fill="#9b9bfb" stroke="none" stroke-width="0.8" />
<rect x="243.49" y="305.59" width="5.89" height="6.01" fill="#7171f9" stroke="none" stroke-width="0.8" />
<rect x="249.37" y="305.59" width="5.89" height="6.01" fill="#7171f9" stroke="none" stroke-width="0.8" />
<rect x="255.26" y="305.59" width="5.89" height="6.01" fill="#7171f9" stroke="none" stroke-width="0.8" />
<rect x="261.15" y="305.59" width="5.89" height="6.01" fill="#c9c9fd" stroke="none" stroke-width="0.8" />
<rect x="267.03" y="305.59" width="5.89" height="6.01" fill="#4848f7" stroke="none" stroke-width="0.8" />
<rect x="272.92" y="305.59" width="5.89" height="6.01" fill="#7171f9" stroke="none" stroke-width="0.8" />
<rect x="278.80" y="305.59" width="5.89" height="6.01" fill="#e2e2fe" stroke="none" stroke-width="0.8" />
<rect x="284.69" y="305.59" width="5.89" height="6.01" fill="#4848f7" stroke="none" stroke-width="0.8" />
<rect x="290.58" y="305.59" width="5.89" height="6.01" fill="#8686fa" stroke="none" stroke-width="0.8" />
<rect x="296.46" y="305.59" width="5.89" height="6.01" fill="#8686fa" stroke="none" stroke-width="0.8" />
<rect x="302.35" y="305.59" width="5.89" height="6.01" fill="#4848f7" stroke="none" stroke-width="0.8" />
<rect x="308.23" y="305.59" width="5.89" height="6.01" fill="#c9c9fd" stroke="none" stroke-width="0.8" />
<rect x="314.12" y="305.59" width="5.89" height="6.01" fill="#7171f9" stroke="none" stroke-width="0.8" />
<text x="169.60" y="316.20" font-size="5.6" text-anchor="end" font-weight="normal" fill="#111"  stroke="#111" stroke-width="0.12">KLRG1</text>
<rect x="171.60" y="311.60" width="5.72" height="6.01" fill="#9b9bfb" stroke="none" stroke-width="0.8" />
<rect x="177.32" y="311.60" width="5.72" height="6.01" fill="#9b9bfb" stroke="none" stroke-width="0.8" />
<rect x="183.04" y="311.60" width="5.72" height="6.01" fill="#9b9bfb" stroke="none" stroke-width="0.8" />
<rect x="188.76" y="311.60" width="5.72" height="6.01" fill="#7171f9" stroke="none" stroke-width="0.8" />
<rect x="196.40" y="311.60" width="5.89" height="6.01" fill="#7171f9" stroke="none" stroke-width="0.8" />
<rect x="202.29" y="311.60" width="5.89" height="6.01" fill="#7171f9" stroke="none" stroke-width="0.8" />
<rect x="208.17" y="311.60" width="5.89" height="6.01" fill="#9b9bfb" stroke="none" stroke-width="0.8" />
<rect x="214.06" y="311.60" width="5.89" height="6.01" fill="#c9c9fd" stroke="none" stroke-width="0.8" />
<rect x="219.94" y="311.60" width="5.89" height="6.01" fill="#ffffff" stroke="none" stroke-width="0.8" />
<rect x="225.83" y="311.60" width="5.89" height="6.01" fill="#7171f9" stroke="none" stroke-width="0.8" />
<rect x="231.72" y="311.60" width="5.89" height="6.01" fill="#ffffff" stroke="none" stroke-width="0.8" />
<rect x="237.60" y="311.60" width="5.89" height="6.01" fill="#5c5cf8" stroke="none" stroke-width="0.8" />
<rect x="243.49" y="311.60" width="5.89" height="6.01" fill="#5c5cf8" stroke="none" stroke-width="0.8" />
<rect x="249.37" y="311.60" width="5.89" height="6.01" fill="#5c5cf8" stroke="none" stroke-width="0.8" />
<rect x="255.26" y="311.60" width="5.89" height="6.01" fill="#4848f7" stroke="none" stroke-width="0.8" />
<rect x="261.15" y="311.60" width="5.89" height="6.01" fill="#9b9bfb" stroke="none" stroke-width="0.8" />
<rect x="267.03" y="311.60" width="5.89" height="6.01" fill="#4848f7" stroke="none" stroke-width="0.8" />
<rect x="272.92" y="311.60" width="5.89" height="6.01" fill="#7171f9" stroke="none" stroke-width="0.8" />
<rect x="278.80" y="311.60" width="5.89" height="6.01" fill="#7171f9" stroke="none" stroke-width="0.8" />
<rect x="284.69" y="311.60" width="5.89" height="6.01" fill="#4848f7" stroke="none" stroke-width="0.8" />
<rect x="290.58" y="311.60" width="5.89" height="6.01" fill="#c9c9fd" stroke="none" stroke-width="0.8" />
<rect x="296.46" y="311.60" width="5.89" height="6.01" fill="#ffffff" stroke="none" stroke-width="0.8" />
<rect x="302.35" y="311.60" width="5.89" height="6.01" fill="#7171f9" stroke="none" stroke-width="0.8" />
<rect x="308.23" y="311.60" width="5.89" height="6.01" fill="#c9c9fd" stroke="none" stroke-width="0.8" />
<rect x="314.12" y="311.60" width="5.89" height="6.01" fill="#9b9bfb" stroke="none" stroke-width="0.8" />
<text x="169.60" y="322.22" font-size="5.6" text-anchor="end" font-weight="normal" fill="#111"  stroke="#111" stroke-width="0.12">CD127</text>
<rect x="171.60" y="317.62" width="5.72" height="6.01" fill="#ffffff" stroke="none" stroke-width="0.8" />
<rect x="177.32" y="317.62" width="5.72" height="6.01" fill="#ffffff" stroke="none" stroke-width="0.8" />
<rect x="183.04" y="317.62" width="5.72" height="6.01" fill="#ffffff" stroke="none" stroke-width="0.8" />
<rect x="188.76" y="317.62" width="5.72" height="6.01" fill="#ffffff" stroke="none" stroke-width="0.8" />
<rect x="196.40" y="317.62" width="5.89" height="6.01" fill="#e2e2fe" stroke="none" stroke-width="0.8" />
<rect x="202.29" y="317.62" width="5.89" height="6.01" fill="#ffffff" stroke="none" stroke-width="0.8" />
<rect x="208.17" y="317.62" width="5.89" height="6.01" fill="#ffffff" stroke="none" stroke-width="0.8" />
<rect x="214.06" y="317.62" width="5.89" height="6.01" fill="#c9c9fd" stroke="none" stroke-width="0.8" />
<rect x="219.94" y="317.62" width="5.89" height="6.01" fill="#ffffff" stroke="none" stroke-width="0.8" />
<rect x="225.83" y="317.62" width="5.89" height="6.01" fill="#ffffff" stroke="none" stroke-width="0.8" />
<rect x="231.72" y="317.62" width="5.89" height="6.01" fill="#7171f9" stroke="none" stroke-width="0.8" />
<rect x="237.60" y="317.62" width="5.89" height="6.01" fill="#ffffff" stroke="none" stroke-width="0.8" />
<rect x="243.49" y="317.62" width="5.89" height="6.01" fill="#ffffff" stroke="none" stroke-width="0.8" />
<rect x="249.37" y="317.62" width="5.89" height="6.01" fill="#ffffff" stroke="none" stroke-width="0.8" />
<rect x="255.26" y="317.62" width="5.89" height="6.01" fill="#ffffff" stroke="none" stroke-width="0.8" />
<rect x="261.15" y="317.62" width="5.89" height="6.01" fill="#ffffff" stroke="none" stroke-width="0.8" />
<rect x="267.03" y="317.62" width="5.89" height="6.01" fill="#ffffff" stroke="none" stroke-width="0.8" />
<rect x="272.92" y="317.62" width="5.89" height="6.01" fill="#ffffff" stroke="none" stroke-width="0.8" />
<rect x="278.80" y="317.62" width="5.89" height="6.01" fill="#ffffff" stroke="none" stroke-width="0.8" />
<rect x="284.69" y="317.62" width="5.89" height="6.01" fill="#c9c9fd" stroke="none" stroke-width="0.8" />
<rect x="290.58" y="317.62" width="5.89" height="6.01" fill="#ffffff" stroke="none" stroke-width="0.8" />
<rect x="296.46" y="317.62" width="5.89" height="6.01" fill="#ffffff" stroke="none" stroke-width="0.8" />
<rect x="302.35" y="317.62" width="5.89" height="6.01" fill="#9b9bfb" stroke="none" stroke-width="0.8" />
<rect x="308.23" y="317.62" width="5.89" height="6.01" fill="#7171f9" stroke="none" stroke-width="0.8" />
<rect x="314.12" y="317.62" width="5.89" height="6.01" fill="#e2e2fe" stroke="none" stroke-width="0.8" />
<text x="169.60" y="328.23" font-size="5.6" text-anchor="end" font-weight="normal" fill="#111"  stroke="#111" stroke-width="0.12">CD38</text>
<rect x="171.60" y="323.63" width="5.72" height="6.01" fill="#e2e2fe" stroke="none" stroke-width="0.8" />
<rect x="177.32" y="323.63" width="5.72" height="6.01" fill="#4848f7" stroke="none" stroke-width="0.8" />
<rect x="183.04" y="323.63" width="5.72" height="6.01" fill="#4848f7" stroke="none" stroke-width="0.8" />
<rect x="188.76" y="323.63" width="5.72" height="6.01" fill="#9b9bfb" stroke="none" stroke-width="0.8" />
<rect x="196.40" y="323.63" width="5.89" height="6.01" fill="#2020f5" stroke="none" stroke-width="0.8" />
<rect x="202.29" y="323.63" width="5.89" height="6.01" fill="#9b9bfb" stroke="none" stroke-width="0.8" />
<rect x="208.17" y="323.63" width="5.89" height="6.01" fill="#4848f7" stroke="none" stroke-width="0.8" />
<rect x="214.06" y="323.63" width="5.89" height="6.01" fill="#9b9bfb" stroke="none" stroke-width="0.8" />
<rect x="219.94" y="323.63" width="5.89" height="6.01" fill="#7171f9" stroke="none" stroke-width="0.8" />
<rect x="225.83" y="323.63" width="5.89" height="6.01" fill="#c9c9fd" stroke="none" stroke-width="0.8" />
<rect x="231.72" y="323.63" width="5.89" height="6.01" fill="#9b9bfb" stroke="none" stroke-width="0.8" />
<rect x="237.60" y="323.63" width="5.89" height="6.01" fill="#c9c9fd" stroke="none" stroke-width="0.8" />
<rect x="243.49" y="323.63" width="5.89" height="6.01" fill="#9b9bfb" stroke="none" stroke-width="0.8" />
<rect x="249.37" y="323.63" width="5.89" height="6.01" fill="#9b9bfb" stroke="none" stroke-width="0.8" />
<rect x="255.26" y="323.63" width="5.89" height="6.01" fill="#c9c9fd" stroke="none" stroke-width="0.8" />
<rect x="261.15" y="323.63" width="5.89" height="6.01" fill="#9b9bfb" stroke="none" stroke-width="0.8" />
<rect x="267.03" y="323.63" width="5.89" height="6.01" fill="#9b9bfb" stroke="none" stroke-width="0.8" />
<rect x="272.92" y="323.63" width="5.89" height="6.01" fill="#9b9bfb" stroke="none" stroke-width="0.8" />
<rect x="278.80" y="323.63" width="5.89" height="6.01" fill="#c9c9fd" stroke="none" stroke-width="0.8" />
<rect x="284.69" y="323.63" width="5.89" height="6.01" fill="#c9c9fd" stroke="none" stroke-width="0.8" />
<rect x="290.58" y="323.63" width="5.89" height="6.01" fill="#4848f7" stroke="none" stroke-width="0.8" />
<rect x="296.46" y="323.63" width="5.89" height="6.01" fill="#7171f9" stroke="none" stroke-width="0.8" />
<rect x="302.35" y="323.63" width="5.89" height="6.01" fill="#4848f7" stroke="none" stroke-width="0.8" />
<rect x="308.23" y="323.63" width="5.89" height="6.01" fill="#4848f7" stroke="none" stroke-width="0.8" />
<rect x="314.12" y="323.63" width="5.89" height="6.01" fill="#4848f7" stroke="none" stroke-width="0.8" />
<text x="169.60" y="334.24" font-size="5.6" text-anchor="end" font-weight="normal" fill="#111"  stroke="#111" stroke-width="0.12">CD49d</text>
<rect x="171.60" y="329.64" width="5.72" height="6.01" fill="#9b9bfb" stroke="none" stroke-width="0.8" />
<rect x="177.32" y="329.64" width="5.72" height="6.01" fill="#7171f9" stroke="none" stroke-width="0.8" />
<rect x="183.04" y="329.64" width="5.72" height="6.01" fill="#7171f9" stroke="none" stroke-width="0.8" />
<rect x="188.76" y="329.64" width="5.72" height="6.01" fill="#9b9bfb" stroke="none" stroke-width="0.8" />
<rect x="196.40" y="329.64" width="5.89" height="6.01" fill="#2020f5" stroke="none" stroke-width="0.8" />
<rect x="202.29" y="329.64" width="5.89" height="6.01" fill="#7171f9" stroke="none" stroke-width="0.8" />
<rect x="208.17" y="329.64" width="5.89" height="6.01" fill="#7171f9" stroke="none" stroke-width="0.8" />
<rect x="214.06" y="329.64" width="5.89" height="6.01" fill="#7171f9" stroke="none" stroke-width="0.8" />
<rect x="219.94" y="329.64" width="5.89" height="6.01" fill="#7171f9" stroke="none" stroke-width="0.8" />
<rect x="225.83" y="329.64" width="5.89" height="6.01" fill="#9b9bfb" stroke="none" stroke-width="0.8" />
<rect x="231.72" y="329.64" width="5.89" height="6.01" fill="#c9c9fd" stroke="none" stroke-width="0.8" />
<rect x="237.60" y="329.64" width="5.89" height="6.01" fill="#4848f7" stroke="none" stroke-width="0.8" />
<rect x="243.49" y="329.64" width="5.89" height="6.01" fill="#7171f9" stroke="none" stroke-width="0.8" />
<rect x="249.37" y="329.64" width="5.89" height="6.01" fill="#7171f9" stroke="none" stroke-width="0.8" />
<rect x="255.26" y="329.64" width="5.89" height="6.01" fill="#7171f9" stroke="none" stroke-width="0.8" />
<rect x="261.15" y="329.64" width="5.89" height="6.01" fill="#7171f9" stroke="none" stroke-width="0.8" />
<rect x="267.03" y="329.64" width="5.89" height="6.01" fill="#7171f9" stroke="none" stroke-width="0.8" />
<rect x="272.92" y="329.64" width="5.89" height="6.01" fill="#7171f9" stroke="none" stroke-width="0.8" />
<rect x="278.80" y="329.64" width="5.89" height="6.01" fill="#9b9bfb" stroke="none" stroke-width="0.8" />
<rect x="284.69" y="329.64" width="5.89" height="6.01" fill="#7171f9" stroke="none" stroke-width="0.8" />
<rect x="290.58" y="329.64" width="5.89" height="6.01" fill="#7171f9" stroke="none" stroke-width="0.8" />
<rect x="296.46" y="329.64" width="5.89" height="6.01" fill="#9b9bfb" stroke="none" stroke-width="0.8" />
<rect x="302.35" y="329.64" width="5.89" height="6.01" fill="#4848f7" stroke="none" stroke-width="0.8" />
<rect x="308.23" y="329.64" width="5.89" height="6.01" fill="#7171f9" stroke="none" stroke-width="0.8" />
<rect x="314.12" y="329.64" width="5.89" height="6.01" fill="#4848f7" stroke="none" stroke-width="0.8" />
<text x="169.60" y="340.26" font-size="5.6" text-anchor="end" font-weight="normal" fill="#111"  stroke="#111" stroke-width="0.12">CD197</text>
<rect x="171.60" y="335.66" width="5.72" height="6.01" fill="#ffffff" stroke="none" stroke-width="0.8" />
<rect x="177.32" y="335.66" width="5.72" height="6.01" fill="#ffffff" stroke="none" stroke-width="0.8" />
<rect x="183.04" y="335.66" width="5.72" height="6.01" fill="#ffffff" stroke="none" stroke-width="0.8" />
<rect x="188.76" y="335.66" width="5.72" height="6.01" fill="#ffffff" stroke="none" stroke-width="0.8" />
<rect x="196.40" y="335.66" width="5.89" height="6.01" fill="#c9c9fd" stroke="none" stroke-width="0.8" />
<rect x="202.29" y="335.66" width="5.89" height="6.01" fill="#ffffff" stroke="none" stroke-width="0.8" />
<rect x="208.17" y="335.66" width="5.89" height="6.01" fill="#ffffff" stroke="none" stroke-width="0.8" />
<rect x="214.06" y="335.66" width="5.89" height="6.01" fill="#4848f7" stroke="none" stroke-width="0.8" />
<rect x="219.94" y="335.66" width="5.89" height="6.01" fill="#ffffff" stroke="none" stroke-width="0.8" />
<rect x="225.83" y="335.66" width="5.89" height="6.01" fill="#ffffff" stroke="none" stroke-width="0.8" />
<rect x="231.72" y="335.66" width="5.89" height="6.01" fill="#9b9bfb" stroke="none" stroke-width="0.8" />
<rect x="237.60" y="335.66" width="5.89" height="6.01" fill="#9b9bfb" stroke="none" stroke-width="0.8" />
<rect x="243.49" y="335.66" width="5.89" height="6.01" fill="#ffffff" stroke="none" stroke-width="0.8" />
<rect x="249.37" y="335.66" width="5.89" height="6.01" fill="#ffffff" stroke="none" stroke-width="0.8" />
<rect x="255.26" y="335.66" width="5.89" height="6.01" fill="#9b9bfb" stroke="none" stroke-width="0.8" />
<rect x="261.15" y="335.66" width="5.89" height="6.01" fill="#ffffff" stroke="none" stroke-width="0.8" />
<rect x="267.03" y="335.66" width="5.89" height="6.01" fill="#ffffff" stroke="none" stroke-width="0.8" />
<rect x="272.92" y="335.66" width="5.89" height="6.01" fill="#9b9bfb" stroke="none" stroke-width="0.8" />
<rect x="278.80" y="335.66" width="5.89" height="6.01" fill="#9b9bfb" stroke="none" stroke-width="0.8" />
<rect x="284.69" y="335.66" width="5.89" height="6.01" fill="#7171f9" stroke="none" stroke-width="0.8" />
<rect x="290.58" y="335.66" width="5.89" height="6.01" fill="#ffffff" stroke="none" stroke-width="0.8" />
<rect x="296.46" y="335.66" width="5.89" height="6.01" fill="#ffffff" stroke="none" stroke-width="0.8" />
<rect x="302.35" y="335.66" width="5.89" height="6.01" fill="#7171f9" stroke="none" stroke-width="0.8" />
<rect x="308.23" y="335.66" width="5.89" height="6.01" fill="#7171f9" stroke="none" stroke-width="0.8" />
<rect x="314.12" y="335.66" width="5.89" height="6.01" fill="#c9c9fd" stroke="none" stroke-width="0.8" />
<text x="169.60" y="346.27" font-size="5.6" text-anchor="end" font-weight="normal" fill="#111"  stroke="#111" stroke-width="0.12">CD62L</text>
<rect x="171.60" y="341.67" width="5.72" height="6.01" fill="#ffffff" stroke="none" stroke-width="0.8" />
<rect x="177.32" y="341.67" width="5.72" height="6.01" fill="#ffffff" stroke="none" stroke-width="0.8" />
<rect x="183.04" y="341.67" width="5.72" height="6.01" fill="#ffffff" stroke="none" stroke-width="0.8" />
<rect x="188.76" y="341.67" width="5.72" height="6.01" fill="#ffffff" stroke="none" stroke-width="0.8" />
<rect x="196.40" y="341.67" width="5.89" height="6.01" fill="#9b9bfb" stroke="none" stroke-width="0.8" />
<rect x="202.29" y="341.67" width="5.89" height="6.01" fill="#ffffff" stroke="none" stroke-width="0.8" />
<rect x="208.17" y="341.67" width="5.89" height="6.01" fill="#ffffff" stroke="none" stroke-width="0.8" />
<rect x="214.06" y="341.67" width="5.89" height="6.01" fill="#ffffff" stroke="none" stroke-width="0.8" />
<rect x="219.94" y="341.67" width="5.89" height="6.01" fill="#ffffff" stroke="none" stroke-width="0.8" />
<rect x="225.83" y="341.67" width="5.89" height="6.01" fill="#ffffff" stroke="none" stroke-width="0.8" />
<rect x="231.72" y="341.67" width="5.89" height="6.01" fill="#3434f6" stroke="none" stroke-width="0.8" />
<rect x="237.60" y="341.67" width="5.89" height="6.01" fill="#ffffff" stroke="none" stroke-width="0.8" />
<rect x="243.49" y="341.67" width="5.89" height="6.01" fill="#ffffff" stroke="none" stroke-width="0.8" />
<rect x="249.37" y="341.67" width="5.89" height="6.01" fill="#ffffff" stroke="none" stroke-width="0.8" />
<rect x="255.26" y="341.67" width="5.89" height="6.01" fill="#4848f7" stroke="none" stroke-width="0.8" />
<rect x="261.15" y="341.67" width="5.89" height="6.01" fill="#5c5cf8" stroke="none" stroke-width="0.8" />
<rect x="267.03" y="341.67" width="5.89" height="6.01" fill="#4848f7" stroke="none" stroke-width="0.8" />
<rect x="272.92" y="341.67" width="5.89" height="6.01" fill="#ffffff" stroke="none" stroke-width="0.8" />
<rect x="278.80" y="341.67" width="5.89" height="6.01" fill="#ffffff" stroke="none" stroke-width="0.8" />
<rect x="284.69" y="341.67" width="5.89" height="6.01" fill="#ffffff" stroke="none" stroke-width="0.8" />
<rect x="290.58" y="341.67" width="5.89" height="6.01" fill="#4848f7" stroke="none" stroke-width="0.8" />
<rect x="296.46" y="341.67" width="5.89" height="6.01" fill="#ffffff" stroke="none" stroke-width="0.8" />
<rect x="302.35" y="341.67" width="5.89" height="6.01" fill="#3434f6" stroke="none" stroke-width="0.8" />
<rect x="308.23" y="341.67" width="5.89" height="6.01" fill="#3434f6" stroke="none" stroke-width="0.8" />
<rect x="314.12" y="341.67" width="5.89" height="6.01" fill="#4848f7" stroke="none" stroke-width="0.8" />
<text x="169.60" y="352.28" font-size="5.6" text-anchor="end" font-weight="normal" fill="#111"  stroke="#111" stroke-width="0.12">CD39</text>
<rect x="171.60" y="347.68" width="5.72" height="6.01" fill="#ffffff" stroke="none" stroke-width="0.8" />
<rect x="177.32" y="347.68" width="5.72" height="6.01" fill="#ffffff" stroke="none" stroke-width="0.8" />
<rect x="183.04" y="347.68" width="5.72" height="6.01" fill="#ffffff" stroke="none" stroke-width="0.8" />
<rect x="188.76" y="347.68" width="5.72" height="6.01" fill="#ffffff" stroke="none" stroke-width="0.8" />
<rect x="196.40" y="347.68" width="5.89" height="6.01" fill="#4848f7" stroke="none" stroke-width="0.8" />
<rect x="202.29" y="347.68" width="5.89" height="6.01" fill="#ffffff" stroke="none" stroke-width="0.8" />
<rect x="208.17" y="347.68" width="5.89" height="6.01" fill="#ffffff" stroke="none" stroke-width="0.8" />
<rect x="214.06" y="347.68" width="5.89" height="6.01" fill="#ffffff" stroke="none" stroke-width="0.8" />
<rect x="219.94" y="347.68" width="5.89" height="6.01" fill="#ffffff" stroke="none" stroke-width="0.8" />
<rect x="225.83" y="347.68" width="5.89" height="6.01" fill="#ffffff" stroke="none" stroke-width="0.8" />
<rect x="231.72" y="347.68" width="5.89" height="6.01" fill="#ffffff" stroke="none" stroke-width="0.8" />
<rect x="237.60" y="347.68" width="5.89" height="6.01" fill="#ffffff" stroke="none" stroke-width="0.8" />
<rect x="243.49" y="347.68" width="5.89" height="6.01" fill="#ffffff" stroke="none" stroke-width="0.8" />
<rect x="249.37" y="347.68" width="5.89" height="6.01" fill="#ffffff" stroke="none" stroke-width="0.8" />
<rect x="255.26" y="347.68" width="5.89" height="6.01" fill="#ffffff" stroke="none" stroke-width="0.8" />
<rect x="261.15" y="347.68" width="5.89" height="6.01" fill="#ffffff" stroke="none" stroke-width="0.8" />
<rect x="267.03" y="347.68" width="5.89" height="6.01" fill="#ffffff" stroke="none" stroke-width="0.8" />
<rect x="272.92" y="347.68" width="5.89" height="6.01" fill="#ffffff" stroke="none" stroke-width="0.8" />
<rect x="278.80" y="347.68" width="5.89" height="6.01" fill="#ffffff" stroke="none" stroke-width="0.8" />
<rect x="284.69" y="347.68" width="5.89" height="6.01" fill="#ffffff" stroke="none" stroke-width="0.8" />
<rect x="290.58" y="347.68" width="5.89" height="6.01" fill="#ffffff" stroke="none" stroke-width="0.8" />
<rect x="296.46" y="347.68" width="5.89" height="6.01" fill="#ffffff" stroke="none" stroke-width="0.8" />
<rect x="302.35" y="347.68" width="5.89" height="6.01" fill="#9b9bfb" stroke="none" stroke-width="0.8" />
<rect x="308.23" y="347.68" width="5.89" height="6.01" fill="#c9c9fd" stroke="none" stroke-width="0.8" />
<rect x="314.12" y="347.68" width="5.89" height="6.01" fill="#ffffff" stroke="none" stroke-width="0.8" />
<path d="M171.60,263.50H194.48M196.40,263.50H320.01M171.60,269.51H194.48M196.40,269.51H320.01M171.60,275.53H194.48M196.40,275.53H320.01M171.60,281.54H194.48M196.40,281.54H320.01M171.60,287.55H194.48M196.40,287.55H320.01M171.60,293.56H194.48M196.40,293.56H320.01M171.60,299.58H194.48M196.40,299.58H320.01M171.60,305.59H194.48M196.40,305.59H320.01M171.60,311.60H194.48M196.40,311.60H320.01M171.60,317.62H194.48M196.40,317.62H320.01M171.60,323.63H194.48M196.40,323.63H320.01M171.60,329.64H194.48M196.40,329.64H320.01M171.60,335.66H194.48M196.40,335.66H320.01M171.60,341.67H194.48M196.40,341.67H320.01M171.60,347.68H194.48M196.40,347.68H320.01M171.60,353.69H194.48M196.40,353.69H320.01M171.60,263.50V353.69M177.32,263.50V353.69M183.04,263.50V353.69M188.76,263.50V353.69M194.48,263.50V353.69M196.40,263.50V353.69M202.29,263.50V353.69M208.17,263.50V353.69M214.06,263.50V353.69M219.94,263.50V353.69M225.83,263.50V353.69M231.72,263.50V353.69M237.60,263.50V353.69M243.49,263.50V353.69M249.37,263.50V353.69M255.26,263.50V353.69M261.15,263.50V353.69M267.03,263.50V353.69M272.92,263.50V353.69M278.80,263.50V353.69M284.69,263.50V353.69M290.58,263.50V353.69M296.46,263.50V353.69M302.35,263.50V353.69M308.23,263.50V353.69M314.12,263.50V353.69M320.01,263.50V353.69" stroke="#222" stroke-width="0.6" fill="none"/>
<text x="169.60" y="359.00" font-size="5.6" text-anchor="end" font-weight="normal" fill="#000"  stroke="#000" stroke-width="0.12">MC</text>
<text x="174.46" y="358.60" font-size="4.3" text-anchor="middle" font-weight="normal" fill="#000" >5</text>
<text x="180.18" y="358.60" font-size="4.3" text-anchor="middle" font-weight="normal" fill="#000" >6</text>
<text x="185.90" y="358.60" font-size="4.3" text-anchor="middle" font-weight="normal" fill="#000" >9</text>
<text x="191.62" y="358.60" font-size="4.3" text-anchor="middle" font-weight="normal" fill="#000" >11</text>
<text x="199.34" y="358.60" font-size="4.3" text-anchor="middle" font-weight="normal" fill="#000" >1</text>
<text x="205.23" y="358.60" font-size="4.3" text-anchor="middle" font-weight="normal" fill="#000" >2</text>
<text x="211.12" y="358.60" font-size="4.3" text-anchor="middle" font-weight="normal" fill="#000" >3</text>
<text x="217.00" y="358.60" font-size="4.3" text-anchor="middle" font-weight="normal" fill="#000" >4</text>
<text x="222.89" y="358.60" font-size="4.3" text-anchor="middle" font-weight="normal" fill="#000" >7</text>
<text x="228.77" y="358.60" font-size="4.3" text-anchor="middle" font-weight="normal" fill="#000" >8</text>
<text x="234.66" y="358.60" font-size="4.3" text-anchor="middle" font-weight="normal" fill="#000" >10</text>
<text x="240.55" y="358.60" font-size="4.3" text-anchor="middle" font-weight="normal" fill="#000" >12</text>
<text x="246.43" y="358.60" font-size="4.3" text-anchor="middle" font-weight="normal" fill="#000" >13</text>
<text x="252.32" y="358.60" font-size="4.3" text-anchor="middle" font-weight="normal" fill="#000" >14</text>
<text x="258.20" y="358.60" font-size="4.3" text-anchor="middle" font-weight="normal" fill="#000" >15</text>
<text x="264.09" y="358.60" font-size="4.3" text-anchor="middle" font-weight="normal" fill="#000" >16</text>
<text x="269.98" y="358.60" font-size="4.3" text-anchor="middle" font-weight="normal" fill="#000" >17</text>
<text x="275.86" y="358.60" font-size="4.3" text-anchor="middle" font-weight="normal" fill="#000" >18</text>
<text x="281.75" y="358.60" font-size="4.3" text-anchor="middle" font-weight="normal" fill="#000" >19</text>
<text x="287.63" y="358.60" font-size="4.3" text-anchor="middle" font-weight="normal" fill="#000" >20</text>
<text x="293.52" y="358.60" font-size="4.3" text-anchor="middle" font-weight="normal" fill="#000" >21</text>
<text x="299.40" y="358.60" font-size="4.3" text-anchor="middle" font-weight="normal" fill="#000" >22</text>
<text x="305.29" y="358.60" font-size="4.3" text-anchor="middle" font-weight="normal" fill="#000" >23</text>
<text x="311.18" y="358.60" font-size="4.3" text-anchor="middle" font-weight="normal" fill="#000" >24</text>
<text x="317.06" y="358.60" font-size="4.3" text-anchor="middle" font-weight="normal" fill="#000" >25</text>
<text x="169.10" y="260.20" font-size="6.3" text-anchor="start" font-weight="normal" fill="#000" textLength="28.6" lengthAdjust="spacingAndGlyphs"  stroke="#000" stroke-width="0.12">CD69<tspan dy="-2.4" font-size="4.8">+</tspan><tspan dy="2.4">​</tspan> T<tspan dy="1.4" font-size="3.9">TE</tspan><tspan dy="-1.4">​</tspan></text>
<text x="236.10" y="260.20" font-size="6.3" text-anchor="start" font-weight="normal" fill="#000" textLength="27.4" lengthAdjust="spacingAndGlyphs"  stroke="#000" stroke-width="0.12">CD69<tspan dy="-2.4" font-size="4.8">-</tspan><tspan dy="2.4">​</tspan> T<tspan dy="1.4" font-size="3.9">TE</tspan><tspan dy="-1.4">​</tspan></text>
<text x="214.75" y="246.10" font-size="6.0" text-anchor="start" font-weight="normal" fill="#000" textLength="10.9" lengthAdjust="spacingAndGlyphs"  stroke="#000" stroke-width="0.12">Low</text>
<text x="263.85" y="246.10" font-size="6.0" text-anchor="start" font-weight="normal" fill="#000" textLength="11.9" lengthAdjust="spacingAndGlyphs"  stroke="#000" stroke-width="0.12">High</text>
<rect x="214.80" y="249.10" width="59.60" height="2.80" fill="url(#wb)" stroke="#555" stroke-width="0.4" />
<text x="334.80" y="234.80" font-size="11.6" text-anchor="start" font-weight="bold" fill="#000" stroke="#000" stroke-width="0.25">G</text>
<text x="362.95" y="245.80" font-size="6.7" text-anchor="start" font-weight="normal" fill="#222" textLength="18.3" lengthAdjust="spacingAndGlyphs"  stroke="#222" stroke-width="0.12">MGUS</text>
<text x="421.50" y="245.80" font-size="6.7" text-anchor="start" font-weight="normal" fill="#222" textLength="19.4" lengthAdjust="spacingAndGlyphs"  stroke="#222" stroke-width="0.12">NDMM</text>
<circle cx="377.40" cy="267.80" r="10.3" fill="#c9c9cf" stroke="#333" stroke-width="0.6"/>
<path d="M377.4,267.8 L377.40,257.50 A10.3,10.3 0 0 1 380.92,258.12 Z" fill="#b5122e" stroke="#222" stroke-width="0.4"/>
<path d="M377.4,267.8 L380.92,258.12 A10.3,10.3 0 0 1 383.31,259.36 Z" fill="#6cbf44" stroke="#222" stroke-width="0.4"/>
<path d="M377.4,267.8 L383.31,259.36 A10.3,10.3 0 0 1 384.93,260.78 Z" fill="#f39a1e" stroke="#222" stroke-width="0.4"/>
<circle cx="377.40" cy="267.80" r="10.3" fill="none" stroke="#333" stroke-width="0.6"/>
<path d="M377.40,254.90 A12.9,12.9 0 0 1 386.80,258.97" fill="none" stroke="#222" stroke-width="0.6"/>
<circle cx="377.40" cy="294.60" r="10.3" fill="#c9c9cf" stroke="#333" stroke-width="0.6"/>
<path d="M377.4,294.6 L377.40,284.30 A10.3,10.3 0 0 1 382.55,285.68 Z" fill="#b5122e" stroke="#222" stroke-width="0.4"/>
<path d="M377.4,294.6 L382.55,285.68 A10.3,10.3 0 0 1 385.29,287.98 Z" fill="#6cbf44" stroke="#222" stroke-width="0.4"/>
<path d="M377.4,294.6 L385.29,287.98 A10.3,10.3 0 0 1 385.99,288.92 Z" fill="#f39a1e" stroke="#222" stroke-width="0.4"/>
<circle cx="377.40" cy="294.60" r="10.3" fill="none" stroke="#333" stroke-width="0.6"/>
<path d="M377.40,281.70 A12.9,12.9 0 0 1 388.16,287.48" fill="none" stroke="#222" stroke-width="0.6"/>
<circle cx="377.40" cy="320.10" r="10.3" fill="#c9c9cf" stroke="#333" stroke-width="0.6"/>
<path d="M377.4,320.1 L377.40,309.80 A10.3,10.3 0 0 1 382.55,311.18 Z" fill="#b5122e" stroke="#222" stroke-width="0.4"/>
<path d="M377.4,320.1 L382.55,311.18 A10.3,10.3 0 0 1 383.31,311.66 Z" fill="#6cbf44" stroke="#222" stroke-width="0.4"/>
<path d="M377.4,320.1 L383.31,311.66 A10.3,10.3 0 0 1 384.02,312.21 Z" fill="#f39a1e" stroke="#222" stroke-width="0.4"/>
<circle cx="377.40" cy="320.10" r="10.3" fill="none" stroke="#333" stroke-width="0.6"/>
<path d="M377.40,307.20 A12.9,12.9 0 0 1 385.69,310.21" fill="none" stroke="#222" stroke-width="0.6"/>
<circle cx="434.80" cy="266.80" r="10.3" fill="#c9c9cf" stroke="#333" stroke-width="0.6"/>
<path d="M434.8,266.8 L434.80,256.50 A10.3,10.3 0 0 1 439.64,257.71 Z" fill="#b5122e" stroke="#222" stroke-width="0.4"/>
<path d="M434.8,266.8 L439.64,257.71 A10.3,10.3 0 0 1 439.48,275.98 Z" fill="#6cbf44" stroke="#222" stroke-width="0.4"/>
<path d="M434.8,266.8 L439.48,275.98 A10.3,10.3 0 0 1 432.48,276.84 Z" fill="#2a4c9c" stroke="#222" stroke-width="0.4"/>
<path d="M434.8,266.8 L432.48,276.84 A10.3,10.3 0 0 1 428.18,274.69 Z" fill="#f39a1e" stroke="#222" stroke-width="0.4"/>
<circle cx="434.80" cy="266.80" r="10.3" fill="none" stroke="#333" stroke-width="0.6"/>
<path d="M434.80,253.90 A12.9,12.9 0 1 1 426.45,276.64" fill="none" stroke="#222" stroke-width="0.6"/>
<circle cx="434.80" cy="294.00" r="10.3" fill="#c9c9cf" stroke="#333" stroke-width="0.6"/>
<path d="M434.8,294.0 L434.80,283.70 A10.3,10.3 0 0 1 441.42,286.11 Z" fill="#b5122e" stroke="#222" stroke-width="0.4"/>
<path d="M434.8,294.0 L441.42,286.11 A10.3,10.3 0 0 1 444.13,289.65 Z" fill="#6cbf44" stroke="#222" stroke-width="0.4"/>
<path d="M434.8,294.0 L444.13,289.65 A10.3,10.3 0 0 1 445.02,292.74 Z" fill="#2a4c9c" stroke="#222" stroke-width="0.4"/>
<path d="M434.8,294.0 L445.02,292.74 A10.3,10.3 0 0 1 443.34,299.76 Z" fill="#f39a1e" stroke="#222" stroke-width="0.4"/>
<circle cx="434.80" cy="294.00" r="10.3" fill="none" stroke="#333" stroke-width="0.6"/>
<path d="M434.80,281.10 A12.9,12.9 0 0 1 445.51,301.18" fill="none" stroke="#222" stroke-width="0.6"/>
<circle cx="434.50" cy="319.70" r="10.3" fill="#c9c9cf" stroke="#333" stroke-width="0.6"/>
<path d="M434.5,319.7 L434.50,309.40 A10.3,10.3 0 0 1 438.69,310.29 Z" fill="#b5122e" stroke="#222" stroke-width="0.4"/>
<path d="M434.5,319.7 L438.69,310.29 A10.3,10.3 0 0 1 441.91,312.55 Z" fill="#6cbf44" stroke="#222" stroke-width="0.4"/>
<path d="M434.5,319.7 L441.91,312.55 A10.3,10.3 0 0 1 443.33,314.40 Z" fill="#f39a1e" stroke="#222" stroke-width="0.4"/>
<circle cx="434.50" cy="319.70" r="10.3" fill="none" stroke="#333" stroke-width="0.6"/>
<path d="M434.50,306.80 A12.9,12.9 0 0 1 445.52,312.99" fill="none" stroke="#222" stroke-width="0.6"/>
<circle cx="434.50" cy="344.80" r="10.3" fill="#c9c9cf" stroke="#333" stroke-width="0.6"/>
<path d="M434.5,344.8 L434.50,334.50 A10.3,10.3 0 0 1 438.69,335.39 Z" fill="#b5122e" stroke="#222" stroke-width="0.4"/>
<path d="M434.5,344.8 L438.69,335.39 A10.3,10.3 0 0 1 441.26,337.03 Z" fill="#6cbf44" stroke="#222" stroke-width="0.4"/>
<circle cx="434.50" cy="344.80" r="10.3" fill="none" stroke="#333" stroke-width="0.6"/>
<path d="M434.50,331.90 A12.9,12.9 0 0 1 442.97,335.07" fill="none" stroke="#222" stroke-width="0.6"/>
<circle cx="434.20" cy="371.90" r="10.3" fill="#c9c9cf" stroke="#333" stroke-width="0.6"/>
<path d="M434.2,371.9 L434.20,361.60 A10.3,10.3 0 0 1 434.92,361.63 Z" fill="#b5122e" stroke="#222" stroke-width="0.4"/>
<path d="M434.2,371.9 L434.92,361.63 A10.3,10.3 0 0 1 436.95,361.97 Z" fill="#111111" stroke="#222" stroke-width="0.4"/>
<circle cx="434.20" cy="371.90" r="10.3" fill="none" stroke="#333" stroke-width="0.6"/>
<path d="M434.20,359.00 A12.9,12.9 0 0 1 437.64,359.47" fill="none" stroke="#222" stroke-width="0.6"/>
<text x="389.30" y="262.70" font-size="6.7" text-anchor="start" font-weight="normal" fill="#222" textLength="12.6" lengthAdjust="spacingAndGlyphs"  stroke="#222" stroke-width="0.12">13%</text>
<text x="389.30" y="289.00" font-size="6.7" text-anchor="start" font-weight="normal" fill="#222" textLength="17.4" lengthAdjust="spacingAndGlyphs"  stroke="#222" stroke-width="0.12">15.7%</text>
<text x="389.30" y="312.20" font-size="6.7" text-anchor="start" font-weight="normal" fill="#222" textLength="17.4" lengthAdjust="spacingAndGlyphs"  stroke="#222" stroke-width="0.12">11.1%</text>
<text x="449.90" y="263.20" font-size="6.7" text-anchor="start" font-weight="normal" fill="#222" textLength="17.8" lengthAdjust="spacingAndGlyphs"  stroke="#222" stroke-width="0.12">61.2%</text>
<text x="449.90" y="290.00" font-size="6.7" text-anchor="start" font-weight="normal" fill="#222" textLength="17.8" lengthAdjust="spacingAndGlyphs"  stroke="#222" stroke-width="0.12">34.4%</text>
<text x="449.90" y="312.00" font-size="6.7" text-anchor="start" font-weight="normal" fill="#222" textLength="17.8" lengthAdjust="spacingAndGlyphs"  stroke="#222" stroke-width="0.12">16.3%</text>
<text x="449.90" y="341.30" font-size="6.7" text-anchor="start" font-weight="normal" fill="#222" textLength="17.8" lengthAdjust="spacingAndGlyphs"  stroke="#222" stroke-width="0.12">11.4%</text>
<text x="449.90" y="372.70" font-size="6.7" text-anchor="start" font-weight="normal" fill="#222" textLength="13.7" lengthAdjust="spacingAndGlyphs"  stroke="#222" stroke-width="0.12">4.3%</text>
<rect x="361.80" y="345.90" width="6.20" height="3.20" fill="#b5122e" stroke="#333" stroke-width="0.4" />
<text x="370.60" y="349.40" font-size="5.6" text-anchor="start" font-weight="normal" fill="#000"  stroke="#000" stroke-width="0.12">MC5</text>
<rect x="361.80" y="352.52" width="6.20" height="3.20" fill="#6cbf44" stroke="#333" stroke-width="0.4" />
<text x="370.60" y="356.02" font-size="5.6" text-anchor="start" font-weight="normal" fill="#000"  stroke="#000" stroke-width="0.12">MC6</text>
<rect x="361.80" y="359.14" width="6.20" height="3.20" fill="#2a4c9c" stroke="#333" stroke-width="0.4" />
<text x="370.60" y="362.64" font-size="5.6" text-anchor="start" font-weight="normal" fill="#000"  stroke="#000" stroke-width="0.12">MC9</text>
<rect x="361.80" y="365.76" width="6.20" height="3.20" fill="#f39a1e" stroke="#333" stroke-width="0.4" />
<text x="370.60" y="369.26" font-size="5.6" text-anchor="start" font-weight="normal" fill="#000"  stroke="#000" stroke-width="0.12">MC11</text>
<rect x="361.80" y="373.00" width="6.20" height="3.20" fill="#c9c9cf" stroke="#333" stroke-width="0.4" />
<text x="370.60" y="376.50" font-size="5.6" text-anchor="start" font-weight="normal" fill="#000" textLength="30.5" lengthAdjust="spacingAndGlyphs"  stroke="#000" stroke-width="0.12">BM-CD69<tspan dy="-1.8" font-size="3.6">-</tspan><tspan dy="1.8">​</tspan>T<tspan dy="1.3" font-size="3.6">TE</tspan><tspan dy="-1.3">​</tspan></text>
<path d="M360,345.8 L358.6,345.8 L358.6,367.4 L360,367.4" fill="none" stroke="#333" stroke-width="0.6"/>
<text x="-15.40" y="0.00" font-size="5.4" text-anchor="start" font-weight="normal" fill="#000" transform="translate(354,358.4) rotate(-90)" textLength="30.8" lengthAdjust="spacingAndGlyphs"  stroke="#000" stroke-width="0.12">BM-CD69<tspan dy="-1.8" font-size="3.6">+</tspan><tspan dy="1.8">​</tspan> T<tspan dy="1.3" font-size="3.6">TE</tspan><tspan dy="-1.3">​</tspan></text>
<rect x="0" y="0" width="520" height="1" fill="#000"/><rect x="0" y="0" width="1" height="395" fill="#000"/><rect x="519" y="0" width="1" height="395" fill="#000"/><rect x="0" y="394" width="520" height="1" fill="#000"/>
</svg>
</body></html>
